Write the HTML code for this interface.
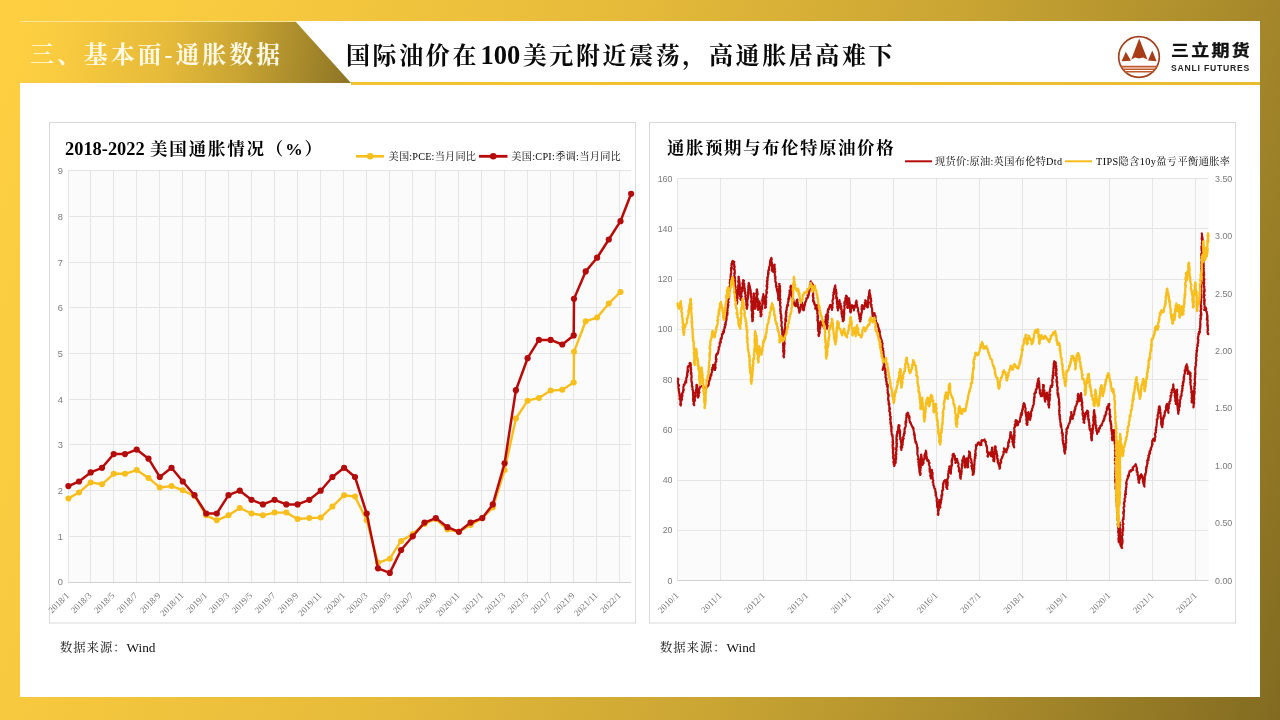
<!DOCTYPE html>
<html lang="zh-CN"><head><meta charset="utf-8"><title>三、基本面-通胀数据</title>
<style>
html,body{margin:0;padding:0}
body{width:1280px;height:720px;overflow:hidden;position:relative;
background:linear-gradient(109.3deg,rgb(253,207,65) 0%,rgb(248,202,63) 15%,rgb(229,186,58) 41.8%,rgb(202,165,51) 62.7%,rgb(173,142,44) 79%,rgb(130,107,33) 100%);
font-family:"Liberation Serif","Noto Serif CJK SC",serif}
.panel{position:absolute;left:20px;top:21px;width:1240px;height:676px;background:#fff}
.tab{position:absolute;left:20px;top:22px;width:331px;height:61px;
background:linear-gradient(97deg,rgb(253,207,65) 0%,rgb(248,202,63) 15%,rgb(229,186,58) 45%,rgb(202,165,51) 66%,rgb(173,142,44) 82%,rgb(140,116,38) 100%);
clip-path:polygon(0 0,276px 0,331px 61px,0 61px)}
.tabt{position:absolute;left:30px;top:25px;height:61px;line-height:61px;font-size:24px;font-weight:700;color:#fffae6;letter-spacing:2.9px;white-space:nowrap}
.title{position:absolute;left:345.5px;top:24.5px;height:61px;line-height:61px;font-size:24px;font-weight:700;color:#0a0a0a;letter-spacing:2.6px;white-space:nowrap}
.uline{position:absolute;left:351px;top:82px;width:909px;height:3px;background:linear-gradient(90deg,#f4c332,#efbf30 60%,#e9bb32)}
.logo{position:absolute;left:1115px;top:32.5px}
.brand{position:absolute;left:1170.5px;top:38.5px;width:80px;font-family:"Liberation Sans","Noto Sans CJK SC",sans-serif;font-weight:700;color:#111;font-size:15.6px;line-height:24px;white-space:nowrap;letter-spacing:2px;transform-origin:0 50%;transform:scaleX(1.15);-webkit-text-stroke:.35px #111}
.brand2{position:absolute;left:1171px;top:63px;font-family:"Liberation Sans",sans-serif;font-weight:700;color:#222;font-size:8.6px;line-height:10px;letter-spacing:.8px;white-space:nowrap}
.ct{position:absolute;font-weight:700;color:#000;font-size:17.5px;line-height:24px;white-space:nowrap;letter-spacing:.6px}
.src{position:absolute;font-size:12.3px;line-height:16px;color:#111;white-space:nowrap;letter-spacing:1px}
.src span{font-size:13.3px;letter-spacing:0}
svg.ch{position:absolute;left:0;top:0;will-change:transform}
.tabt,.title,.brand,.brand2,.ct,.src{will-change:transform}
.ax{font-family:"Liberation Sans",sans-serif;font-size:9.3px;fill:#7a7a7a}
.ax2{font-family:"Liberation Sans",sans-serif;font-size:8.9px;fill:#7a7a7a}
.xl{font-family:"Liberation Serif",serif;font-size:9.0px;fill:#777}
.lg{font-family:"Liberation Serif","Noto Serif CJK SC",serif;font-size:10.2px;fill:#000}
</style></head><body>
<div class="panel"></div>
<div class="tab"></div>
<div style="position:absolute;left:20px;top:21px;width:276px;height:1px;background:rgba(250,205,70,.55)"></div>
<div class="tabt">三、基本面-通胀数据</div>
<div class="title">国际油价在<span style="font-size:26.5px;letter-spacing:0;margin:0 2.6px 0 1.4px">100</span>美元附近震荡，高通胀居高难下</div>
<div class="uline"></div>
<svg class="logo" width="48" height="48" viewBox="0 0 48 48">
<circle cx="24" cy="24" r="20.3" fill="#fff" stroke="#a2431f" stroke-width="1.7"/>
<path d="M24.2 5.5 L32.5 26.5 L28 24.5 L24 25.5 L20 24.5 L16.2 26.8 Z" fill="#a83c17"/>
<path d="M10.8 18.8 L16 27.8 L6.6 28.3 Z" fill="#a83c17"/>
<path d="M37.3 17.6 L41.6 28.3 L33 27.6 Z" fill="#a83c17"/>
<path d="M6 33.6H42M7.5 36.2H40.5M9.5 38.8H38.5" stroke="#c0592c" stroke-width="1.6" fill="none"/>
</svg>
<div class="brand">三立期货</div>
<div class="brand2">SANLI FUTURES</div>
<svg class="ch" width="1280" height="720" viewBox="0 0 1280 720">
<rect x="49.5" y="122.5" width="586" height="500.5" fill="#fff" stroke="#d9d9d9" stroke-width="1"/>
<rect x="649.5" y="122.5" width="586" height="500.5" fill="#fff" stroke="#d9d9d9" stroke-width="1"/>
<rect x="68.0" y="171.0" width="563.0" height="411.0" fill="#fbfbfb"/>
<path d="M68.0 582.5H631.0M68.0 536.5H631.0M68.0 490.5H631.0M68.0 444.5H631.0M68.0 399.5H631.0M68.0 353.5H631.0M68.0 307.5H631.0M68.0 262.5H631.0M68.0 216.5H631.0M68.0 170.5H631.0M68.5 171.0V582.0M90.5 171.0V582.0M113.5 171.0V582.0M136.5 171.0V582.0M159.5 171.0V582.0M182.5 171.0V582.0M205.5 171.0V582.0M228.5 171.0V582.0M251.5 171.0V582.0M274.5 171.0V582.0M297.5 171.0V582.0M320.5 171.0V582.0M343.5 171.0V582.0M366.5 171.0V582.0M389.5 171.0V582.0M412.5 171.0V582.0M435.5 171.0V582.0M458.5 171.0V582.0M481.5 171.0V582.0M504.5 171.0V582.0M527.5 171.0V582.0M550.5 171.0V582.0M573.5 171.0V582.0M596.5 171.0V582.0M619.5 171.0V582.0" stroke="#e5e5e5" stroke-width="1" fill="none"/>
<path d="M68.0 582.5H631.0" stroke="#d2d2d2" stroke-width="1" fill="none"/>
<text x="63" y="585.2" class="ax" text-anchor="end">0</text>
<text x="63" y="539.5" class="ax" text-anchor="end">1</text>
<text x="63" y="493.9" class="ax" text-anchor="end">2</text>
<text x="63" y="448.2" class="ax" text-anchor="end">3</text>
<text x="63" y="402.5" class="ax" text-anchor="end">4</text>
<text x="63" y="356.8" class="ax" text-anchor="end">5</text>
<text x="63" y="311.2" class="ax" text-anchor="end">6</text>
<text x="63" y="265.5" class="ax" text-anchor="end">7</text>
<text x="63" y="219.8" class="ax" text-anchor="end">8</text>
<text x="63" y="174.2" class="ax" text-anchor="end">9</text>
<text transform="translate(69.8,596.0) rotate(-45)" class="xl" text-anchor="end">2018/1</text>
<text transform="translate(92.1,596.0) rotate(-45)" class="xl" text-anchor="end">2018/3</text>
<text transform="translate(115.1,596.0) rotate(-45)" class="xl" text-anchor="end">2018/5</text>
<text transform="translate(138.1,596.0) rotate(-45)" class="xl" text-anchor="end">2018/7</text>
<text transform="translate(161.2,596.0) rotate(-45)" class="xl" text-anchor="end">2018/9</text>
<text transform="translate(184.2,596.0) rotate(-45)" class="xl" text-anchor="end">2018/11</text>
<text transform="translate(207.6,596.0) rotate(-45)" class="xl" text-anchor="end">2019/1</text>
<text transform="translate(229.9,596.0) rotate(-45)" class="xl" text-anchor="end">2019/3</text>
<text transform="translate(252.9,596.0) rotate(-45)" class="xl" text-anchor="end">2019/5</text>
<text transform="translate(276.0,596.0) rotate(-45)" class="xl" text-anchor="end">2019/7</text>
<text transform="translate(299.0,596.0) rotate(-45)" class="xl" text-anchor="end">2019/9</text>
<text transform="translate(322.1,596.0) rotate(-45)" class="xl" text-anchor="end">2019/11</text>
<text transform="translate(345.5,596.0) rotate(-45)" class="xl" text-anchor="end">2020/1</text>
<text transform="translate(368.1,596.0) rotate(-45)" class="xl" text-anchor="end">2020/3</text>
<text transform="translate(391.2,596.0) rotate(-45)" class="xl" text-anchor="end">2020/5</text>
<text transform="translate(414.2,596.0) rotate(-45)" class="xl" text-anchor="end">2020/7</text>
<text transform="translate(437.2,596.0) rotate(-45)" class="xl" text-anchor="end">2020/9</text>
<text transform="translate(460.3,596.0) rotate(-45)" class="xl" text-anchor="end">2020/11</text>
<text transform="translate(483.7,596.0) rotate(-45)" class="xl" text-anchor="end">2021/1</text>
<text transform="translate(506.0,596.0) rotate(-45)" class="xl" text-anchor="end">2021/3</text>
<text transform="translate(529.0,596.0) rotate(-45)" class="xl" text-anchor="end">2021/5</text>
<text transform="translate(552.0,596.0) rotate(-45)" class="xl" text-anchor="end">2021/7</text>
<text transform="translate(575.1,596.0) rotate(-45)" class="xl" text-anchor="end">2021/9</text>
<text transform="translate(598.1,596.0) rotate(-45)" class="xl" text-anchor="end">2021/11</text>
<text transform="translate(621.5,596.0) rotate(-45)" class="xl" text-anchor="end">2022/1</text>
<polyline points="68.4,498.4 79.0,492.5 90.7,482.4 102.0,484.3 113.7,473.8 125.0,473.8 136.7,470.1 148.5,477.9 159.8,487.5 171.5,486.1 182.8,490.2 194.5,496.1 206.2,515.3 216.8,520.3 228.5,515.3 239.8,508.0 251.5,513.5 262.9,515.3 274.6,512.6 286.3,512.6 297.6,519.0 309.3,518.1 320.7,517.6 332.4,506.6 344.1,495.2 355.0,496.6 366.7,520.3 378.0,562.8 389.8,558.7 401.1,540.9 412.8,534.0 424.5,524.0 435.8,519.0 447.5,529.5 458.9,531.8 470.6,524.9 482.3,518.1 492.8,507.6 504.6,470.1 515.9,418.5 527.6,400.7 538.9,397.9 550.6,390.6 562.3,389.7 573.7,382.4 574.0,351.8 585.7,321.2 597.1,317.6 608.8,303.4 620.5,292.0" fill="none" stroke="#f8be1c" stroke-width="2.4" stroke-linejoin="round" stroke-linecap="round"/>
<g fill="#f8be1c"><circle cx="68.4" cy="498.4" r="3.0"/><circle cx="79.0" cy="492.5" r="3.0"/><circle cx="90.7" cy="482.4" r="3.0"/><circle cx="102.0" cy="484.3" r="3.0"/><circle cx="113.7" cy="473.8" r="3.0"/><circle cx="125.0" cy="473.8" r="3.0"/><circle cx="136.7" cy="470.1" r="3.0"/><circle cx="148.5" cy="477.9" r="3.0"/><circle cx="159.8" cy="487.5" r="3.0"/><circle cx="171.5" cy="486.1" r="3.0"/><circle cx="182.8" cy="490.2" r="3.0"/><circle cx="194.5" cy="496.1" r="3.0"/><circle cx="206.2" cy="515.3" r="3.0"/><circle cx="216.8" cy="520.3" r="3.0"/><circle cx="228.5" cy="515.3" r="3.0"/><circle cx="239.8" cy="508.0" r="3.0"/><circle cx="251.5" cy="513.5" r="3.0"/><circle cx="262.9" cy="515.3" r="3.0"/><circle cx="274.6" cy="512.6" r="3.0"/><circle cx="286.3" cy="512.6" r="3.0"/><circle cx="297.6" cy="519.0" r="3.0"/><circle cx="309.3" cy="518.1" r="3.0"/><circle cx="320.7" cy="517.6" r="3.0"/><circle cx="332.4" cy="506.6" r="3.0"/><circle cx="344.1" cy="495.2" r="3.0"/><circle cx="355.0" cy="496.6" r="3.0"/><circle cx="366.7" cy="520.3" r="3.0"/><circle cx="378.0" cy="562.8" r="3.0"/><circle cx="389.8" cy="558.7" r="3.0"/><circle cx="401.1" cy="540.9" r="3.0"/><circle cx="412.8" cy="534.0" r="3.0"/><circle cx="424.5" cy="524.0" r="3.0"/><circle cx="435.8" cy="519.0" r="3.0"/><circle cx="447.5" cy="529.5" r="3.0"/><circle cx="458.9" cy="531.8" r="3.0"/><circle cx="470.6" cy="524.9" r="3.0"/><circle cx="482.3" cy="518.1" r="3.0"/><circle cx="492.8" cy="507.6" r="3.0"/><circle cx="504.6" cy="470.1" r="3.0"/><circle cx="515.9" cy="418.5" r="3.0"/><circle cx="527.6" cy="400.7" r="3.0"/><circle cx="538.9" cy="397.9" r="3.0"/><circle cx="550.6" cy="390.6" r="3.0"/><circle cx="562.3" cy="389.7" r="3.0"/><circle cx="573.7" cy="382.4" r="3.0"/><circle cx="574.0" cy="351.8" r="3.0"/><circle cx="585.7" cy="321.2" r="3.0"/><circle cx="597.1" cy="317.6" r="3.0"/><circle cx="608.8" cy="303.4" r="3.0"/><circle cx="620.5" cy="292.0" r="3.0"/></g>
<polyline points="68.4,486.1 79.0,481.5 90.7,472.4 102.0,467.8 113.7,454.1 125.0,454.1 136.7,449.6 148.5,458.7 159.8,477.0 171.5,467.8 182.8,481.5 194.5,495.2 206.2,513.5 216.8,513.5 228.5,495.2 239.8,490.7 251.5,499.8 262.9,504.4 274.6,499.8 286.3,504.4 297.6,504.4 309.3,499.8 320.7,490.7 332.4,477.0 344.1,467.8 355.0,477.0 366.7,513.5 378.0,568.3 389.8,572.9 401.1,550.0 412.8,536.3 424.5,522.6 435.8,518.1 447.5,527.2 458.9,531.8 470.6,522.6 482.3,518.1 492.8,504.4 504.6,463.3 515.9,390.2 527.6,358.2 538.9,339.9 550.6,339.9 562.3,344.5 573.7,335.4 574.0,298.8 585.7,271.4 597.1,257.7 608.8,239.5 620.5,221.2 631.1,193.8" fill="none" stroke="#b90a0a" stroke-width="2.5" stroke-linejoin="round" stroke-linecap="round"/>
<g fill="#b40b0b"><circle cx="68.4" cy="486.1" r="3.1"/><circle cx="79.0" cy="481.5" r="3.1"/><circle cx="90.7" cy="472.4" r="3.1"/><circle cx="102.0" cy="467.8" r="3.1"/><circle cx="113.7" cy="454.1" r="3.1"/><circle cx="125.0" cy="454.1" r="3.1"/><circle cx="136.7" cy="449.6" r="3.1"/><circle cx="148.5" cy="458.7" r="3.1"/><circle cx="159.8" cy="477.0" r="3.1"/><circle cx="171.5" cy="467.8" r="3.1"/><circle cx="182.8" cy="481.5" r="3.1"/><circle cx="194.5" cy="495.2" r="3.1"/><circle cx="206.2" cy="513.5" r="3.1"/><circle cx="216.8" cy="513.5" r="3.1"/><circle cx="228.5" cy="495.2" r="3.1"/><circle cx="239.8" cy="490.7" r="3.1"/><circle cx="251.5" cy="499.8" r="3.1"/><circle cx="262.9" cy="504.4" r="3.1"/><circle cx="274.6" cy="499.8" r="3.1"/><circle cx="286.3" cy="504.4" r="3.1"/><circle cx="297.6" cy="504.4" r="3.1"/><circle cx="309.3" cy="499.8" r="3.1"/><circle cx="320.7" cy="490.7" r="3.1"/><circle cx="332.4" cy="477.0" r="3.1"/><circle cx="344.1" cy="467.8" r="3.1"/><circle cx="355.0" cy="477.0" r="3.1"/><circle cx="366.7" cy="513.5" r="3.1"/><circle cx="378.0" cy="568.3" r="3.1"/><circle cx="389.8" cy="572.9" r="3.1"/><circle cx="401.1" cy="550.0" r="3.1"/><circle cx="412.8" cy="536.3" r="3.1"/><circle cx="424.5" cy="522.6" r="3.1"/><circle cx="435.8" cy="518.1" r="3.1"/><circle cx="447.5" cy="527.2" r="3.1"/><circle cx="458.9" cy="531.8" r="3.1"/><circle cx="470.6" cy="522.6" r="3.1"/><circle cx="482.3" cy="518.1" r="3.1"/><circle cx="492.8" cy="504.4" r="3.1"/><circle cx="504.6" cy="463.3" r="3.1"/><circle cx="515.9" cy="390.2" r="3.1"/><circle cx="527.6" cy="358.2" r="3.1"/><circle cx="538.9" cy="339.9" r="3.1"/><circle cx="550.6" cy="339.9" r="3.1"/><circle cx="562.3" cy="344.5" r="3.1"/><circle cx="573.7" cy="335.4" r="3.1"/><circle cx="574.0" cy="298.8" r="3.1"/><circle cx="585.7" cy="271.4" r="3.1"/><circle cx="597.1" cy="257.7" r="3.1"/><circle cx="608.8" cy="239.5" r="3.1"/><circle cx="620.5" cy="221.2" r="3.1"/><circle cx="631.1" cy="193.8" r="3.1"/></g>
<path d="M356 156.3H384" stroke="#f8be1c" stroke-width="2.6"/><circle cx="370.2" cy="156.3" r="3.2" fill="#f8be1c"/>
<path d="M479 156.3H507.5" stroke="#b90a0a" stroke-width="2.8"/><circle cx="493.2" cy="156.3" r="3.3" fill="#b40b0b"/>
<text x="388.5" y="160" class="lg" textLength="87.5" lengthAdjust="spacing">美国:PCE:当月同比</text>
<text x="511.3" y="160" class="lg" textLength="109.5" lengthAdjust="spacing">美国:CPI:季调:当月同比</text>
<rect x="677.0" y="178.6" width="531.5" height="402.0" fill="#fbfbfb"/>
<path d="M677.0 580.5H1208.5M677.0 530.5H1208.5M677.0 480.5H1208.5M677.0 429.5H1208.5M677.0 379.5H1208.5M677.0 329.5H1208.5M677.0 279.5H1208.5M677.0 228.5H1208.5M677.0 178.5H1208.5M677.5 178.6V580.6M720.5 178.6V580.6M763.5 178.6V580.6M806.5 178.6V580.6M850.5 178.6V580.6M893.5 178.6V580.6M936.5 178.6V580.6M979.5 178.6V580.6M1022.5 178.6V580.6M1066.5 178.6V580.6M1109.5 178.6V580.6M1152.5 178.6V580.6M1195.5 178.6V580.6" stroke="#e5e5e5" stroke-width="1" fill="none"/>
<path d="M677.0 580.5H1208.5" stroke="#d2d2d2" stroke-width="1" fill="none"/>
<text x="672.5" y="583.6" class="ax2" text-anchor="end">0</text>
<text x="672.5" y="533.4" class="ax2" text-anchor="end">20</text>
<text x="672.5" y="483.1" class="ax2" text-anchor="end">40</text>
<text x="672.5" y="432.9" class="ax2" text-anchor="end">60</text>
<text x="672.5" y="382.6" class="ax2" text-anchor="end">80</text>
<text x="672.5" y="332.4" class="ax2" text-anchor="end">100</text>
<text x="672.5" y="282.1" class="ax2" text-anchor="end">120</text>
<text x="672.5" y="231.9" class="ax2" text-anchor="end">140</text>
<text x="672.5" y="181.6" class="ax2" text-anchor="end">160</text>
<text x="1215" y="583.6" class="ax2">0.00</text>
<text x="1215" y="526.2" class="ax2">0.50</text>
<text x="1215" y="468.7" class="ax2">1.00</text>
<text x="1215" y="411.3" class="ax2">1.50</text>
<text x="1215" y="353.9" class="ax2">2.00</text>
<text x="1215" y="296.5" class="ax2">2.50</text>
<text x="1215" y="239.0" class="ax2">3.00</text>
<text x="1215" y="181.6" class="ax2">3.50</text>
<text transform="translate(679.1,596.0) rotate(-45)" class="xl" text-anchor="end">2010/1</text>
<text transform="translate(722.3,596.0) rotate(-45)" class="xl" text-anchor="end">2011/1</text>
<text transform="translate(765.5,596.0) rotate(-45)" class="xl" text-anchor="end">2012/1</text>
<text transform="translate(808.7,596.0) rotate(-45)" class="xl" text-anchor="end">2013/1</text>
<text transform="translate(851.9,596.0) rotate(-45)" class="xl" text-anchor="end">2014/1</text>
<text transform="translate(895.0,596.0) rotate(-45)" class="xl" text-anchor="end">2015/1</text>
<text transform="translate(938.2,596.0) rotate(-45)" class="xl" text-anchor="end">2016/1</text>
<text transform="translate(981.4,596.0) rotate(-45)" class="xl" text-anchor="end">2017/1</text>
<text transform="translate(1024.6,596.0) rotate(-45)" class="xl" text-anchor="end">2018/1</text>
<text transform="translate(1067.8,596.0) rotate(-45)" class="xl" text-anchor="end">2019/1</text>
<text transform="translate(1111.0,596.0) rotate(-45)" class="xl" text-anchor="end">2020/1</text>
<text transform="translate(1154.2,596.0) rotate(-45)" class="xl" text-anchor="end">2021/1</text>
<text transform="translate(1197.4,596.0) rotate(-45)" class="xl" text-anchor="end">2022/1</text>
<polyline points="678.0,378.8 677.9,378.5 678.3,379.0 678.2,380.4 677.8,381.4 677.8,381.9 677.9,381.7 678.3,384.2 678.0,383.3 678.6,385.9 678.6,385.1 679.0,384.9 679.0,386.1 678.3,386.4 678.5,388.8 678.5,388.9 679.0,389.0 678.9,390.0 679.0,389.5 678.6,390.6 679.3,391.9 679.0,392.9 679.3,392.9 679.7,394.6 679.2,395.0 679.6,396.4 679.9,395.6 680.2,395.8 679.7,398.2 679.5,398.2 679.5,399.3 680.3,399.7 680.5,399.7 680.4,401.2 680.4,401.5 680.7,403.4 680.5,403.4 680.1,404.2 680.8,405.6 680.8,405.0 681.2,403.8 680.8,404.1 680.6,402.9 680.8,401.4 680.8,402.4 681.0,400.4 681.3,401.4 681.1,399.6 681.7,400.1 682.1,399.4 681.6,397.5 681.8,398.1 682.5,395.5 681.8,395.1 682.0,395.1 682.4,393.9 681.9,393.6 682.4,393.3 682.6,392.5 683.2,392.4 683.0,391.6 683.3,389.5 683.6,390.7 683.8,390.1 683.5,388.5 683.3,388.5 683.4,386.4 683.7,386.0 684.0,385.1 683.8,384.7 684.5,385.0 684.3,384.0 684.5,384.7 685.3,382.2 685.2,382.1 685.5,380.9 686.3,382.5 686.1,380.6 686.4,380.0 686.1,378.3 686.4,378.0 687.0,377.1 686.3,378.4 686.9,375.6 687.0,374.6 687.1,376.4 687.5,375.0 687.0,373.5 687.0,373.8 687.4,373.2 687.3,371.0 687.9,372.3 688.0,371.2 688.1,370.3 687.6,369.0 687.8,367.1 687.6,367.1 687.9,367.4 688.2,366.2 689.1,365.6 689.4,366.5 689.8,364.3 689.5,363.5 689.8,362.9 690.5,363.1 690.7,364.9 690.9,364.4 690.8,366.0 690.3,366.3 691.1,367.3 691.0,367.2 690.5,368.7 690.7,369.4 691.3,369.0 690.8,371.1 691.2,369.8 690.6,370.4 691.4,372.8 690.7,373.6 691.6,373.8 691.0,374.2 690.8,373.5 691.7,375.8 691.3,377.3 691.3,377.8 691.4,377.5 691.8,377.4 691.3,378.3 691.3,379.7 691.4,379.9 691.4,381.9 691.7,381.4 692.0,383.2 691.9,383.9 692.0,383.5 692.1,382.9 692.1,384.0 691.8,386.2 692.0,386.0 692.6,386.9 692.3,387.5 692.6,388.8 692.6,388.8 692.3,389.6 692.5,389.5 693.1,390.8 692.9,392.1 693.3,392.0 693.1,392.8 693.0,394.0 693.0,394.3 693.1,396.0 693.3,396.5 693.6,395.6 693.3,398.0 693.6,396.6 693.0,398.1 693.0,398.2 693.0,400.0 693.8,401.3 693.2,401.5 693.8,400.7 694.0,403.5 693.4,404.1 693.7,403.6 694.3,405.2 693.9,405.0 693.6,404.2 694.1,403.3 693.9,402.6 694.5,401.1 694.4,401.6 694.0,400.6 694.7,400.4 694.2,401.0 695.1,400.3 694.5,397.8 694.5,398.5 694.8,396.1 695.1,397.5 695.6,395.2 695.0,396.2 695.5,395.0 695.1,392.7 695.8,393.0 695.8,392.5 695.4,393.0 696.1,391.9 695.7,391.4 695.8,390.7 696.3,388.7 696.5,389.5 696.3,386.8 696.7,386.4 696.4,385.5 696.4,384.9 697.0,385.0 696.9,385.2 697.4,385.8 697.2,386.2 697.1,386.5 697.1,387.2 697.6,389.3 697.2,389.8 698.0,389.5 697.9,391.1 697.7,392.8 697.7,392.7 698.0,394.6 697.7,394.9 698.2,395.1 697.9,395.0 697.7,395.1 697.8,397.4 698.2,397.5 698.1,396.0 698.0,397.0 698.9,395.9 698.4,394.1 698.5,394.0 698.5,393.3 698.7,394.0 699.5,392.2 698.9,392.7 699.0,390.4 698.8,389.8 699.4,389.4 699.5,388.8 699.6,388.3 699.8,387.3 700.3,387.2 700.7,385.8 701.4,386.0 702.0,386.2 702.6,386.7 703.3,387.5 703.8,388.5 704.0,387.5 705.1,387.4 705.1,388.8 705.8,388.6 705.6,388.6 706.9,387.5 707.1,387.4 707.0,386.1 707.8,386.4 708.2,385.0 708.7,385.2 708.6,384.8 708.9,383.6 708.6,381.3 708.7,381.5 708.8,382.1 709.4,381.0 709.5,380.0 709.8,379.8 709.9,377.5 710.4,378.8 710.3,377.6 710.6,375.7 710.9,375.6 710.4,375.0 711.2,374.2 711.4,375.6 711.4,373.8 711.5,372.8 711.6,372.9 712.1,372.0 712.1,370.0 711.7,369.7 712.5,369.2 712.5,367.8 712.1,367.8 712.8,368.2 713.0,366.5 713.0,366.3 713.1,364.7 713.2,365.0 713.9,364.8 714.2,367.4 713.5,366.8 714.5,368.7 714.4,367.5 714.4,369.9 714.6,369.6 715.1,370.0 714.8,369.4 715.7,367.7 715.6,368.0 715.7,367.8 715.1,367.6 715.5,364.7 715.0,365.2 715.5,364.0 715.3,363.5 715.5,364.1 715.3,363.2 716.1,360.8 716.3,361.7 716.3,359.9 715.8,359.5 716.5,359.3 716.0,358.2 715.9,356.6 715.8,357.9 716.0,357.5 716.1,355.1 716.4,355.0 716.7,353.6 716.9,354.9 717.7,353.9 717.8,353.6 718.4,352.0 718.2,351.2 718.6,349.4 718.8,349.8 718.9,349.6 718.6,347.4 719.4,346.9 719.1,346.8 719.1,347.2 719.9,345.2 719.7,344.7 719.7,344.2 719.5,343.0 719.7,344.2 720.1,342.5 720.3,341.1 720.9,342.5 720.6,339.7 720.6,338.9 720.9,338.3 721.0,338.1 721.5,339.1 721.9,337.3 721.7,336.9 722.0,336.2 722.1,335.2 721.9,334.4 723.0,333.4 722.8,334.1 723.3,332.4 722.9,331.8 723.2,331.7 724.0,332.2 724.1,329.4 723.9,330.0 723.6,329.9 724.6,328.6 724.5,326.7 724.4,328.4 725.0,327.6 725.3,325.3 724.7,324.4 725.2,325.1 725.8,324.6 725.7,324.0 725.7,322.8 725.4,322.7 725.8,322.4 726.4,320.2 726.4,320.0 726.1,318.7 726.7,319.2 726.2,316.9 726.7,317.5 726.6,315.9 726.9,314.7 726.7,315.2 727.4,315.0 727.4,313.9 726.8,312.6 727.6,313.1 727.0,310.7 727.3,311.7 727.3,309.9 727.6,311.0 727.3,308.0 727.4,308.4 727.9,307.1 728.0,307.8 727.8,305.8 728.4,305.4 728.3,304.5 727.8,305.2 727.9,305.0 728.2,302.4 728.2,302.5 728.0,301.6 728.6,302.3 728.1,300.2 728.2,301.0 728.2,297.9 728.2,298.1 729.1,298.7 729.0,298.3 729.3,295.9 728.6,296.8 729.2,293.8 729.2,294.0 729.0,293.2 728.9,291.7 729.1,291.9 729.8,290.6 729.9,290.1 729.3,291.1 729.9,289.4 729.2,288.8 729.6,289.3 729.8,287.5 729.5,286.5 730.3,284.9 729.8,286.2 730.2,283.5 729.6,282.9 730.5,282.7 730.4,283.7 730.0,281.4 730.7,281.6 730.1,281.1 730.2,279.3 729.9,279.8 730.9,278.8 731.0,276.5 730.3,277.0 731.1,277.6 730.6,275.0 730.8,275.0 730.7,274.3 731.3,272.8 731.2,273.5 731.3,272.9 731.2,271.1 731.0,270.5 731.5,269.1 731.0,270.1 731.1,267.7 730.9,268.2 731.3,268.6 731.9,268.0 731.4,264.9 731.3,265.3 731.9,264.5 731.5,263.7 732.0,263.7 732.2,263.5 732.0,261.9 732.7,260.9 733.4,261.3 733.7,261.5 734.1,261.9 734.4,261.8 733.9,262.6 733.8,264.9 734.3,264.2 734.1,266.6 734.3,265.3 734.6,267.1 734.8,266.4 734.3,268.9 734.7,269.9 733.9,268.9 734.0,269.4 734.9,271.1 734.8,271.2 734.8,272.1 734.2,273.6 734.9,272.6 734.6,274.6 734.5,275.0 734.3,275.3 734.2,275.6 734.4,277.3 734.9,276.9 734.3,277.9 735.0,278.2 734.7,279.0 735.2,280.5 734.5,280.1 734.9,281.9 735.2,281.4 734.8,283.6 735.1,283.2 735.0,285.7 735.1,285.3 735.2,285.6 735.7,287.8 735.3,286.4 735.7,287.1 735.0,289.6 735.5,290.1 735.6,290.9 735.7,289.7 735.8,291.2 735.3,292.1 736.0,293.7 735.5,293.7 735.9,294.0 735.7,294.2 736.2,296.5 735.8,296.1 736.6,298.0 736.1,296.5 736.9,299.4 736.5,297.7 737.0,299.3 737.1,300.6 737.0,300.1 737.1,300.9 736.8,303.3 737.3,302.2 737.0,303.8 736.8,302.8 737.1,302.1 736.8,301.0 737.4,302.0 736.8,300.5 737.5,298.4 737.7,297.9 737.5,298.4 737.6,297.0 737.4,297.1 737.5,296.6 737.5,295.3 737.1,295.1 737.7,293.4 738.0,294.1 737.7,291.9 737.8,291.0 737.5,291.2 737.5,290.5 738.0,288.8 738.1,288.2 738.3,289.3 738.1,286.7 738.2,286.9 738.7,285.6 738.6,287.1 738.5,286.0 738.0,285.7 738.4,285.0 738.9,282.2 738.8,283.5 738.1,281.3 738.8,280.1 739.0,279.7 739.0,278.7 738.7,280.0 738.5,277.6 738.8,277.1 738.9,276.9 738.5,276.7 738.6,279.4 739.2,280.0 738.7,280.4 738.7,280.4 739.3,280.7 739.6,281.9 739.3,283.4 738.9,284.4 739.5,283.6 739.7,283.9 739.9,285.4 739.4,286.6 739.5,285.8 739.8,286.2 740.0,287.4 739.8,290.0 739.8,289.8 739.6,288.8 739.4,289.9 740.0,291.3 739.9,293.2 739.6,292.2 740.2,292.4 739.6,293.9 740.1,295.0 739.8,295.3 740.1,296.5 740.5,296.1 740.7,297.4 740.3,299.3 740.5,297.8 740.5,299.7 741.0,300.0 741.4,300.0 741.1,298.0 740.7,298.3 741.4,296.9 741.5,296.4 741.9,296.5 741.3,296.2 741.2,294.6 741.6,293.1 741.3,293.8 741.4,292.5 742.4,290.8 741.7,291.3 742.1,290.7 742.5,288.8 742.1,288.4 741.9,289.3 742.7,288.1 742.0,287.8 742.8,286.1 742.9,285.4 742.4,283.8 742.5,282.9 742.7,284.1 743.1,283.7 743.2,281.5 743.1,281.2 743.5,280.8 743.2,280.0 743.1,281.0 743.9,280.6 744.0,280.7 743.5,282.0 744.0,284.5 744.2,283.5 744.4,284.2 743.9,286.4 744.4,286.5 744.5,287.9 744.4,288.2 744.8,288.9 744.6,289.2 744.9,288.8 744.6,290.2 744.6,291.7 745.1,291.2 744.8,290.7 744.9,293.7 745.2,292.3 744.9,292.8 745.7,295.0 745.8,295.9 745.2,296.2 745.6,297.5 746.1,298.3 745.4,298.9 746.3,299.8 745.6,298.6 745.7,298.8 746.5,301.5 746.3,302.2 746.4,301.5 746.0,301.6 746.7,302.6 746.3,303.8 746.1,304.1 746.4,305.9 746.6,305.6 747.2,306.7 747.2,307.7 746.5,307.9 747.0,308.8 747.0,308.8 746.9,307.9 747.2,305.9 747.6,304.9 747.6,304.4 746.8,303.8 747.6,305.1 746.9,303.2 747.4,303.3 747.2,301.8 747.4,302.0 747.4,301.6 747.4,299.0 747.9,299.0 747.4,298.7 747.4,298.4 748.1,297.7 748.0,295.9 747.9,295.3 748.4,293.8 748.5,293.0 747.8,292.9 748.6,292.8 748.1,293.1 748.0,291.3 748.3,291.4 748.6,290.4 748.3,288.9 748.1,289.6 748.7,288.6 748.2,287.1 748.9,286.8 748.3,285.8 749.1,284.5 748.5,284.0 749.0,284.7 748.9,283.1 748.7,282.9 748.9,284.0 749.4,284.3 749.3,285.0 750.1,287.1 749.4,288.4 749.6,287.6 750.6,289.3 750.5,289.0 750.1,290.3 750.2,289.8 750.8,291.2 750.7,290.7 750.7,293.4 751.1,293.3 751.1,293.9 750.6,295.0 750.9,296.1 751.5,296.0 751.2,297.5 751.1,296.8 751.4,299.2 751.5,299.4 751.6,300.1 751.5,300.2 751.2,301.4 751.0,301.5 751.7,303.0 751.6,302.5 751.5,303.7 751.7,304.3 751.8,306.3 751.3,306.3 752.0,306.3 751.7,308.5 751.3,308.1 751.5,309.4 752.3,309.4 751.5,310.3 752.0,311.3 752.0,311.8 752.4,312.2 752.0,314.0 751.9,314.1 752.1,315.0 751.9,316.2 752.1,314.5 752.1,316.1 751.9,316.9 752.3,318.3 752.3,317.8 752.2,319.8 753.0,319.9 752.3,321.3 752.6,321.2 752.5,319.8 752.3,320.6 753.0,319.5 752.7,318.7 752.5,319.0 752.7,317.5 753.2,317.3 752.8,315.2 753.0,314.1 753.3,314.0 753.3,313.1 752.9,312.4 753.0,311.5 752.6,312.2 752.9,310.3 752.9,310.2 753.1,309.9 753.3,308.5 753.6,309.1 752.8,308.4 753.7,307.6 753.0,307.0 753.5,304.2 752.9,305.9 753.6,303.4 753.0,302.4 753.2,303.4 753.3,301.1 753.9,302.1 753.2,301.6 753.7,300.7 753.8,300.3 753.9,299.4 753.4,298.4 753.7,297.8 753.7,297.5 753.8,295.2 753.5,294.2 753.8,293.3 753.9,293.8 753.9,293.5 754.0,295.1 754.1,296.7 753.6,297.4 754.1,297.3 754.4,298.7 754.1,298.3 754.8,298.1 754.5,300.2 754.0,300.9 754.7,302.4 754.4,303.2 754.6,302.6 755.1,302.1 754.9,304.3 754.6,305.6 754.7,305.3 754.9,306.7 754.7,306.5 754.9,307.5 755.4,307.5 755.1,308.8 755.5,307.8 755.3,306.8 755.3,307.9 755.5,306.7 755.3,304.8 755.3,304.8 755.7,304.6 755.2,303.8 756.1,302.6 755.3,301.3 755.4,300.3 756.4,300.7 756.2,300.5 756.5,299.4 756.2,298.7 756.4,297.9 756.4,296.2 756.5,296.2 756.7,294.6 756.1,293.7 756.8,295.3 756.8,293.2 757.0,293.6 756.8,291.5 756.6,291.2 756.7,290.6 757.1,291.2 757.0,289.4 756.6,290.2 756.6,289.8 757.4,291.6 757.6,292.0 756.7,292.5 757.3,294.6 757.8,294.1 757.2,293.8 757.5,294.8 757.1,295.0 757.0,297.4 757.1,298.8 757.1,299.3 757.2,297.7 757.8,299.0 757.9,299.6 757.3,301.8 758.0,302.7 758.0,301.4 758.0,303.7 757.8,304.9 757.7,305.7 758.2,303.9 757.5,306.3 758.4,305.5 757.9,307.8 757.8,308.9 758.2,307.5 758.1,309.5 758.2,310.0 758.3,309.8 758.1,309.4 758.4,308.4 758.8,307.1 758.6,307.4 759.3,306.7 759.0,304.7 758.6,305.8 759.3,304.8 759.0,303.5 759.8,303.5 759.5,301.4 759.5,301.2 759.5,302.9 759.5,303.1 759.8,304.3 760.1,303.4 759.3,304.0 759.8,305.6 760.3,307.0 759.6,307.6 760.4,308.3 760.3,307.5 760.6,309.5 760.5,310.5 760.2,309.0 760.5,311.6 760.2,312.1 761.0,311.5 760.8,313.3 760.7,312.8 760.6,314.9 761.2,314.8 760.5,316.4 761.0,316.2 761.3,314.9 761.2,315.9 761.6,314.3 761.3,313.7 761.0,312.0 761.1,312.7 761.4,311.6 761.5,310.8 761.3,308.9 762.2,309.1 761.4,309.1 762.1,307.2 762.0,307.0 762.0,305.4 761.6,307.3 762.5,305.3 762.3,304.0 762.5,303.8 762.8,304.0 762.7,303.8 762.2,300.7 762.2,300.4 762.2,299.4 762.7,300.8 762.7,300.3 763.2,297.3 763.0,297.5 762.6,298.3 762.8,296.6 763.3,296.9 763.3,294.8 763.2,294.4 763.3,294.1 763.9,297.0 763.3,295.1 763.5,296.6 764.2,298.7 764.3,297.1 764.3,299.5 764.3,300.9 763.8,299.4 764.6,302.1 764.7,301.1 764.7,302.9 764.3,302.4 764.6,302.6 764.9,303.4 764.8,303.9 765.3,304.3 765.5,305.4 764.9,308.0 765.5,307.5 765.3,307.9 766.0,307.1 765.3,305.3 765.3,305.8 766.1,304.4 765.7,302.9 766.2,302.6 766.0,301.0 765.7,300.1 766.2,300.7 765.7,300.8 765.8,298.9 765.8,297.9 766.5,297.3 765.9,297.0 766.1,297.4 765.9,296.9 765.9,296.0 766.6,293.5 766.4,293.0 766.3,292.1 766.4,293.5 767.1,292.6 766.3,290.2 767.1,288.9 767.0,288.9 767.3,287.4 767.2,287.6 766.5,286.0 767.3,286.7 766.7,285.8 767.5,284.5 767.2,283.6 766.8,284.5 767.4,282.4 766.8,281.4 767.4,281.7 767.1,280.3 767.5,280.9 767.7,279.9 767.2,277.8 767.8,278.0 767.8,276.4 767.6,276.9 768.1,275.8 768.2,276.5 768.0,273.6 768.5,274.2 768.6,272.9 768.0,273.8 768.3,271.4 768.4,271.8 768.2,270.9 768.7,270.3 768.5,270.1 769.3,269.9 769.0,268.8 769.1,268.2 768.9,267.9 769.5,266.2 770.1,265.6 769.8,265.0 770.0,263.0 770.6,262.8 770.0,261.8 770.2,263.0 770.1,260.5 770.9,260.0 770.4,260.4 771.1,259.5 771.4,257.8 771.4,258.1 771.8,259.4 771.0,258.5 771.5,260.2 771.4,259.9 771.5,260.6 771.8,263.2 771.4,263.1 772.0,262.8 772.2,265.5 771.8,264.8 772.3,265.8 771.9,267.6 772.3,266.7 771.9,267.4 772.1,269.7 772.5,270.3 772.6,270.8 771.9,270.6 772.4,271.2 773.0,271.8 772.5,269.8 773.1,269.0 773.2,267.6 773.2,268.1 773.0,266.6 774.2,267.6 774.3,266.6 774.4,266.6 774.2,265.0 774.7,264.5 774.5,265.7 774.6,266.4 774.5,268.8 774.7,267.7 774.6,268.9 775.1,269.2 774.5,270.8 774.4,271.3 775.3,271.8 774.7,272.3 775.0,272.2 774.6,272.8 774.9,274.2 774.9,274.4 774.8,275.9 775.6,276.7 775.4,277.5 775.0,278.3 775.4,278.6 775.6,279.1 775.3,279.1 775.3,280.5 775.5,281.4 775.2,281.4 775.8,282.5 776.2,282.5 776.1,283.8 775.9,285.8 776.0,285.9 776.0,284.7 776.9,286.4 776.2,286.9 776.7,288.5 776.5,287.8 777.5,289.9 776.8,289.5 777.1,291.0 777.4,291.2 777.6,292.8 777.8,292.6 777.8,293.9 777.9,293.9 778.0,295.2 778.2,294.3 778.2,294.7 778.2,296.9 778.0,298.5 778.1,297.8 778.4,299.6 778.3,299.0 778.2,300.0 778.3,299.2 778.6,298.1 778.3,298.1 778.3,296.8 778.8,297.5 778.6,295.8 778.3,294.8 778.3,294.8 778.8,292.8 779.2,292.8 779.2,293.4 779.3,291.1 778.9,292.3 778.5,289.3 779.1,289.8 779.5,289.9 779.2,289.8 779.2,287.9 779.4,286.8 779.1,286.7 779.2,286.9 779.6,285.2 779.0,284.1 779.5,283.8 779.4,284.6 779.6,286.1 780.0,285.8 779.6,286.9 780.1,286.8 779.7,288.7 779.4,288.1 780.2,290.2 779.8,289.0 780.2,291.2 780.1,292.7 780.2,291.9 779.5,292.2 779.9,293.5 779.6,293.3 780.1,295.1 779.8,296.8 780.1,295.1 779.9,297.7 779.9,298.1 779.6,297.8 780.5,299.3 780.3,298.9 780.2,300.6 780.0,301.5 780.3,303.1 780.3,302.3 779.9,302.3 780.6,302.9 779.9,303.7 780.4,306.1 780.5,306.8 780.0,305.4 780.7,306.9 780.7,307.7 780.5,308.8 780.2,308.8 780.2,311.2 780.7,310.4 780.7,311.2 780.3,313.2 780.9,314.1 780.8,313.9 780.7,313.1 781.4,315.9 780.8,316.7 781.4,315.8 781.2,318.2 781.2,318.9 781.0,318.1 781.5,318.4 781.1,320.8 781.4,321.2 781.2,320.3 781.3,321.0 782.0,322.0 781.6,322.2 781.7,323.6 781.6,323.5 781.4,326.1 781.6,325.3 781.5,326.1 781.6,326.2 782.1,327.6 782.0,328.8 781.7,330.0 781.7,329.5 782.5,329.8 782.2,332.4 782.6,331.3 782.2,333.5 782.3,334.8 782.2,335.4 782.6,334.2 782.6,334.7 782.9,335.7 783.1,337.2 782.7,337.0 783.0,337.6 783.3,338.1 783.0,339.9 782.8,341.1 783.0,341.5 783.3,341.3 783.2,342.5 783.2,342.1 783.0,344.8 783.2,345.0 783.0,345.4 783.3,345.9 783.2,345.5 783.3,346.6 783.1,348.5 783.3,348.4 783.9,350.0 783.9,350.9 783.2,350.1 783.1,351.8 783.8,351.7 783.6,353.1 783.9,352.8 784.1,353.7 783.9,353.9 783.4,356.5 784.1,356.7 783.4,355.6 783.9,357.5 783.6,356.0 783.7,355.8 783.5,354.9 784.1,353.9 784.3,354.2 784.2,352.7 784.0,353.2 783.9,350.7 784.4,352.0 783.9,349.4 784.5,350.2 783.7,348.6 783.8,349.3 783.9,348.9 784.4,346.1 784.4,346.2 784.5,346.6 784.0,344.0 784.7,344.2 784.7,344.2 784.6,343.9 784.5,342.2 783.9,342.2 784.3,341.0 784.8,339.3 784.7,338.4 784.7,339.7 784.2,338.3 784.5,337.5 785.0,337.2 784.6,335.5 784.2,335.1 784.6,334.0 784.5,333.1 785.0,333.8 784.6,332.0 784.9,331.9 785.4,330.9 784.8,331.6 784.7,330.1 784.9,330.1 785.2,329.2 784.8,328.3 785.3,327.1 785.5,327.4 784.9,325.3 785.2,324.4 785.0,323.9 785.1,324.3 785.4,322.1 785.4,322.3 785.4,320.8 785.2,319.7 786.2,321.0 785.3,320.2 786.2,319.1 785.4,318.2 785.8,316.8 785.9,315.6 786.4,316.6 786.1,316.6 786.2,314.2 785.8,313.2 785.7,314.2 786.5,312.2 785.9,312.4 786.6,312.5 786.0,311.4 786.4,310.0 786.9,310.0 786.5,307.9 787.2,307.7 786.9,307.6 787.0,307.7 787.1,305.1 787.5,306.0 787.9,305.5 788.2,305.5 787.9,303.7 787.8,302.6 788.2,302.5 788.4,300.7 788.6,300.3 788.5,301.7 788.2,298.6 788.7,298.3 789.1,297.2 789.3,298.7 789.3,296.9 788.9,296.8 789.3,295.5 789.2,294.9 789.6,295.2 790.0,292.9 789.4,292.9 789.8,292.0 789.5,290.6 789.8,290.9 790.5,291.4 790.5,290.9 790.7,289.3 790.7,287.2 790.6,287.9 790.3,287.2 791.1,286.2 790.8,285.6 791.0,285.8 790.7,288.0 790.5,286.8 791.2,288.1 790.7,289.4 791.1,289.8 791.2,290.4 791.4,290.7 791.1,290.8 791.9,292.4 791.2,293.9 791.4,292.5 791.8,293.6 791.8,295.1 791.6,295.8 792.0,296.2 791.8,296.9 792.4,296.4 792.4,297.0 792.6,299.7 792.8,299.9 793.2,299.0 793.6,301.2 792.9,302.1 793.3,301.0 794.0,302.7 794.0,302.2 793.9,303.8 794.5,303.1 794.4,304.4 794.5,305.5 795.1,305.2 795.8,306.2 796.1,305.4 796.4,305.3 796.5,304.5 796.7,304.7 796.0,303.8 796.3,303.2 796.8,302.7 796.4,300.9 797.1,301.8 797.0,300.0 797.4,299.5 797.4,300.3 797.4,302.8 797.1,303.7 797.8,302.7 797.5,303.8 798.3,304.8 797.7,304.0 797.8,306.7 798.0,306.7 798.2,307.7 798.5,307.0 799.1,308.7 799.0,310.0 799.4,308.6 798.9,309.6 799.2,312.2 799.7,310.6 799.5,312.5 799.3,312.7 800.0,310.9 800.0,309.6 800.5,309.6 800.7,309.5 800.1,308.1 800.4,308.9 800.9,306.0 800.7,306.1 801.1,306.0 801.2,304.8 801.0,304.7 801.5,302.6 801.8,304.4 802.0,302.5 801.7,302.3 802.4,303.3 802.1,304.5 802.2,305.4 802.6,307.1 803.2,305.4 802.9,308.0 803.3,308.7 803.2,309.0 803.0,308.8 803.2,310.0 803.8,310.3 804.1,309.1 803.7,308.7 804.3,307.4 804.4,306.3 804.6,305.8 804.3,304.9 804.7,305.9 805.1,303.7 805.1,302.6 805.4,301.7 805.3,303.0 805.9,301.2 806.2,300.2 806.4,300.0 806.3,298.2 806.7,298.3 807.4,298.3 807.8,297.1 808.0,297.1 807.5,295.4 808.2,296.9 808.2,295.7 808.6,295.3 808.9,293.8 808.5,293.1 809.5,291.9 808.9,290.5 808.9,290.5 809.6,289.7 809.4,289.0 809.7,290.1 809.8,287.7 810.0,289.0 810.0,286.1 810.3,287.5 809.9,284.9 809.8,285.3 810.6,284.9 810.8,283.1 810.3,283.9 810.7,282.3 810.8,281.5 810.8,281.2 810.5,281.7 810.8,282.8 811.3,283.1 811.8,283.1 811.9,283.1 812.6,285.2 812.9,284.5 812.6,286.2 812.8,287.5 812.5,286.6 812.4,287.4 813.0,287.9 813.1,289.5 812.9,290.6 812.9,291.5 813.0,291.3 813.1,291.8 813.1,293.8 813.2,293.3 813.3,295.7 813.0,294.6 813.1,297.0 812.7,295.3 813.1,297.7 813.4,297.6 813.7,297.9 813.5,298.2 813.2,300.0 813.0,299.7 813.2,301.3 813.8,301.0 814.4,302.2 813.8,302.3 814.6,304.8 814.2,303.2 815.0,304.3 815.3,305.6 815.2,305.8 815.5,306.8 815.2,308.5 815.2,308.7 815.8,308.8 815.5,308.5 816.1,308.4 815.9,307.0 816.5,307.3 817.2,306.0 817.0,305.0 816.8,305.0 816.8,306.2 816.9,306.3 817.4,308.1 817.0,309.8 817.0,309.3 816.9,310.8 817.7,310.0 817.6,312.1 817.2,311.5 817.4,313.7 817.2,313.8 817.6,313.9 817.7,315.7 817.3,316.4 817.5,316.8 818.1,316.0 818.1,318.8 817.6,317.0 817.4,320.1 817.4,320.7 817.6,320.9 817.6,320.1 818.2,320.6 817.9,323.4 818.3,324.0 818.6,322.5 817.9,325.2 818.4,323.9 818.3,325.1 818.2,325.5 817.9,328.5 818.2,328.9 818.0,328.6 818.1,329.1 818.2,330.5 818.2,331.3 818.6,330.4 818.5,332.1 819.1,332.4 818.4,334.7 819.1,334.8 818.6,334.0 818.6,334.4 818.9,336.2 818.5,335.6 819.0,335.0 819.0,332.9 819.4,333.9 819.3,333.0 819.6,333.4 819.8,332.0 819.5,330.3 819.6,331.3 819.6,329.1 819.7,327.8 820.4,326.8 820.1,328.5 819.8,327.0 820.0,325.3 819.9,324.3 820.7,325.4 820.8,322.8 820.7,322.8 820.7,322.7 820.5,323.2 820.8,321.2 820.6,322.5 821.7,322.5 821.8,324.4 821.7,324.1 822.6,324.1 822.8,324.7 823.0,325.9 823.4,325.8 823.7,327.0 823.9,327.5 823.7,327.1 823.9,327.2 824.2,326.1 824.4,324.8 824.3,323.3 825.1,323.6 824.8,323.0 825.2,321.6 824.7,322.4 825.2,321.3 825.6,321.3 825.8,318.4 825.5,319.8 826.0,317.3 825.5,317.0 825.6,316.6 826.4,316.4 826.2,314.6 826.4,315.0 826.3,317.0 826.6,316.2 826.4,317.8 826.8,316.8 826.7,318.1 826.6,318.4 826.5,319.4 826.5,319.2 826.4,321.4 826.2,321.0 826.9,322.0 826.6,322.6 827.1,322.9 826.9,325.6 826.5,325.1 827.2,326.3 826.8,325.5 826.9,327.0 827.2,327.5 827.0,328.8 827.0,328.4 827.4,327.0 827.0,326.9 827.6,325.2 827.7,325.9 827.1,325.0 827.1,322.8 827.6,322.9 827.4,322.5 827.8,322.5 827.0,321.4 827.5,320.4 827.9,319.6 827.6,320.1 827.6,318.4 827.7,318.6 827.9,317.7 827.7,315.1 828.0,315.8 828.1,315.7 827.5,313.5 827.5,314.4 827.6,311.8 828.3,312.4 827.6,312.0 828.3,310.8 827.7,310.6 828.1,309.7 828.2,308.8 829.1,309.0 829.3,306.8 829.2,307.2 829.2,307.9 829.8,305.5 830.2,304.9 830.8,305.0 831.3,305.8 831.1,306.0 830.8,306.4 831.7,308.3 831.9,307.5 831.4,307.6 831.9,309.0 832.0,310.0 832.0,309.3 832.2,308.3 832.5,307.2 832.7,307.4 831.9,306.1 832.4,305.6 832.5,304.7 832.3,305.3 832.4,304.4 832.9,303.4 832.6,303.6 832.7,302.7 832.4,300.9 833.0,299.2 833.3,298.6 833.1,298.2 833.5,298.5 833.4,297.6 833.4,297.4 833.2,296.2 833.2,294.8 833.8,294.0 834.0,293.5 833.3,292.5 834.1,294.1 833.9,292.7 833.8,292.7 834.4,290.0 833.9,290.8 834.0,290.5 834.3,288.3 834.7,287.8 834.8,286.7 835.3,286.5 835.3,285.4 835.1,285.6 835.5,287.5 835.2,285.7 835.2,288.0 835.2,288.4 835.1,288.9 835.8,289.4 835.9,289.3 836.1,290.0 836.3,292.9 836.3,292.3 835.8,292.5 836.3,293.6 836.6,293.2 836.2,295.9 836.4,295.7 836.4,296.2 836.0,296.0 836.3,298.6 837.0,297.6 837.1,297.8 836.9,300.9 836.7,301.5 837.1,299.9 836.9,301.6 836.9,303.1 836.9,303.9 837.1,302.7 837.4,303.4 837.5,305.9 837.6,305.8 837.1,306.6 837.3,307.6 837.4,308.1 837.7,308.3 838.1,308.4 838.0,310.0 837.8,310.5 838.0,309.6 838.7,307.9 838.0,306.3 838.9,305.7 838.6,306.1 838.3,305.2 838.5,304.8 838.9,303.7 838.7,303.1 838.8,301.7 838.9,303.0 839.3,302.3 838.9,301.8 839.5,300.0 839.6,301.4 839.8,301.8 839.6,302.6 839.6,302.0 839.6,303.0 840.2,303.4 840.7,303.6 840.5,304.6 840.6,306.7 840.8,305.5 840.5,307.5 841.3,306.7 841.1,309.1 841.4,308.9 841.5,309.8 841.7,309.3 841.4,311.2 841.9,311.7 841.5,311.5 841.5,313.9 842.1,313.0 841.8,313.6 841.8,314.5 842.1,317.2 842.9,317.3 842.5,317.2 842.9,319.0 843.0,318.9 842.6,319.6 843.3,320.7 842.7,321.1 843.2,321.2 843.2,319.7 843.8,320.3 843.7,318.3 843.8,319.7 843.9,318.5 843.9,318.0 843.7,316.3 844.0,316.6 844.1,314.6 844.2,314.6 844.3,312.8 844.3,313.9 843.7,313.3 843.7,311.0 844.0,310.4 844.1,311.5 844.3,310.3 844.1,309.8 844.5,308.9 844.7,308.6 844.2,306.0 844.5,307.2 844.3,305.9 844.5,305.0 845.0,305.1 844.3,303.6 844.4,302.0 845.3,302.1 845.3,301.5 845.1,300.2 845.3,301.2 845.7,299.1 845.3,298.4 846.0,298.2 846.1,298.4 845.7,297.4 845.8,297.1 846.4,295.6 846.1,295.7 847.0,296.6 846.3,298.6 846.8,299.3 846.6,298.9 847.2,299.6 847.3,299.4 847.3,300.0 847.0,300.3 846.7,303.4 847.1,303.7 847.0,303.2 846.9,304.3 847.7,304.9 847.3,306.6 847.9,306.6 847.1,307.2 847.6,307.5 847.7,308.0 847.7,306.6 848.0,305.2 848.0,305.3 848.5,304.1 848.0,304.7 847.8,303.7 848.5,302.3 848.4,302.1 848.9,301.4 848.9,298.9 848.5,298.5 849.2,299.8 848.9,298.1 848.6,299.0 849.1,298.3 849.0,300.8 849.3,300.3 849.5,301.0 849.4,302.0 849.9,303.3 849.8,304.1 849.5,305.5 849.9,305.5 849.5,304.8 849.9,307.2 850.2,306.6 849.6,307.7 850.4,307.5 850.4,308.2 850.0,308.6 850.1,310.1 850.8,312.3 850.1,311.3 850.5,312.5 851.1,311.0 850.6,311.0 850.5,309.8 850.9,309.5 851.6,308.5 851.0,309.5 851.4,308.6 851.7,307.8 851.5,305.5 852.1,305.6 852.0,305.0 852.3,306.1 852.7,305.7 852.6,308.0 853.0,306.9 853.3,307.5 853.7,307.6 854.0,309.5 853.9,310.0 853.9,310.5 854.0,308.0 854.0,308.1 854.8,307.8 854.7,307.5 854.6,305.5 855.3,306.5 855.4,305.1 855.8,303.7 856.1,303.9 855.7,302.4 856.3,301.6 855.9,302.3 856.4,300.6 856.5,301.3 856.8,303.0 856.4,302.2 856.4,303.1 857.0,304.9 857.2,304.8 857.1,305.5 857.1,306.8 857.7,307.5 857.2,307.7 857.9,307.9 858.2,309.6 858.1,310.1 858.2,310.9 857.8,311.1 858.2,311.2 858.6,312.2 858.3,311.5 858.8,314.1 858.6,313.2 858.7,313.5 859.3,316.5 859.6,315.6 859.6,315.5 859.9,316.8 859.3,318.3 859.5,318.0 859.6,319.1 860.3,320.7 859.9,321.4 860.5,321.2 860.2,319.9 860.8,319.5 860.5,319.4 860.5,319.3 860.5,318.7 861.2,317.3 860.5,317.2 860.5,315.8 861.0,314.0 861.3,315.1 861.3,313.5 861.3,313.4 861.0,313.4 861.9,312.6 861.9,310.7 862.0,309.3 861.5,308.8 861.6,309.5 861.9,308.3 861.6,306.9 861.7,306.5 861.6,307.0 862.0,305.5 862.0,305.0 862.0,306.2 862.3,305.6 863.0,307.4 863.7,308.1 864.0,309.2 863.9,308.8 864.3,308.6 863.8,306.6 863.9,307.7 864.7,306.4 864.4,305.0 864.5,305.0 865.5,303.5 864.7,302.5 865.1,303.7 865.7,301.9 865.2,300.3 865.8,300.6 865.6,302.0 866.1,303.2 866.7,303.3 866.4,304.0 866.2,302.7 866.8,304.4 866.7,304.4 866.6,306.7 867.5,307.4 867.9,306.7 867.6,307.5 867.9,306.5 868.1,307.0 867.5,304.2 867.6,305.0 867.9,302.8 868.4,304.2 868.1,301.6 868.6,302.2 867.9,301.0 868.5,301.8 868.4,300.4 868.2,298.7 869.0,298.4 868.3,298.3 868.4,296.6 868.8,296.9 869.0,296.6 868.9,294.2 869.3,293.5 869.1,293.7 869.4,293.9 869.0,293.0 869.5,291.9 869.1,292.4 869.5,290.6 869.7,290.2 869.4,293.3 869.5,292.4 870.1,294.2 870.1,294.7 869.6,293.7 870.6,296.2 869.8,294.9 870.0,297.9 870.1,297.9 870.9,298.5 871.0,298.2 870.3,298.3 871.0,299.2 871.3,301.4 870.6,302.4 870.7,302.3 870.7,303.7 871.6,304.7 870.8,305.2 871.4,305.0 871.5,306.5 871.5,306.6 871.7,307.8 871.2,306.5 871.8,307.8 871.7,307.7 872.1,308.4 872.3,311.1 872.0,310.0 872.3,310.9 872.1,311.3 872.7,313.1 872.2,312.5 872.6,315.2 872.8,313.9 872.4,315.1 872.6,316.2 873.2,314.8 873.4,316.5 873.8,313.4 873.4,313.2 874.4,313.9 874.5,313.1 874.7,313.7 874.7,314.8 875.1,316.2 875.3,316.6 875.6,317.3 875.5,315.9 875.6,318.7 875.5,319.5 875.4,320.3 875.8,320.4 875.7,320.0 876.0,320.7 875.8,321.7 876.4,322.5 877.2,323.5 877.4,324.4 877.6,325.7 877.9,324.4 877.7,325.4 878.2,326.2 877.9,326.2 878.9,328.7 878.5,329.0 879.1,330.0 879.3,329.7 878.7,331.1 879.1,331.3 879.3,331.7 880.0,331.4 879.7,333.4 879.9,334.8 879.9,335.4 880.1,335.0 880.5,336.8 880.1,335.5 880.5,337.9 880.4,336.9 881.3,339.4 880.9,338.6 881.6,339.9 881.9,340.7 881.6,340.0 882.0,341.2 881.6,342.4 881.8,342.0 882.7,343.7 882.4,344.4 882.4,345.2 882.2,344.3 882.1,344.8 882.4,345.9 882.2,347.5 883.2,348.7 882.5,349.6 882.5,348.5 882.7,350.0 883.2,350.8 883.3,350.6 883.5,352.0 883.5,351.8 883.2,353.8 883.6,353.7 883.7,355.9 883.6,355.3 883.0,355.7 884.0,356.3 883.8,358.1 883.9,357.8 883.4,358.3 884.4,359.7 884.1,360.9 883.7,360.3 883.6,363.0 883.8,364.0 884.1,364.1 883.9,364.9 884.1,364.5 884.5,364.5 884.5,366.2 883.9,367.6 883.7,367.2 883.8,367.4 882.9,368.0 882.8,369.0 882.6,370.0 883.0,369.3 883.5,367.6 883.5,369.0 883.3,366.3 883.7,365.9 884.0,366.8 883.9,364.6 884.5,365.0 884.5,364.8 884.4,366.2 884.3,366.0 884.6,367.7 885.3,368.6 884.5,368.4 885.2,370.0 885.4,371.8 885.5,370.2 885.6,372.0 885.0,371.8 885.7,372.6 885.0,373.4 885.9,374.6 885.8,374.3 885.6,375.6 885.4,377.2 885.8,377.5 885.7,377.2 886.5,378.8 885.8,378.2 886.4,380.2 885.9,380.8 886.7,381.6 886.4,382.2 886.9,383.2 886.5,384.3 887.4,384.8 887.5,384.5 887.7,384.7 887.1,386.4 887.9,385.7 887.6,387.5 887.4,387.0 887.7,387.9 887.5,390.2 887.9,391.4 887.8,391.4 887.5,392.8 887.8,392.2 888.1,394.1 888.1,394.9 888.3,393.6 888.6,394.2 888.8,395.6 888.1,397.6 888.2,396.8 888.3,398.2 888.1,398.1 888.3,399.9 888.1,400.1 888.5,400.3 888.8,401.7 888.5,401.1 888.9,402.5 888.6,404.4 888.7,402.9 889.1,404.8 889.5,404.1 889.0,405.1 889.4,406.5 889.3,408.4 889.6,409.0 890.0,408.1 890.0,409.2 889.2,411.2 889.3,409.6 889.6,411.0 890.3,413.2 889.8,413.0 890.3,414.4 890.2,414.3 890.1,415.0 889.8,415.0 890.4,416.6 890.6,418.1 890.8,416.9 890.0,419.4 890.5,418.3 890.7,419.1 890.3,420.1 890.7,421.6 890.3,422.4 890.9,422.4 891.0,424.0 890.4,423.8 891.1,425.1 891.1,424.4 891.5,426.7 890.8,426.4 891.6,426.5 891.1,429.2 891.7,427.9 891.6,429.0 891.4,430.0 891.7,431.4 891.2,430.6 891.4,431.4 891.4,431.8 891.8,433.2 891.6,434.3 892.6,435.0 892.1,436.0 892.3,435.3 892.5,435.6 892.6,437.5 892.8,437.3 892.6,440.1 893.0,440.4 892.9,440.6 893.0,442.1 892.5,442.3 892.6,441.6 893.2,443.2 893.2,444.6 893.0,443.5 892.5,445.1 893.2,445.1 892.6,445.1 892.7,447.6 892.6,447.0 892.8,449.0 893.6,447.8 892.8,450.9 893.6,449.5 893.0,451.2 893.0,451.6 893.2,452.5 893.2,452.5 892.8,452.7 892.9,453.3 893.4,455.5 893.0,456.4 893.5,455.8 893.2,456.1 893.2,457.5 893.8,458.3 893.0,457.9 893.7,459.2 893.8,459.5 893.9,461.7 893.3,461.8 893.5,462.8 894.2,463.6 893.7,462.5 894.2,464.4 893.7,464.1 894.3,464.6 894.2,466.2 894.6,465.0 894.4,464.8 894.8,465.0 894.5,464.3 894.9,462.6 895.5,463.0 895.7,462.9 895.8,461.2 895.5,460.1 896.0,459.2 895.5,458.5 896.2,459.3 896.1,459.0 896.2,456.6 895.8,457.0 895.6,456.0 895.6,453.9 896.1,453.4 896.5,454.6 896.1,452.2 895.8,452.3 896.2,451.2 896.5,451.0 896.6,449.2 895.9,449.2 896.3,448.2 896.5,447.4 896.2,447.4 896.7,447.4 896.3,445.9 896.9,446.5 896.7,443.6 896.5,444.3 896.4,442.1 897.1,443.7 896.3,441.8 896.8,440.7 896.3,441.2 897.0,439.7 896.4,438.9 896.4,439.7 896.4,437.2 897.2,436.1 896.5,435.3 896.6,435.8 897.0,435.0 897.5,433.5 896.9,434.4 897.3,432.6 897.1,431.7 898.1,430.7 897.5,431.6 898.3,431.4 898.0,430.9 898.2,428.5 898.2,428.9 898.6,426.7 898.2,428.2 898.2,427.1 898.6,425.0 898.9,425.0 898.7,425.6 899.5,425.4 899.5,426.5 898.9,428.3 899.1,427.5 899.3,429.8 899.8,429.9 899.1,431.0 899.7,432.0 900.2,431.2 900.1,433.2 899.6,432.7 899.8,433.3 899.9,433.3 900.1,435.0 899.9,436.7 900.1,436.7 900.7,437.7 900.1,438.8 900.7,439.7 900.7,439.8 900.8,439.1 900.7,440.1 901.0,440.2 900.7,441.4 901.1,442.1 901.2,444.1 901.2,442.9 901.4,445.2 901.2,445.6 900.6,446.9 901.1,446.5 901.0,448.0 901.5,448.9 901.0,448.2 901.1,448.3 901.4,450.0 901.3,448.1 901.9,448.0 901.3,446.9 902.1,446.6 901.9,446.4 902.3,447.2 902.0,445.7 902.7,444.6 902.8,444.7 902.3,444.4 902.7,441.7 902.8,442.9 902.8,441.4 902.8,441.7 903.2,439.3 903.0,439.1 903.2,438.8 903.8,438.6 903.1,438.5 903.1,437.0 903.6,436.7 903.7,434.4 903.9,435.6 904.3,433.7 903.9,434.1 904.5,432.1 904.7,433.4 904.4,431.2 904.8,431.9 904.4,429.6 904.6,430.1 904.6,428.9 905.0,428.6 905.1,427.5 904.9,428.0 905.8,426.3 905.7,424.6 905.9,424.9 905.9,425.0 905.5,424.5 905.5,421.4 905.9,423.0 906.4,422.5 906.1,421.7 906.2,419.0 906.4,420.0 906.3,418.8 906.2,417.3 906.5,417.2 906.6,415.4 906.2,415.4 907.0,415.8 906.6,413.8 907.0,413.8 907.6,412.6 908.2,413.1 908.5,414.9 908.2,414.7 908.8,415.8 909.0,416.4 908.6,417.4 909.4,416.1 909.6,417.8 908.8,417.5 909.7,419.8 909.5,420.0 909.4,420.5 910.1,422.5 910.0,422.6 910.2,421.7 910.3,422.9 911.0,423.2 910.8,423.6 911.4,425.0 911.3,424.7 911.9,426.0 912.2,426.4 912.8,428.2 913.2,427.5 913.3,429.3 913.4,428.0 913.6,428.5 913.3,429.0 913.9,432.0 913.7,431.1 913.9,431.7 914.2,432.5 913.8,434.4 914.3,432.8 914.7,435.3 914.3,435.7 915.0,435.8 914.6,436.2 914.8,437.8 915.1,439.2 914.6,438.3 915.4,440.1 915.1,440.0 915.4,441.1 915.4,442.4 915.9,441.6 915.7,441.5 916.7,443.9 916.1,443.3 916.7,444.4 917.0,445.0 916.9,446.7 917.0,446.5 917.6,447.4 917.2,447.3 917.2,448.7 917.7,448.5 917.3,449.5 917.4,451.6 917.6,450.6 917.5,452.7 917.3,453.1 917.3,452.5 917.4,454.7 917.5,453.9 917.5,454.7 918.2,456.6 918.5,457.8 918.2,458.5 917.8,459.2 918.2,458.8 918.3,458.6 918.7,461.0 918.4,459.7 918.9,462.1 918.7,463.4 918.3,461.7 918.4,462.2 919.1,464.5 918.6,464.0 918.7,465.8 919.3,467.4 919.0,468.1 919.2,467.3 919.1,467.5 919.9,470.2 919.7,468.7 919.3,469.4 919.5,471.6 919.3,471.7 920.0,471.1 919.8,473.7 920.0,473.5 920.4,474.6 920.1,475.0 920.0,474.0 920.6,474.6 920.6,473.1 919.9,471.4 920.2,472.0 919.8,471.6 920.6,470.2 919.9,470.3 920.3,469.2 920.5,468.7 920.4,468.6 920.9,467.8 920.6,465.6 920.4,464.7 921.0,465.4 920.9,464.8 921.1,463.8 920.5,463.3 920.5,462.2 920.4,462.1 920.7,459.9 921.2,458.7 921.2,459.8 920.5,459.1 921.0,458.8 921.0,456.9 921.4,455.3 921.2,454.7 921.0,455.0 920.9,454.7 921.6,456.2 921.6,456.4 921.7,458.1 921.1,458.3 921.9,458.3 921.9,459.1 921.7,461.4 922.4,462.3 922.0,461.9 922.5,463.0 922.3,463.9 922.3,464.8 922.5,463.3 922.6,465.0 923.0,463.5 923.1,462.6 923.6,463.2 923.5,461.5 923.5,461.6 923.3,462.1 923.3,460.6 923.5,460.9 924.4,458.2 924.2,458.7 924.6,458.7 924.5,457.5 924.5,457.9 924.4,455.2 925.2,454.4 924.7,454.8 925.0,453.2 925.7,453.3 925.7,452.0 925.9,451.3 926.0,451.6 925.8,450.6 926.3,452.0 926.1,452.0 926.4,452.5 925.7,454.4 926.5,454.4 926.5,453.9 926.3,456.2 926.9,457.1 926.2,457.1 926.7,457.1 926.4,457.0 926.8,458.6 926.7,459.0 927.0,460.0 927.5,461.0 928.0,459.7 928.8,460.6 928.9,461.2 929.4,463.2 928.7,462.8 929.6,463.0 929.2,463.5 928.8,463.9 928.9,464.7 929.5,466.1 929.9,467.1 929.4,468.5 929.8,468.1 930.1,469.1 929.6,469.6 929.7,471.2 929.7,471.9 929.6,470.1 930.1,471.3 930.2,471.7 930.6,473.8 930.5,475.2 930.9,475.2 930.7,474.1 930.1,475.9 931.1,476.3 930.7,476.2 930.8,478.1 930.8,478.5 931.0,477.6 930.6,475.3 930.8,476.3 930.9,475.9 931.1,475.1 931.5,472.9 932.0,472.5 931.9,470.9 932.1,472.6 931.5,471.3 932.0,470.0 931.8,469.8 932.0,471.8 932.6,473.3 932.7,473.0 932.4,472.5 932.6,474.2 932.3,475.8 932.2,474.5 932.2,475.2 932.7,477.6 932.3,477.5 932.8,478.3 932.7,479.0 932.3,478.4 932.8,479.5 933.2,480.2 933.3,480.9 932.6,482.2 933.0,482.5 933.4,482.9 933.4,485.2 933.2,485.0 933.5,485.6 934.3,486.5 933.9,485.8 934.1,487.1 934.4,488.5 935.1,488.8 935.1,488.9 935.3,491.2 935.2,489.9 935.3,491.0 936.0,492.7 935.6,491.9 935.3,492.5 936.2,494.5 935.6,495.1 935.6,495.5 936.0,495.1 936.5,497.4 936.4,497.5 936.5,497.3 936.7,498.7 936.8,498.4 937.1,498.9 936.5,500.6 936.6,500.4 937.1,503.5 936.9,502.2 937.3,502.8 937.1,504.7 937.2,503.9 936.9,505.6 937.9,507.3 937.1,506.8 937.6,507.5 937.7,507.4 937.9,508.9 938.1,509.0 938.3,511.0 937.9,510.0 937.9,510.6 938.2,512.8 938.2,514.2 937.7,514.2 938.5,513.3 938.2,515.0 938.1,513.2 938.4,514.2 938.2,513.5 938.3,512.8 938.3,512.8 938.5,509.6 938.2,510.8 939.0,509.9 938.3,509.8 938.9,507.2 938.6,507.9 938.3,505.6 938.7,507.1 939.4,505.0 939.3,505.5 939.3,504.3 939.5,503.8 939.5,502.9 938.8,502.1 939.1,500.9 939.1,500.7 939.2,500.0 939.4,500.0 939.2,501.4 939.5,501.8 939.7,501.9 939.7,502.8 940.0,504.6 940.1,504.8 939.6,506.6 940.0,505.8 939.8,506.6 940.1,507.5 940.4,507.7 940.3,506.8 940.1,505.4 940.3,504.3 940.4,504.8 940.9,502.7 940.4,503.6 940.9,502.6 941.0,502.0 940.7,499.7 940.9,499.0 941.6,499.6 941.4,500.0 941.6,497.5 941.4,497.5 941.3,495.8 941.9,496.8 941.7,495.1 941.6,494.7 942.2,495.1 942.4,494.4 942.1,492.5 942.1,493.3 942.1,490.5 942.3,491.8 942.6,490.0 943.1,488.9 943.2,489.7 942.8,487.2 943.3,487.0 942.7,487.7 943.1,485.7 943.4,484.7 942.9,484.3 943.4,482.7 943.5,483.9 943.5,483.1 943.9,481.1 943.9,481.2 943.9,481.4 944.9,480.1 945.0,481.2 945.8,480.0 946.3,480.0 946.0,481.5 945.9,480.8 946.0,483.1 946.3,483.4 945.9,483.3 946.2,484.5 946.4,486.4 946.2,487.3 946.5,487.7 946.6,487.6 946.8,486.9 947.0,488.8 947.4,488.9 946.9,488.1 947.2,488.0 946.8,485.7 947.0,485.6 947.7,485.5 947.5,483.6 947.8,482.2 947.3,483.2 947.6,483.2 947.3,481.1 947.5,479.2 947.4,478.7 947.7,478.9 947.9,477.9 948.2,477.8 948.5,476.2 948.1,476.4 948.1,476.6 948.2,475.0 948.1,475.3 948.3,473.2 948.7,473.1 948.4,471.2 949.2,471.3 948.4,471.4 949.0,469.8 948.8,470.5 949.0,468.7 949.7,467.9 949.2,466.7 949.6,467.4 949.5,466.2 949.6,466.7 949.5,468.4 949.8,469.2 949.8,469.6 949.6,468.9 950.6,470.8 950.5,471.0 950.4,470.9 950.2,472.8 950.8,472.4 950.8,473.8 951.0,472.1 951.0,471.5 950.9,471.2 951.0,470.1 951.0,470.6 950.7,469.2 951.3,469.1 951.3,469.0 951.3,466.9 951.3,467.8 951.4,466.9 951.3,465.4 952.0,465.7 951.7,463.2 951.7,462.3 952.1,464.1 951.9,461.6 952.1,460.6 952.2,460.8 951.4,461.1 951.9,460.3 952.0,458.8 952.4,458.2 952.8,456.7 953.1,456.5 952.5,455.8 952.7,454.5 953.5,454.0 953.3,453.8 953.9,453.8 953.8,455.5 954.6,456.1 954.8,455.6 954.7,455.9 955.0,457.9 955.0,457.1 954.5,459.6 955.1,459.4 955.5,458.9 955.5,460.4 955.7,461.0 955.3,463.0 955.8,462.5 955.7,462.5 956.5,460.6 956.6,460.4 956.3,459.3 957.2,459.0 957.0,458.8 957.2,459.4 956.8,460.8 957.7,461.7 957.4,460.7 957.6,462.7 958.0,462.5 958.0,462.6 958.6,464.1 958.3,465.6 958.1,466.1 958.4,467.0 958.3,466.2 958.9,467.5 959.1,468.1 959.0,469.0 958.9,469.3 958.8,470.9 959.2,471.7 959.6,471.7 959.8,471.2 960.0,472.3 960.2,474.2 960.2,474.9 960.0,475.2 960.7,474.6 959.9,475.9 960.4,475.9 960.3,478.4 960.5,477.2 960.8,478.8 960.5,478.3 960.6,477.3 961.0,476.5 961.0,476.8 960.6,476.4 960.9,473.4 961.5,474.1 961.3,472.5 961.7,472.0 961.7,471.1 961.6,471.5 961.5,470.4 961.2,470.1 961.9,468.1 961.8,468.9 961.5,468.5 962.3,465.8 961.7,465.2 961.8,464.5 962.1,464.2 962.0,464.1 962.1,464.2 962.6,461.8 962.1,460.8 962.3,460.4 962.8,461.4 962.6,460.0 963.3,458.6 962.6,459.4 963.2,459.2 963.4,457.0 963.2,458.0 963.9,456.2 964.0,456.8 964.0,458.3 964.4,458.2 963.8,458.7 964.6,459.3 964.5,460.4 964.4,461.1 964.2,461.7 964.9,461.1 964.5,463.9 965.2,462.3 964.9,464.5 965.2,464.8 964.5,465.0 965.2,466.8 964.8,467.2 965.1,467.5 965.4,467.2 964.8,466.0 965.2,465.7 965.3,463.8 965.8,463.6 966.0,463.0 965.8,463.6 965.5,462.7 965.6,462.6 965.6,461.4 966.1,459.3 966.2,459.4 966.4,458.8 966.4,458.4 966.6,459.6 967.1,460.5 966.7,460.7 967.3,461.7 967.1,463.7 966.9,464.1 966.9,463.1 966.8,464.7 967.7,464.7 967.4,466.8 967.3,465.9 967.6,467.5 967.7,466.6 968.2,467.2 967.6,465.6 967.9,463.6 968.0,465.2 967.9,463.6 968.4,461.6 968.7,461.0 968.2,461.9 968.0,460.4 968.1,460.0 968.1,458.4 968.4,457.6 968.4,457.2 968.9,456.4 969.3,456.4 968.8,455.3 969.4,454.1 969.4,453.5 969.7,453.7 969.4,454.2 969.0,451.4 969.5,451.9 969.8,452.8 970.0,452.6 969.8,453.1 969.9,454.0 970.2,454.7 970.0,456.2 969.9,457.3 970.4,456.5 970.2,457.9 970.7,459.1 970.7,459.0 971.3,459.3 971.5,461.5 971.6,462.3 971.0,462.7 971.4,462.5 971.6,462.4 972.1,464.2 972.0,464.6 971.3,466.1 971.5,465.2 972.0,465.7 972.0,467.7 971.7,468.2 971.8,468.4 972.4,469.6 971.9,469.0 972.9,470.1 972.5,470.8 972.8,472.4 972.9,472.1 972.9,473.1 972.6,474.9 973.0,474.4 973.6,474.4 973.7,472.9 973.7,471.7 973.7,472.3 974.0,471.9 974.0,469.8 974.0,469.6 973.7,468.7 974.3,469.2 974.4,468.1 973.8,466.1 974.4,465.6 974.2,464.6 974.5,465.0 974.2,464.9 974.3,464.5 974.5,463.9 974.5,461.7 974.7,460.3 974.8,460.6 974.4,461.2 974.8,458.2 975.5,458.2 974.8,456.9 974.7,458.0 975.3,456.8 975.0,455.6 975.8,455.1 975.8,455.8 975.0,455.0 975.0,454.0 975.8,453.2 975.6,452.9 975.3,451.5 975.5,450.4 975.8,450.0 975.4,449.9 975.8,449.5 975.9,448.4 976.2,448.3 975.8,446.4 975.8,446.2 976.5,445.4 976.1,444.7 977.0,445.8 977.3,444.5 978.0,444.3 977.8,442.9 978.2,442.5 978.9,442.4 978.7,443.6 979.8,443.1 980.1,445.2 980.0,443.6 980.8,445.0 980.9,443.9 981.5,445.0 981.2,443.9 981.5,441.7 982.0,441.0 981.3,441.1 981.4,440.6 982.0,440.0 982.5,441.0 983.2,440.6 984.2,439.8 984.5,439.4 984.4,439.5 984.9,440.4 985.3,441.3 985.2,442.2 986.0,441.7 985.6,441.9 985.6,442.6 986.1,445.2 986.4,445.0 986.7,446.9 986.9,446.6 986.8,445.8 986.7,447.1 987.1,447.3 987.1,448.8 987.2,449.5 986.9,451.1 987.7,451.4 987.1,452.1 987.6,452.5 988.0,454.4 987.9,452.6 988.0,454.8 987.4,456.1 988.0,456.7 987.6,456.2 987.7,455.8 988.1,454.5 988.8,454.7 988.7,453.9 989.6,453.3 989.5,452.5 990.2,453.3 990.6,452.5 990.4,454.5 991.0,456.2 991.2,455.6 991.4,456.2 991.6,455.7 991.7,456.1 991.0,453.8 991.9,452.4 991.9,451.7 991.8,453.0 991.4,451.2 991.5,451.4 991.8,450.5 991.7,449.7 992.4,449.6 992.4,447.5 992.0,447.5 992.1,447.9 992.0,449.7 992.0,449.7 992.6,451.4 992.0,450.3 992.6,452.8 992.3,453.2 992.6,453.1 993.3,452.6 992.8,453.5 992.7,454.6 993.3,456.0 992.8,457.2 993.3,456.2 993.7,458.6 993.2,459.6 993.9,458.5 993.2,460.8 994.1,459.5 993.9,461.2 994.2,461.3 994.2,460.8 994.6,458.8 994.5,459.6 994.1,458.3 994.5,458.1 994.5,455.9 994.2,455.9 994.2,456.0 995.0,453.8 994.9,454.2 994.4,453.8 995.1,451.9 994.5,451.1 995.3,450.9 995.4,449.5 994.7,449.3 995.6,448.1 994.9,449.0 994.9,448.0 995.0,446.3 995.5,446.2 995.8,447.9 995.6,447.5 995.3,447.9 995.7,449.8 996.2,450.4 996.2,450.9 995.9,450.8 996.1,451.2 996.7,451.7 996.4,452.6 997.0,454.2 996.8,454.2 997.3,456.3 996.9,456.0 997.5,455.9 997.0,456.2 997.3,458.6 997.1,458.4 998.0,459.3 997.6,460.0 997.7,461.6 998.3,461.0 997.7,462.4 998.4,463.8 998.5,462.9 998.5,463.5 998.6,464.6 999.2,466.4 999.3,466.0 999.5,465.8 999.6,467.8 999.7,467.9 999.5,468.8 1000.1,466.8 1000.1,468.2 999.7,467.6 999.7,466.7 1000.1,465.2 999.9,465.5 1000.6,463.0 1001.0,462.7 1000.5,462.5 1000.8,463.1 1001.3,461.8 1000.9,459.7 1000.7,460.1 1001.3,459.3 1001.4,458.8 1002.2,457.9 1001.9,457.3 1002.0,458.0 1002.7,456.4 1002.9,455.0 1003.2,455.0 1003.2,454.4 1003.4,455.0 1003.7,452.4 1003.3,451.6 1003.7,452.6 1004.4,450.6 1004.4,450.5 1004.3,450.1 1003.9,448.2 1004.5,448.8 1005.0,449.9 1005.0,451.1 1005.8,450.1 1005.3,451.4 1006.2,451.2 1006.4,452.5 1006.1,451.8 1006.2,451.9 1007.0,450.1 1006.9,449.3 1006.8,448.5 1007.6,448.6 1007.7,447.7 1007.9,447.7 1007.9,446.6 1008.0,445.4 1008.6,446.1 1008.2,445.0 1008.4,444.7 1008.1,443.3 1008.3,443.9 1008.2,442.2 1009.2,442.4 1009.2,440.5 1008.8,440.9 1009.0,440.3 1009.2,439.8 1009.5,439.2 1010.0,437.4 1010.2,435.8 1010.2,435.2 1010.0,435.5 1010.3,434.7 1009.9,435.2 1010.3,434.5 1010.4,432.0 1010.5,432.5 1011.0,432.4 1010.8,432.5 1010.8,434.8 1011.5,435.4 1011.4,436.2 1011.8,435.5 1011.8,437.1 1012.0,437.5 1012.4,437.4 1012.1,438.4 1012.0,439.1 1012.8,440.4 1012.3,441.5 1012.4,442.2 1012.6,441.1 1012.8,442.9 1013.0,444.5 1013.8,443.6 1013.7,445.4 1013.7,444.9 1014.2,447.4 1013.9,446.9 1013.4,445.8 1013.7,444.7 1013.9,445.9 1013.5,445.0 1013.8,442.2 1014.4,442.2 1013.8,441.2 1013.9,440.5 1013.8,440.2 1014.2,440.0 1014.0,439.5 1014.4,439.4 1014.0,439.2 1014.5,437.6 1014.2,436.3 1013.9,437.1 1014.4,434.4 1014.8,435.7 1013.9,434.6 1014.1,433.5 1014.7,432.3 1014.4,432.5 1014.1,431.7 1014.4,431.9 1014.5,430.0 1014.3,429.9 1014.2,428.1 1014.4,427.1 1014.9,426.5 1015.2,425.6 1015.1,426.9 1014.7,424.6 1015.4,424.6 1015.7,423.6 1015.2,424.5 1015.3,423.9 1015.9,421.2 1015.6,422.5 1015.3,421.6 1015.8,420.0 1016.3,421.3 1016.3,420.2 1016.9,420.8 1017.0,423.1 1016.7,423.6 1017.1,424.4 1016.9,425.5 1017.6,425.0 1017.8,425.2 1018.1,424.6 1018.2,423.2 1018.2,422.5 1018.5,422.8 1019.3,421.1 1019.8,421.8 1020.1,418.9 1020.1,420.0 1020.1,418.8 1020.4,416.9 1020.9,417.3 1020.8,417.7 1020.7,415.0 1021.5,415.0 1020.8,414.1 1021.9,415.0 1021.3,412.8 1022.2,413.6 1022.0,412.5 1022.2,410.9 1022.2,412.3 1021.9,410.3 1022.1,411.1 1022.3,410.3 1023.1,409.1 1022.5,408.3 1023.1,407.1 1022.9,406.5 1023.6,404.8 1023.8,404.9 1023.4,403.8 1023.7,404.2 1023.9,403.1 1024.1,404.8 1024.2,404.4 1024.9,404.3 1024.1,405.2 1024.6,405.3 1024.9,405.7 1025.1,407.5 1025.6,408.1 1025.6,409.4 1025.6,410.2 1025.2,410.8 1025.2,411.0 1025.7,412.3 1025.3,411.8 1026.0,413.7 1026.3,412.6 1025.6,413.2 1026.1,415.5 1026.1,416.3 1026.1,416.4 1026.6,417.3 1026.4,417.8 1026.3,418.9 1026.4,418.0 1026.3,419.4 1026.4,420.4 1026.4,420.7 1026.6,421.3 1027.2,421.2 1026.3,423.6 1026.8,423.5 1027.0,424.0 1027.0,425.0 1026.8,423.0 1027.5,424.8 1027.0,422.8 1027.1,421.1 1027.7,422.4 1027.2,420.2 1027.7,420.9 1027.5,419.2 1027.4,419.5 1028.1,419.0 1027.4,417.6 1028.3,417.2 1027.9,415.0 1027.5,415.9 1027.6,415.4 1028.3,413.8 1028.6,414.3 1028.2,412.5 1028.5,412.1 1028.7,413.5 1028.5,415.5 1029.1,414.0 1028.8,415.2 1029.3,415.8 1029.3,417.7 1029.2,418.1 1029.5,419.3 1030.3,418.3 1030.1,418.4 1030.1,420.0 1030.1,419.7 1030.5,418.3 1030.0,417.0 1030.6,416.5 1030.5,417.0 1031.2,416.1 1030.7,415.6 1030.8,415.4 1030.8,413.4 1031.2,414.4 1031.0,411.9 1031.1,411.3 1031.4,411.1 1031.9,410.5 1031.8,409.8 1032.2,410.5 1032.0,408.8 1032.2,409.2 1032.2,408.7 1032.7,407.3 1032.8,405.7 1032.8,406.6 1033.3,405.5 1033.6,404.4 1033.9,403.8 1033.6,402.2 1033.8,402.9 1034.1,400.4 1034.3,400.9 1033.7,399.8 1033.9,400.6 1034.3,398.6 1034.0,397.8 1034.1,397.3 1034.6,397.8 1034.6,397.3 1034.6,394.7 1034.5,395.0 1034.3,393.5 1034.7,393.8 1035.4,393.3 1035.3,391.8 1036.0,392.5 1035.8,391.2 1035.8,389.4 1036.6,389.4 1036.7,388.4 1036.7,388.4 1037.2,387.6 1037.0,387.5 1036.7,386.0 1037.5,387.4 1037.5,386.0 1037.2,384.2 1037.2,385.4 1037.2,383.8 1037.7,382.0 1037.9,383.2 1037.8,380.6 1038.3,381.2 1038.3,379.3 1038.8,378.4 1038.5,378.8 1038.2,378.8 1038.7,380.1 1038.8,381.4 1039.2,381.4 1038.4,383.0 1038.5,382.4 1038.7,383.8 1039.4,383.2 1039.0,385.8 1039.4,384.6 1039.5,387.0 1039.3,386.0 1039.6,387.1 1039.2,387.4 1039.5,388.0 1039.6,389.8 1039.8,390.1 1040.1,390.0 1039.7,392.8 1040.3,393.5 1040.3,393.2 1040.1,393.8 1040.8,394.4 1040.5,394.1 1040.8,396.2 1041.4,395.5 1042.0,396.2 1042.1,394.6 1042.4,395.7 1042.5,395.3 1042.1,392.7 1042.6,393.4 1042.3,391.9 1042.2,392.5 1042.5,391.8 1042.5,389.8 1042.7,390.3 1043.2,388.6 1043.1,388.1 1043.3,388.3 1043.1,386.6 1042.9,387.3 1043.5,385.2 1043.2,385.0 1042.9,384.9 1043.9,385.2 1043.8,387.1 1043.6,387.8 1043.6,388.5 1043.3,390.2 1043.4,388.8 1044.0,390.8 1044.3,391.6 1044.5,390.6 1043.6,391.8 1044.5,392.2 1044.3,394.5 1044.0,394.6 1044.8,395.8 1044.4,395.8 1044.4,397.7 1044.9,397.7 1044.5,398.5 1044.8,399.3 1044.8,400.2 1045.2,399.8 1045.1,401.4 1045.1,401.2 1045.3,401.8 1044.9,400.9 1045.8,399.2 1046.1,397.6 1045.7,398.4 1046.3,396.9 1046.6,396.9 1045.8,394.9 1046.0,395.4 1046.4,393.9 1046.7,392.7 1047.3,394.1 1047.0,392.5 1047.1,393.0 1047.0,394.1 1047.1,395.8 1047.8,395.8 1047.8,394.8 1047.1,396.2 1047.2,397.1 1048.2,398.8 1048.2,397.9 1047.6,398.1 1047.7,398.8 1048.1,400.2 1048.3,401.5 1048.3,401.5 1048.5,403.2 1048.6,403.3 1048.4,403.5 1048.1,404.7 1048.7,404.6 1049.1,407.1 1049.1,407.6 1048.9,407.5 1048.9,406.0 1048.7,406.7 1049.5,404.4 1048.6,404.3 1049.0,404.3 1048.8,404.2 1049.0,403.7 1049.1,401.4 1049.0,402.5 1049.4,401.4 1048.9,400.0 1049.7,400.4 1049.9,397.4 1049.4,399.1 1049.6,398.3 1049.4,395.2 1050.1,395.1 1049.8,394.6 1049.8,395.4 1050.2,394.6 1049.6,393.8 1049.4,392.0 1050.4,390.9 1049.9,391.0 1049.8,390.7 1050.2,388.4 1050.1,388.8 1050.9,387.0 1050.9,387.1 1050.7,385.8 1051.9,387.0 1051.6,386.4 1052.0,385.0 1052.5,385.4 1052.2,383.1 1052.2,384.3 1052.5,382.8 1052.7,381.5 1052.5,381.9 1052.2,381.3 1052.1,379.8 1052.7,378.1 1053.2,378.2 1052.5,377.5 1053.0,376.9 1052.5,375.3 1053.2,374.8 1052.9,375.9 1053.5,375.4 1053.2,373.8 1053.0,371.8 1053.6,372.6 1053.3,370.4 1053.4,370.3 1053.6,371.5 1053.3,368.5 1053.8,367.9 1053.4,368.0 1054.2,367.0 1053.6,366.7 1053.5,365.9 1054.1,365.0 1054.3,363.9 1053.6,364.4 1054.0,364.4 1053.7,363.3 1054.4,361.6 1054.2,361.2 1054.4,362.0 1055.5,362.0 1055.8,362.5 1055.8,363.7 1055.9,363.7 1055.5,364.5 1055.9,366.3 1056.4,366.1 1055.8,365.9 1056.1,367.9 1055.7,368.5 1056.5,368.4 1056.5,369.2 1056.2,371.0 1055.8,370.3 1056.6,370.3 1056.0,372.1 1056.5,373.2 1056.7,373.9 1055.8,373.1 1055.8,374.7 1055.9,375.6 1056.4,376.2 1056.6,376.2 1056.9,377.4 1057.0,377.9 1056.7,379.1 1056.5,380.4 1056.3,379.7 1056.6,382.1 1056.9,380.5 1056.7,382.7 1057.3,382.1 1057.3,383.5 1057.1,384.3 1057.1,386.5 1057.7,387.0 1057.5,387.1 1057.0,386.0 1057.8,388.4 1057.6,388.1 1057.3,390.4 1057.6,390.0 1057.7,389.4 1057.6,391.0 1057.4,393.3 1058.3,393.6 1057.5,393.3 1057.7,394.8 1058.4,395.6 1058.5,394.6 1057.8,395.2 1058.7,397.8 1058.4,396.9 1058.8,397.3 1058.4,397.7 1059.1,399.5 1058.9,401.2 1058.8,402.4 1059.1,402.9 1058.9,402.5 1059.4,402.1 1059.2,403.1 1058.8,404.1 1059.5,404.0 1059.0,404.9 1059.6,406.5 1059.4,407.2 1059.5,407.4 1059.2,409.1 1059.5,410.2 1059.1,410.7 1059.6,410.7 1059.3,411.3 1059.0,410.8 1059.5,412.5 1059.4,412.2 1059.2,414.5 1059.9,414.9 1059.5,415.9 1060.2,416.3 1059.6,416.8 1059.9,416.8 1059.7,419.0 1060.3,419.9 1059.9,418.8 1060.3,419.0 1060.1,420.9 1060.4,422.6 1060.5,422.6 1060.6,423.7 1060.5,422.3 1061.2,425.1 1060.8,425.0 1060.5,424.6 1060.8,426.7 1060.8,425.6 1061.4,426.2 1061.3,427.8 1061.4,427.5 1061.6,428.7 1062.0,430.0 1061.9,430.4 1062.0,430.9 1061.7,432.9 1062.5,432.6 1061.9,432.6 1062.8,433.9 1062.2,435.5 1063.0,434.3 1062.7,436.1 1062.4,436.1 1062.9,437.7 1063.0,438.3 1062.8,437.5 1062.5,440.1 1063.5,441.0 1062.8,441.3 1063.2,441.2 1063.0,441.5 1063.1,443.5 1063.8,444.1 1063.5,445.0 1063.4,444.7 1063.9,444.5 1063.7,444.8 1064.2,445.7 1063.7,446.6 1064.2,448.2 1064.2,449.4 1064.5,448.4 1064.4,448.9 1064.2,449.5 1064.1,450.7 1065.0,452.2 1064.3,451.7 1064.9,453.2 1064.9,453.8 1064.5,452.0 1065.0,452.6 1064.6,452.4 1064.8,451.3 1065.2,449.9 1065.6,449.4 1065.2,449.1 1065.6,449.6 1065.6,447.7 1065.6,447.3 1065.9,447.5 1065.7,444.8 1065.6,444.7 1065.3,444.9 1065.4,444.1 1065.7,442.7 1066.0,442.7 1066.3,442.8 1066.1,440.2 1066.1,440.1 1066.4,439.3 1066.0,438.8 1065.9,436.9 1066.1,437.5 1066.0,435.7 1066.3,435.0 1066.0,435.3 1066.2,434.8 1066.5,433.8 1066.2,432.2 1066.7,434.0 1066.4,431.7 1066.6,432.0 1066.8,431.5 1066.4,429.1 1066.6,429.1 1067.0,428.8 1067.1,427.8 1067.9,427.3 1067.8,428.1 1068.1,426.5 1068.5,425.2 1067.9,426.2 1068.7,424.6 1068.9,423.8 1068.8,423.8 1069.4,422.9 1069.6,423.0 1070.1,421.2 1070.1,420.0 1070.7,419.2 1070.2,419.2 1071.0,417.6 1070.3,418.7 1070.3,417.0 1071.1,417.1 1071.2,414.9 1071.4,414.8 1071.4,414.4 1071.6,413.8 1071.0,412.3 1071.4,412.5 1071.5,412.0 1071.3,414.7 1071.8,415.3 1071.5,414.9 1072.0,414.6 1071.9,417.3 1072.5,416.9 1072.5,418.4 1073.0,418.4 1072.6,418.8 1072.3,419.0 1072.6,416.7 1072.7,416.8 1073.3,416.0 1073.3,414.5 1073.7,414.8 1073.4,414.9 1074.2,414.5 1074.4,411.6 1074.0,411.9 1074.0,412.0 1074.8,409.7 1074.5,410.0 1074.8,410.6 1075.4,408.6 1074.9,408.0 1075.5,408.2 1075.4,406.3 1076.0,406.2 1076.7,404.4 1076.5,403.9 1076.9,404.2 1077.2,403.0 1077.4,402.4 1076.8,401.4 1077.0,401.6 1077.6,401.2 1078.2,400.2 1078.0,398.7 1077.8,399.3 1077.5,398.7 1077.9,397.4 1078.3,397.7 1077.6,395.5 1077.6,395.2 1078.3,396.3 1078.7,395.4 1078.2,393.8 1078.0,395.2 1078.7,395.0 1079.1,396.1 1078.3,395.7 1078.4,397.4 1079.1,398.8 1078.6,397.2 1079.6,398.6 1079.0,400.8 1079.0,401.3 1079.5,401.2 1080.0,400.7 1079.9,398.6 1080.0,399.5 1080.3,398.6 1079.7,397.1 1080.4,396.1 1080.0,395.9 1080.8,396.0 1080.5,396.4 1080.8,393.8 1080.9,394.7 1081.0,393.1 1080.9,393.6 1081.2,395.7 1081.3,394.3 1081.3,395.4 1081.3,397.1 1080.9,397.2 1081.3,398.1 1081.8,398.4 1081.7,398.7 1081.4,399.9 1081.7,399.8 1082.0,401.2 1081.7,401.3 1082.2,403.6 1082.4,402.6 1081.6,404.3 1081.6,405.5 1082.3,404.9 1082.2,406.4 1082.0,406.3 1082.7,407.8 1082.5,406.9 1082.2,408.0 1082.1,409.7 1082.6,410.0 1082.8,411.8 1082.8,412.5 1082.8,412.1 1082.7,412.7 1083.4,413.4 1082.5,413.8 1082.8,415.2 1083.2,415.5 1083.7,416.9 1082.9,415.7 1083.6,417.9 1083.6,418.3 1083.1,418.9 1083.9,420.0 1083.2,419.4 1084.1,421.2 1083.5,422.3 1083.9,422.5 1084.4,422.8 1084.3,422.0 1083.8,420.4 1084.7,419.4 1084.1,420.1 1084.8,417.2 1084.3,418.0 1085.3,417.5 1085.4,415.5 1085.2,415.0 1085.1,414.3 1085.3,413.3 1085.7,414.2 1086.0,413.9 1085.8,412.5 1085.8,413.1 1086.7,413.0 1087.1,410.5 1087.6,411.2 1087.9,411.1 1088.3,412.7 1088.2,413.2 1087.7,414.3 1088.2,414.5 1087.8,415.0 1088.4,415.2 1087.9,416.5 1088.4,416.1 1088.1,419.1 1088.2,419.2 1088.3,418.1 1088.6,420.8 1088.9,419.3 1088.9,421.5 1088.8,422.3 1088.9,422.5 1089.0,422.3 1089.4,422.9 1089.1,425.4 1089.5,425.2 1089.8,425.8 1089.6,426.7 1089.4,426.8 1089.6,429.2 1090.6,429.0 1090.0,430.2 1090.2,430.7 1090.8,430.8 1090.8,431.2 1091.0,431.3 1091.2,432.7 1091.2,434.2 1090.7,433.7 1090.9,433.5 1091.4,435.8 1091.1,436.1 1091.5,435.5 1091.0,437.8 1091.3,438.0 1091.0,437.9 1091.5,438.9 1091.4,440.0 1091.9,440.4 1092.0,438.1 1091.6,437.0 1091.6,436.2 1091.8,437.9 1092.1,435.6 1091.7,436.5 1091.6,435.6 1092.5,432.9 1092.7,433.7 1092.2,432.5 1092.5,432.1 1092.8,432.4 1092.4,429.4 1092.6,430.0 1093.0,429.7 1092.9,427.5 1092.4,429.0 1092.7,427.2 1093.4,425.8 1093.1,424.7 1093.1,425.8 1092.7,425.2 1093.6,424.6 1093.5,424.3 1093.5,422.5 1093.6,422.5 1093.5,421.5 1093.1,419.9 1093.3,420.6 1093.8,418.4 1094.1,417.1 1093.2,417.1 1093.3,418.1 1093.6,415.9 1094.2,415.6 1094.0,414.7 1093.9,415.3 1093.7,413.5 1094.0,411.8 1093.7,412.1 1094.4,411.2 1093.8,411.8 1094.2,410.0 1094.0,411.7 1093.9,411.8 1094.1,411.4 1094.4,413.4 1094.5,413.2 1094.6,414.1 1094.5,416.0 1094.5,414.5 1094.9,415.7 1095.2,415.6 1095.2,417.1 1095.5,417.7 1095.1,418.4 1095.2,419.0 1095.4,420.0 1095.5,420.4 1095.4,421.7 1095.7,422.7 1095.5,421.9 1095.2,422.7 1095.4,423.5 1095.8,425.0 1096.0,425.3 1096.4,425.7 1095.8,426.2 1095.8,428.2 1096.3,427.7 1096.6,429.5 1096.4,430.0 1096.7,430.2 1096.2,430.7 1097.2,431.4 1096.9,431.3 1097.2,434.0 1097.0,433.8 1097.1,432.8 1097.5,431.9 1097.4,430.9 1098.1,431.3 1098.6,431.8 1098.8,431.2 1099.0,428.1 1098.9,428.8 1098.9,429.5 1100.0,428.1 1100.1,427.1 1100.3,425.8 1100.8,426.2 1101.1,425.0 1101.0,426.0 1101.8,425.4 1101.8,423.9 1102.1,424.0 1102.6,422.5 1102.6,422.3 1103.3,420.8 1103.1,420.6 1103.9,420.8 1103.9,418.6 1104.5,418.8 1104.5,418.9 1104.5,417.8 1104.5,415.8 1105.3,416.2 1104.9,415.6 1105.9,414.7 1105.7,414.2 1105.8,412.6 1106.3,413.3 1105.9,411.9 1105.9,413.0 1106.4,411.2 1106.9,410.3 1106.9,410.1 1106.8,408.2 1107.5,407.9 1107.6,406.9 1107.3,406.6 1108.1,407.2 1108.7,406.7 1108.4,404.4 1109.1,405.0 1108.9,404.4 1109.3,403.9 1109.3,405.7 1108.8,406.2 1108.7,407.3 1108.9,408.4 1108.9,409.0 1109.5,409.8 1109.9,409.4 1109.7,410.3 1109.9,412.1 1109.9,412.2 1109.4,413.7 1110.2,414.5 1109.6,414.9 1110.0,415.6 1110.2,415.3 1109.9,416.9 1110.2,416.9 1110.1,417.5 1110.6,416.9 1109.8,418.7 1110.0,420.4 1110.0,421.2 1110.3,419.9 1110.9,422.0 1110.6,422.4 1110.8,424.0 1110.9,423.6 1110.9,423.9 1111.2,423.8 1111.3,426.6 1111.5,426.3 1111.1,425.8 1111.4,427.5 1111.0,428.3 1111.9,429.8 1111.3,430.2 1112.0,430.2 1112.1,430.2 1111.6,431.7 1112.1,432.2 1111.7,434.0 1111.9,433.5 1111.8,434.4 1112.3,434.8 1112.4,435.8 1111.8,437.7 1112.1,437.3 1112.9,437.2 1112.1,437.8 1112.2,440.2 1112.6,440.0 1112.7,438.1 1112.6,438.7 1112.5,437.5 1113.4,437.2 1112.8,436.9 1112.7,436.1 1113.4,434.3 1113.3,434.2 1113.6,434.3 1113.9,433.6 1113.2,431.8 1113.8,432.8 1113.3,431.1 1113.6,430.6 1113.9,430.0 1114.3,430.8 1114.2,432.0 1113.8,432.3 1113.9,432.6 1114.1,433.8 1113.8,434.9 1113.9,434.2 1114.6,436.6 1114.2,437.2 1113.9,437.9 1114.1,436.2 1114.7,437.2 1114.8,437.5 1114.2,439.1 1114.2,440.0 1114.5,441.4 1114.7,442.7 1115.1,441.3 1115.2,443.8 1114.9,443.5 1114.6,443.7 1114.7,444.0 1115.1,445.0 1115.3,446.3 1115.4,445.8 1115.1,447.5 1115.5,448.2 1115.3,448.2 1115.4,449.3 1115.4,450.5 1114.8,450.4 1115.4,450.4 1115.3,452.4 1115.4,452.6 1115.2,453.6 1115.5,453.3 1115.3,454.5 1115.3,455.2 1115.0,455.8 1115.7,456.8 1115.7,458.5 1115.1,458.7 1114.8,460.3 1115.4,458.9 1115.3,460.6 1115.5,460.7 1115.8,462.3 1114.9,463.5 1115.8,462.9 1115.6,465.0 1115.8,463.6 1115.7,464.8 1115.7,466.6 1115.4,467.9 1115.7,468.8 1115.9,468.4 1115.7,469.3 1115.4,469.6 1115.5,469.5 1115.3,471.8 1115.8,472.2 1115.7,472.4 1115.6,473.4 1115.0,473.6 1116.0,473.6 1115.5,474.0 1115.3,476.6 1115.1,477.2 1115.9,478.1 1115.4,479.0 1115.5,478.4 1116.1,479.3 1115.8,478.9 1115.1,480.0 1115.3,482.1 1115.4,483.2 1115.9,481.9 1115.9,482.9 1115.7,482.9 1116.0,485.5 1115.8,485.9 1115.6,485.2 1115.6,487.4 1115.8,487.5 1115.9,487.2 1115.6,488.8 1115.4,488.4 1115.9,489.3 1116.4,489.9 1116.3,492.4 1116.0,492.4 1116.7,493.3 1116.1,494.9 1116.1,495.5 1116.4,495.0 1116.2,495.5 1116.3,496.8 1116.9,497.6 1116.2,499.1 1116.8,498.5 1117.0,498.1 1116.8,500.6 1117.0,501.0 1116.4,501.2 1116.6,502.2 1116.8,502.5 1117.0,503.6 1117.4,503.5 1116.8,503.9 1116.7,506.3 1117.5,505.1 1117.0,507.9 1117.6,508.7 1117.7,507.7 1116.9,508.2 1117.3,508.3 1117.1,510.2 1117.6,510.1 1117.1,511.2 1117.1,511.4 1117.2,513.8 1117.6,513.8 1118.0,513.2 1118.0,516.0 1117.9,515.3 1118.1,515.4 1117.3,518.4 1117.5,518.9 1118.1,517.4 1117.5,519.6 1117.5,520.3 1118.1,519.9 1117.9,520.5 1118.4,522.3 1118.2,523.0 1117.6,524.3 1118.4,524.1 1118.2,524.7 1118.4,525.5 1117.9,526.1 1117.9,525.5 1118.2,528.4 1118.5,527.4 1118.3,529.0 1118.4,529.4 1118.3,530.7 1118.8,530.9 1118.7,532.0 1118.0,531.6 1118.3,532.5 1118.5,533.1 1119.0,534.9 1118.4,535.5 1119.0,534.8 1118.7,537.5 1118.5,538.0 1119.0,537.2 1118.3,539.2 1118.6,538.7 1118.7,540.4 1119.2,541.5 1119.1,540.3 1118.7,540.5 1118.9,542.5 1118.6,541.4 1118.6,541.1 1118.6,540.8 1118.9,539.1 1119.2,538.6 1118.5,539.2 1119.3,538.7 1118.8,536.4 1119.3,535.4 1119.6,536.0 1119.2,533.7 1118.9,534.0 1119.6,532.6 1119.3,531.7 1119.7,532.8 1119.5,532.1 1118.9,530.1 1118.8,530.2 1118.9,528.6 1119.0,529.8 1119.6,527.5 1119.8,526.4 1119.0,526.3 1119.7,524.9 1119.7,525.4 1119.7,524.1 1119.0,522.8 1119.7,523.2 1119.5,522.5 1119.8,522.4 1119.4,523.1 1120.0,525.1 1119.3,525.9 1119.2,525.9 1119.5,527.4 1120.0,527.9 1119.5,526.9 1120.0,529.3 1119.4,530.4 1120.3,529.8 1120.0,531.3 1120.4,532.0 1120.0,533.0 1120.0,531.8 1120.1,533.5 1120.0,534.1 1119.9,534.6 1120.4,536.8 1120.2,537.4 1119.9,537.2 1120.6,538.6 1120.2,537.7 1120.8,539.5 1120.6,539.6 1120.1,540.8 1120.4,542.4 1120.7,542.7 1120.6,543.4 1120.2,544.7 1120.7,544.4 1120.4,543.8 1120.9,546.1 1120.8,546.2 1121.3,546.0 1121.6,547.8 1122.0,547.5 1122.2,547.9 1121.6,546.9 1121.6,545.8 1122.1,543.7 1122.1,544.5 1122.5,542.3 1122.2,543.5 1121.8,543.1 1122.7,541.0 1122.0,539.8 1122.0,539.8 1122.5,540.5 1122.4,539.8 1122.3,538.4 1121.9,537.1 1122.0,535.6 1122.8,534.9 1122.3,535.3 1122.6,533.3 1122.2,534.3 1122.5,532.1 1122.6,532.5 1122.6,531.5 1123.2,530.0 1122.4,529.3 1122.8,531.0 1123.0,528.1 1122.8,528.0 1123.3,528.3 1123.0,526.4 1122.8,526.4 1122.8,525.8 1122.5,524.8 1123.5,524.1 1123.0,524.3 1123.3,523.6 1122.9,522.8 1122.8,521.9 1122.6,520.1 1122.8,519.8 1123.4,518.3 1123.6,517.8 1123.7,519.3 1123.2,517.5 1123.4,517.7 1123.8,516.0 1123.7,514.2 1123.7,515.1 1123.8,513.1 1123.1,513.4 1123.7,513.1 1123.3,512.1 1124.1,510.6 1124.0,511.8 1123.9,509.7 1123.7,509.1 1123.5,507.4 1123.7,506.9 1124.3,506.7 1124.4,506.6 1124.4,506.7 1124.3,504.9 1123.9,504.5 1124.0,504.5 1123.8,503.3 1124.1,502.0 1124.4,502.8 1124.9,500.5 1124.9,501.3 1124.5,499.6 1124.5,498.8 1124.4,498.9 1124.8,498.2 1125.4,497.2 1125.3,496.4 1124.9,495.5 1125.0,494.2 1126.1,494.1 1125.8,493.8 1125.4,492.9 1125.4,492.7 1125.6,491.0 1126.0,492.2 1125.4,491.0 1126.1,489.7 1125.9,487.8 1125.9,488.5 1125.9,489.1 1126.0,488.0 1126.5,487.2 1126.2,485.8 1126.6,484.2 1126.0,483.2 1126.3,483.7 1126.8,484.3 1126.4,482.5 1126.5,481.9 1126.4,481.9 1127.0,479.8 1127.6,478.8 1127.1,479.3 1127.6,478.8 1128.3,477.2 1127.7,478.3 1127.9,478.0 1127.8,475.6 1128.2,476.5 1128.2,475.5 1129.1,475.6 1128.9,473.8 1129.5,472.0 1129.5,471.8 1129.4,471.2 1130.1,471.2 1130.8,471.1 1130.7,470.1 1131.1,471.4 1132.0,470.0 1132.6,469.3 1133.1,470.0 1132.6,467.5 1132.9,467.8 1133.7,466.9 1133.9,466.2 1134.6,466.0 1134.6,466.1 1135.7,464.1 1135.8,465.0 1135.9,464.7 1136.3,466.1 1136.6,467.3 1136.8,467.7 1136.6,469.4 1137.0,468.3 1136.4,470.5 1137.0,470.0 1136.7,471.8 1137.6,471.7 1137.7,472.3 1137.6,472.9 1137.2,472.2 1137.8,473.8 1137.3,474.8 1137.6,474.6 1138.3,476.2 1138.2,477.4 1138.0,477.1 1138.1,477.5 1138.6,479.6 1138.2,479.8 1138.2,478.6 1138.8,481.2 1138.5,482.5 1139.0,481.4 1138.9,482.5 1139.3,482.8 1138.8,482.3 1139.3,480.0 1139.4,480.1 1139.7,478.8 1139.4,479.1 1140.2,478.6 1140.0,478.4 1139.8,475.9 1140.0,476.4 1140.6,474.9 1140.8,475.0 1141.2,474.2 1141.0,477.2 1142.3,475.4 1142.4,477.0 1142.6,477.5 1142.8,479.1 1143.0,480.0 1143.2,480.6 1142.7,481.0 1143.1,482.0 1143.7,482.8 1143.8,481.9 1143.6,483.6 1143.3,483.7 1143.9,484.8 1143.8,485.2 1144.4,485.3 1144.2,486.2 1144.5,486.6 1144.2,485.0 1144.4,485.1 1144.2,483.0 1144.4,483.3 1144.2,483.5 1144.6,482.2 1144.6,479.7 1144.6,480.5 1144.4,480.9 1144.9,478.9 1144.4,477.6 1144.8,478.0 1144.6,476.9 1144.8,476.5 1145.3,475.7 1145.1,475.0 1145.5,474.7 1145.0,474.1 1145.5,473.7 1146.1,471.9 1146.1,471.0 1146.0,469.7 1146.3,470.2 1146.1,469.7 1146.1,468.3 1146.6,468.7 1146.1,467.1 1147.1,466.4 1146.5,466.5 1146.7,466.8 1147.0,465.0 1147.6,463.4 1147.0,462.8 1147.3,462.4 1147.7,463.3 1147.2,460.4 1147.4,460.5 1147.5,460.2 1147.9,460.3 1148.6,460.2 1148.2,458.7 1148.0,458.0 1148.9,458.0 1148.3,455.5 1149.2,456.2 1148.9,455.0 1149.3,453.3 1149.4,452.5 1149.7,453.9 1149.5,451.2 1150.1,453.2 1150.1,451.2 1150.4,450.3 1150.3,450.8 1151.1,449.0 1150.5,450.0 1150.8,448.0 1150.9,448.1 1151.7,446.8 1151.7,446.0 1151.5,446.4 1152.2,445.7 1152.0,445.2 1152.0,443.8 1152.6,444.3 1152.3,442.2 1152.0,441.9 1152.5,440.0 1153.3,440.1 1153.4,438.7 1153.0,440.1 1153.2,438.8 1153.7,439.8 1153.9,438.9 1154.5,441.3 1154.5,441.2 1154.6,440.7 1155.0,439.9 1154.7,439.2 1155.0,439.2 1154.7,438.7 1154.8,437.7 1154.9,437.7 1155.5,436.7 1155.0,434.9 1155.2,434.9 1154.8,434.1 1155.8,432.2 1155.8,432.8 1156.0,432.6 1155.8,432.0 1155.6,429.7 1155.8,430.0 1156.2,430.3 1156.1,427.9 1156.0,428.0 1155.9,427.3 1156.1,427.9 1156.4,427.2 1156.7,424.5 1156.7,424.4 1156.6,424.2 1156.8,422.8 1156.8,422.3 1157.0,422.0 1157.0,422.6 1156.7,419.4 1157.0,420.0 1157.5,419.4 1157.4,419.5 1157.7,417.7 1157.9,417.0 1157.8,417.5 1157.5,415.7 1157.7,414.8 1157.8,415.4 1157.6,415.1 1158.4,413.3 1158.2,412.5 1158.5,411.4 1158.8,412.2 1158.5,410.6 1158.5,409.4 1159.2,409.7 1158.9,409.1 1158.8,406.8 1159.1,407.7 1159.1,407.0 1159.5,406.2 1159.4,406.3 1159.9,407.2 1160.0,408.9 1159.7,407.7 1160.3,409.7 1160.1,410.7 1160.1,412.0 1159.7,412.8 1160.4,412.0 1160.7,413.9 1160.5,412.3 1160.6,414.0 1160.7,415.8 1160.3,416.5 1160.8,416.2 1160.6,416.3 1160.4,416.6 1160.8,418.3 1161.5,418.1 1160.9,419.2 1161.4,419.9 1161.5,420.0 1160.9,421.8 1161.7,421.3 1161.1,423.3 1161.2,424.7 1161.9,423.3 1161.7,423.7 1161.4,425.2 1162.3,427.3 1162.0,426.9 1162.4,426.6 1162.3,425.6 1162.5,424.9 1162.4,425.1 1162.4,423.3 1162.9,424.1 1162.7,422.1 1162.8,420.8 1162.9,421.7 1162.9,420.2 1163.1,419.8 1163.7,417.9 1163.5,417.4 1163.8,418.0 1163.5,416.2 1163.9,416.2 1163.9,415.2 1164.6,416.0 1164.7,414.1 1164.6,413.0 1164.8,414.3 1164.6,412.2 1164.9,412.8 1165.2,411.2 1165.1,411.1 1165.8,410.0 1165.9,410.2 1166.2,409.4 1165.9,407.5 1166.3,406.3 1166.8,407.4 1166.5,405.9 1166.2,405.8 1167.0,404.0 1166.5,404.9 1167.0,403.8 1167.1,405.2 1167.1,406.4 1167.7,405.3 1167.4,406.7 1167.4,407.9 1167.8,408.6 1167.4,408.5 1167.8,409.4 1167.4,410.6 1167.9,409.6 1168.4,411.3 1168.4,412.5 1168.2,412.5 1168.5,412.9 1168.0,410.7 1168.2,410.9 1168.3,408.6 1168.3,408.3 1168.8,408.4 1168.8,406.6 1168.9,406.5 1168.6,405.3 1168.7,405.6 1168.8,405.1 1168.9,405.1 1169.7,403.4 1169.0,404.4 1169.5,402.5 1169.2,402.2 1170.0,401.1 1170.3,399.6 1170.3,400.9 1170.6,400.0 1170.3,398.5 1170.9,397.5 1170.4,395.9 1170.5,395.5 1171.4,395.3 1170.9,396.3 1171.4,394.3 1171.4,393.8 1171.1,392.7 1171.5,393.6 1171.7,393.0 1171.7,389.9 1172.5,389.3 1172.5,390.0 1172.2,389.9 1172.5,389.6 1172.7,388.8 1173.2,386.7 1173.2,386.9 1173.3,384.4 1173.2,385.0 1173.6,386.3 1173.2,385.3 1173.2,387.1 1173.4,388.6 1173.8,389.6 1174.2,388.8 1173.8,389.5 1174.4,391.3 1174.8,390.5 1174.0,392.1 1174.8,392.7 1175.1,393.8 1175.0,394.5 1174.6,395.5 1175.1,395.0 1175.3,394.6 1174.9,396.7 1175.1,398.2 1175.1,397.7 1175.4,399.5 1175.2,400.1 1175.7,399.9 1176.0,401.4 1175.8,401.2 1175.1,401.0 1175.8,401.4 1175.8,402.7 1175.8,403.8 1175.7,403.9 1176.2,403.0 1175.8,401.8 1176.4,402.1 1176.1,399.2 1176.5,398.4 1175.7,399.4 1175.8,398.9 1176.4,396.7 1176.7,398.2 1176.5,397.4 1176.7,395.4 1176.7,396.0 1176.6,393.0 1176.4,394.0 1176.4,391.9 1176.6,391.1 1176.6,390.3 1176.9,389.9 1176.8,390.0 1177.2,389.7 1177.0,391.8 1176.6,392.4 1177.0,393.1 1176.7,393.4 1177.4,394.5 1176.8,394.5 1177.5,394.4 1177.1,396.3 1177.1,395.7 1176.8,398.6 1177.2,397.8 1177.3,397.9 1176.9,400.6 1177.7,399.7 1177.3,400.1 1177.3,401.9 1177.8,402.6 1177.9,404.6 1177.7,402.8 1177.3,405.1 1177.4,406.4 1177.3,404.9 1178.3,406.5 1177.9,407.7 1177.5,407.7 1177.8,409.5 1178.3,410.1 1177.7,410.2 1178.5,410.1 1178.0,412.0 1178.7,411.1 1178.4,413.0 1178.2,413.8 1178.4,413.9 1178.0,412.6 1178.3,412.4 1178.8,410.8 1178.4,411.0 1179.0,409.8 1179.2,410.1 1178.7,408.7 1179.4,407.0 1179.6,406.4 1179.7,406.4 1179.8,406.5 1179.8,404.5 1179.5,404.4 1180.0,403.2 1180.1,402.0 1179.9,401.1 1179.6,400.8 1179.6,400.9 1180.1,400.0 1180.4,399.1 1180.7,398.9 1180.7,397.0 1180.5,396.3 1180.4,397.8 1180.5,396.5 1180.9,396.1 1181.5,395.9 1181.7,395.6 1181.4,393.8 1181.4,394.4 1181.9,391.8 1181.6,391.8 1182.2,390.0 1182.4,390.9 1182.2,389.5 1182.1,388.8 1182.6,388.3 1182.7,388.7 1182.2,385.8 1183.2,385.6 1183.2,385.5 1182.7,383.8 1183.1,384.7 1183.2,383.8 1182.9,381.8 1183.2,383.4 1183.8,381.1 1183.5,380.8 1183.9,379.8 1183.7,379.6 1183.6,378.8 1184.2,378.3 1183.6,377.2 1184.3,376.2 1184.2,376.3 1184.2,374.7 1184.8,373.7 1185.0,373.1 1184.7,373.6 1184.7,373.1 1185.2,371.6 1184.5,370.6 1185.4,370.9 1185.1,370.0 1185.6,369.1 1185.3,369.2 1185.7,369.2 1185.5,367.1 1186.2,367.9 1186.2,367.0 1186.0,366.0 1186.4,365.5 1186.8,364.4 1186.7,364.2 1186.7,366.3 1187.3,367.5 1187.1,365.9 1187.6,367.1 1187.6,368.4 1187.4,367.8 1187.3,370.4 1187.7,371.4 1188.1,371.2 1188.4,370.4 1187.9,372.5 1187.7,374.0 1188.2,373.8 1188.4,373.6 1189.0,372.8 1189.6,372.3 1190.1,372.5 1189.8,373.6 1190.3,372.8 1190.7,373.5 1190.0,374.7 1190.1,375.9 1190.7,375.6 1190.4,377.6 1190.1,377.6 1190.3,379.6 1190.7,379.3 1190.0,379.6 1190.8,380.5 1190.4,381.7 1190.1,382.4 1190.7,381.7 1190.5,384.3 1190.4,384.2 1190.5,384.9 1190.6,385.0 1191.1,386.6 1191.2,386.4 1190.8,387.5 1190.8,387.8 1191.3,388.4 1191.2,388.5 1191.1,389.4 1191.6,390.3 1191.7,391.4 1191.1,392.0 1191.4,392.5 1191.8,393.7 1191.8,394.0 1191.6,393.6 1191.9,395.5 1191.7,395.3 1191.9,396.6 1191.5,398.4 1192.0,398.3 1192.1,399.0 1191.7,400.4 1192.2,400.3 1191.8,400.5 1191.5,402.2 1192.3,402.1 1192.0,402.5 1192.0,402.6 1191.6,400.9 1191.9,400.8 1192.0,400.1 1192.6,399.0 1191.8,397.3 1192.6,397.8 1192.2,396.0 1191.9,395.2 1192.8,394.7 1192.2,395.2 1192.5,393.8 1192.6,394.3 1193.0,392.2 1192.3,391.5 1192.4,391.2 1192.6,391.2 1192.2,392.7 1192.5,393.2 1193.1,394.1 1192.3,394.2 1193.2,395.0 1193.0,395.1 1193.2,396.1 1192.8,396.7 1192.9,396.6 1193.2,398.9 1193.2,397.4 1193.0,400.1 1192.8,400.1 1193.3,400.8 1193.0,400.2 1193.4,401.3 1193.4,402.9 1193.5,402.5 1193.8,404.8 1193.8,404.0 1193.6,405.2 1193.7,406.7 1193.5,406.9 1193.4,407.4 1193.5,405.4 1193.8,403.9 1194.0,403.7 1194.1,402.5 1193.3,403.0 1193.5,401.9 1193.5,402.0 1194.0,401.2 1193.5,398.8 1193.9,398.2 1194.1,398.7 1194.4,398.8 1194.1,398.1 1194.0,396.0 1193.6,396.4 1194.2,395.5 1194.1,394.4 1194.6,393.5 1193.8,394.3 1194.5,393.5 1194.7,391.6 1193.9,391.0 1194.3,390.1 1194.6,389.0 1194.8,388.3 1194.2,389.2 1194.2,388.2 1194.2,386.7 1194.5,386.2 1194.5,384.9 1194.9,386.0 1195.0,383.3 1194.2,383.3 1194.9,382.9 1195.2,383.3 1194.9,380.7 1194.7,379.5 1194.7,380.6 1194.7,378.4 1194.9,379.6 1195.1,376.9 1194.9,376.5 1195.3,376.3 1195.0,376.8 1194.9,374.9 1195.6,373.9 1195.2,374.1 1195.0,373.3 1195.2,373.1 1195.3,372.2 1195.4,371.4 1195.2,369.3 1195.2,369.0 1194.9,369.5 1195.5,368.0 1195.7,366.3 1195.2,367.3 1195.1,367.0 1195.6,366.5 1196.0,364.4 1195.5,363.7 1196.0,363.1 1195.8,362.5 1196.0,363.1 1196.1,361.1 1196.2,360.4 1196.1,359.5 1196.5,360.3 1196.2,358.5 1195.8,357.8 1196.7,356.3 1196.6,355.6 1196.7,355.0 1196.6,355.6 1196.1,355.1 1196.7,352.8 1196.5,352.9 1197.0,351.2 1196.4,350.7 1197.1,350.4 1197.0,350.0 1197.3,349.9 1197.0,348.8 1196.9,348.2 1197.4,346.5 1197.5,345.6 1197.9,346.0 1197.9,345.6 1197.3,345.0 1197.7,343.4 1197.9,343.7 1197.9,341.6 1198.3,342.7 1197.8,342.1 1198.5,339.9 1197.7,338.9 1198.1,338.0 1197.9,338.8 1198.2,337.5 1197.9,337.1 1198.4,336.7 1198.4,335.4 1198.5,333.5 1199.3,333.8 1198.9,334.6 1199.1,332.9 1199.0,331.9 1199.9,332.3 1200.0,331.8 1199.6,328.9 1199.6,329.8 1200.1,328.8 1200.2,327.7 1200.4,326.7 1200.3,326.5 1199.9,326.8 1200.0,326.1 1200.6,324.5 1200.3,323.2 1200.1,323.8 1200.3,322.8 1200.4,321.4 1200.2,322.0 1200.5,319.7 1201.0,319.0 1200.4,318.4 1200.7,319.3 1200.2,319.0 1200.9,318.1 1200.7,316.4 1200.4,315.3 1201.2,314.6 1201.3,315.4 1201.3,312.9 1200.9,314.0 1201.0,312.5 1200.8,311.1 1200.5,311.2 1201.1,309.7 1200.8,310.1 1200.7,309.8 1201.4,308.1 1200.7,307.8 1200.9,305.9 1201.3,306.4 1200.8,304.9 1201.3,305.9 1200.9,304.4 1200.8,303.4 1201.2,302.3 1201.2,302.2 1200.7,300.4 1201.0,299.8 1201.2,300.2 1201.3,300.3 1201.2,299.3 1200.8,298.9 1201.6,297.5 1201.5,296.7 1201.1,295.0 1201.2,295.7 1201.5,295.5 1201.2,294.9 1201.1,291.8 1201.1,292.5 1201.5,291.0 1200.7,291.6 1200.9,291.2 1201.3,288.6 1201.3,289.6 1201.0,289.4 1200.8,286.6 1201.4,287.3 1201.4,287.2 1201.0,284.2 1201.3,284.3 1201.2,283.8 1201.7,282.8 1201.5,282.8 1201.1,283.0 1201.1,280.7 1201.0,281.1 1201.5,279.5 1201.0,279.4 1201.2,278.6 1201.5,276.5 1200.9,277.9 1201.7,275.3 1201.1,275.5 1201.4,275.0 1201.7,273.8 1201.9,272.5 1201.8,271.8 1201.5,273.4 1201.6,272.6 1201.3,272.0 1201.9,269.5 1201.7,270.5 1201.2,268.4 1201.8,268.2 1201.9,267.1 1201.5,265.7 1201.3,266.9 1201.3,266.2 1201.8,264.7 1201.3,262.5 1201.2,264.0 1202.0,263.6 1201.4,262.9 1201.5,260.7 1202.0,261.1 1201.8,259.1 1201.2,258.1 1201.4,257.4 1201.7,257.0 1201.4,257.8 1201.5,254.8 1201.2,255.6 1201.2,254.9 1201.2,253.9 1201.8,253.4 1201.4,253.5 1202.2,252.7 1202.2,252.5 1201.6,250.6 1201.7,250.6 1201.4,248.4 1201.7,248.5 1202.3,247.3 1201.3,246.7 1202.2,245.3 1201.8,245.9 1202.2,244.5 1201.9,245.4 1202.3,243.7 1201.7,243.2 1202.1,242.6 1202.1,241.1 1202.1,240.4 1201.6,239.0 1202.0,238.5 1201.7,238.1 1201.8,237.7 1202.4,237.3 1202.0,236.3 1202.0,236.7 1202.0,235.2 1201.8,233.6 1202.0,233.8 1201.8,233.4 1201.9,233.9 1202.1,236.0 1201.8,237.1 1202.2,237.5 1202.3,238.6 1202.6,237.5 1202.5,238.6 1202.8,239.5 1202.3,239.4 1202.6,241.2 1203.1,240.9 1202.4,243.7 1202.3,243.1 1202.7,244.5 1203.0,245.9 1202.6,244.3 1202.5,244.8 1202.6,247.0 1203.3,246.4 1202.7,249.1 1203.0,248.5 1202.5,248.3 1202.7,250.5 1202.6,250.9 1203.4,250.2 1202.9,252.0 1203.2,253.5 1203.3,253.4 1203.0,254.6 1203.1,256.1 1203.2,255.9 1203.4,256.3 1203.3,257.4 1203.4,259.0 1203.1,258.4 1203.8,259.9 1203.4,259.2 1203.1,260.2 1203.4,261.0 1203.2,261.8 1203.5,262.5 1203.6,262.2 1203.7,264.4 1203.2,263.9 1203.1,265.2 1203.8,265.7 1203.7,266.9 1203.2,266.2 1203.6,269.2 1203.9,268.6 1203.4,268.5 1203.8,270.8 1203.6,269.8 1203.5,272.1 1204.0,272.0 1204.1,272.6 1203.3,272.8 1204.2,274.8 1203.4,274.4 1203.7,275.6 1203.4,277.5 1203.9,276.5 1203.4,278.0 1204.3,279.0 1204.3,280.1 1204.1,278.7 1203.8,280.8 1203.9,280.5 1203.6,282.9 1204.2,282.1 1204.0,284.3 1203.7,284.4 1203.8,285.8 1204.4,286.6 1204.0,286.1 1203.9,286.4 1204.1,287.5 1204.6,289.4 1204.6,289.9 1204.1,290.0 1204.6,290.0 1204.6,291.7 1204.0,291.2 1204.4,291.4 1204.0,292.2 1203.8,294.7 1204.7,295.2 1204.3,295.6 1204.4,295.5 1204.3,295.4 1204.0,296.6 1204.2,298.1 1204.0,297.7 1204.7,299.8 1204.8,300.5 1204.0,300.4 1204.7,301.9 1204.1,301.8 1204.5,301.2 1204.1,303.8 1204.6,303.7 1204.5,304.6 1204.3,304.1 1204.7,306.6 1204.4,307.3 1204.8,307.8 1204.8,309.2 1204.0,309.8 1204.4,310.0 1204.5,310.0 1205.0,308.3 1205.2,307.7 1205.7,307.7 1205.8,307.5 1205.8,307.5 1206.3,309.1 1205.9,310.0 1205.9,310.8 1206.5,311.3 1206.6,312.5 1206.8,311.8 1206.8,312.7 1206.7,312.6 1207.0,313.8 1207.3,315.3 1207.5,315.6 1207.1,315.5 1207.3,316.9 1207.6,317.8 1207.1,317.3 1206.8,319.3 1207.2,319.0 1206.8,319.9 1207.7,320.0 1207.6,322.0 1207.5,322.2 1207.2,323.1 1207.5,324.6 1207.5,323.7 1207.9,325.0 1207.4,325.8 1207.2,325.3 1208.0,326.7 1207.9,326.7 1207.6,327.5 1208.0,329.1 1207.6,329.2 1207.5,329.4 1208.0,330.4 1207.4,331.3 1207.8,333.5 1207.8,332.7 1208.4,334.2 1207.9,334.0 1208.0,335.0" fill="none" stroke="#b40b0b" stroke-width="2.1" stroke-linejoin="round"/>
<polyline points="677.6,303.8 677.5,303.5 677.9,305.4 677.7,305.6 677.9,306.5 678.3,307.3 678.8,307.3 678.6,307.0 678.9,308.8 678.7,308.4 679.5,306.6 679.8,308.0 679.4,306.4 679.8,305.2 679.7,305.6 680.0,304.2 680.2,302.8 680.3,302.6 680.1,302.6 680.8,301.9 680.8,301.2 680.8,302.4 680.8,303.9 680.7,302.0 681.1,304.5 680.9,304.4 681.0,304.7 681.5,307.0 681.0,306.9 681.3,306.5 681.6,308.2 681.9,309.9 681.9,308.9 681.2,311.0 681.2,311.4 681.4,312.1 681.3,311.2 682.2,313.0 681.8,314.9 682.2,313.6 682.0,315.0 682.3,315.4 682.1,315.9 681.9,316.6 682.0,316.9 682.7,318.1 682.4,319.9 682.6,318.9 683.0,321.6 682.9,320.8 683.0,322.3 682.2,322.3 683.0,323.4 683.3,324.7 683.2,325.9 682.8,326.4 682.5,326.8 682.7,326.7 683.1,326.3 683.4,328.9 683.0,328.1 683.6,329.6 682.9,329.7 683.9,330.3 683.3,331.4 684.0,333.0 683.6,333.4 683.3,332.5 683.7,334.7 683.9,335.0 683.6,333.1 684.4,332.9 683.7,331.9 683.8,331.8 684.4,332.1 684.2,331.0 684.3,330.5 684.2,330.0 684.1,330.1 684.4,328.5 684.5,327.5 684.6,327.4 685.2,327.2 685.5,325.6 685.1,325.0 685.6,324.2 685.7,324.2 686.4,323.8 687.0,321.9 686.9,321.9 686.9,321.1 687.2,321.0 686.9,320.2 686.7,318.7 687.8,318.0 687.4,318.8 687.2,318.8 687.5,318.2 687.9,316.6 688.2,314.6 688.2,315.0 688.4,315.0 688.7,314.3 688.7,312.0 688.6,312.3 688.3,312.3 688.5,311.1 688.7,309.4 689.5,309.9 689.4,309.2 689.4,309.2 689.0,307.2 689.2,307.1 689.5,307.3 689.4,304.9 690.2,305.4 689.8,303.8 690.3,302.6 690.3,302.1 690.5,301.0 690.7,302.4 690.0,299.9 691.0,300.9 690.4,300.2 690.8,298.8 690.9,298.8 691.0,299.9 690.5,301.7 691.1,300.8 690.8,302.6 690.8,302.2 691.0,304.7 690.6,303.5 691.0,306.1 691.5,304.2 691.2,305.3 690.8,305.9 691.1,308.8 691.6,307.9 691.5,309.4 690.7,310.6 691.0,311.5 690.9,312.0 691.3,311.7 691.0,312.3 691.6,313.1 691.8,313.7 691.8,313.4 691.4,315.0 691.7,315.9 691.9,315.9 691.5,317.9 691.4,317.4 692.0,318.8 691.7,317.8 692.0,319.6 691.6,320.2 691.5,322.0 692.2,323.0 692.2,321.6 692.0,324.5 691.6,323.5 691.8,323.7 692.0,325.5 691.9,326.9 692.3,325.7 692.0,327.3 692.3,328.0 692.1,328.3 692.6,328.2 692.6,330.0 692.6,331.5 692.7,330.3 692.8,330.8 692.3,331.2 692.7,332.3 692.4,332.8 693.0,333.5 692.6,335.0 692.9,336.5 692.7,336.5 692.7,337.8 693.1,336.5 693.2,337.4 693.0,338.1 693.1,340.0 693.4,339.8 692.8,340.8 693.8,341.8 693.6,343.0 693.6,344.1 694.0,344.2 694.0,343.3 693.5,345.5 693.9,346.5 693.9,346.2 694.2,346.5 693.6,348.0 693.6,348.3 693.7,348.8 694.1,350.1 694.1,349.3 694.4,351.6 694.5,352.1 694.2,353.5 694.4,353.5 693.7,352.7 694.4,355.5 694.1,354.5 694.1,356.9 694.5,355.7 693.9,356.6 694.5,357.4 694.7,358.5 694.0,359.2 694.0,361.1 693.9,360.6 694.3,360.3 694.1,363.5 694.8,362.7 694.8,364.7 694.8,364.9 694.5,365.0 694.6,364.4 694.8,363.9 695.1,362.1 695.1,363.0 694.7,362.5 694.6,360.7 694.9,361.5 694.7,360.5 695.1,360.0 694.8,358.7 695.5,358.6 695.3,357.8 695.3,356.3 694.9,355.6 695.8,356.0 694.9,353.7 695.1,354.4 695.1,353.5 695.2,351.7 696.0,350.5 695.7,350.2 695.9,349.0 695.9,348.8 695.8,348.8 696.3,348.9 696.2,348.8 696.6,351.0 696.7,351.9 695.9,352.5 696.4,351.7 697.0,353.6 696.6,352.6 697.0,353.2 697.0,355.0 696.8,354.5 696.8,357.0 697.0,358.3 697.1,358.5 697.6,358.8 697.6,358.1 697.9,360.8 697.7,359.6 697.3,360.5 698.3,361.3 697.6,362.5 697.5,363.9 698.3,363.3 697.6,365.5 698.5,365.8 698.0,367.0 698.5,365.3 698.9,367.7 698.2,368.9 698.7,368.9 698.2,368.5 699.0,368.6 698.5,369.5 698.9,371.2 699.0,371.0 699.3,372.5 699.3,374.4 699.6,373.2 699.1,375.5 699.1,376.5 699.1,376.4 699.1,377.3 699.2,377.2 699.7,379.0 699.2,378.0 699.3,380.2 699.9,380.8 700.1,380.2 699.8,380.3 699.7,382.5 699.7,383.7 699.7,383.5 700.2,383.6 700.1,385.0 700.3,384.1 699.8,382.6 700.4,383.8 700.5,383.3 700.5,382.4 700.8,381.2 700.5,379.4 700.2,378.5 700.2,378.7 700.4,378.4 701.0,377.0 701.1,377.8 700.4,376.5 700.5,374.4 700.6,374.1 700.4,373.0 701.2,374.5 701.4,371.8 700.6,373.1 701.0,371.1 701.3,370.9 701.0,369.3 700.8,370.1 701.7,367.6 701.1,368.2 701.4,367.5 701.2,368.1 701.5,368.2 701.2,369.3 702.0,369.2 701.8,371.6 701.9,371.1 702.4,372.9 702.5,372.3 702.1,373.4 702.5,374.5 702.3,374.9 702.8,375.1 702.1,375.3 702.3,375.8 702.6,377.5 703.2,378.3 703.0,378.7 702.8,378.8 703.2,380.0 702.8,381.5 703.3,382.9 703.0,382.1 703.4,382.8 702.8,383.6 703.0,383.7 703.5,384.6 703.4,385.2 703.0,387.1 703.7,387.6 703.6,386.9 703.5,389.3 703.9,389.3 703.8,388.9 703.3,391.4 703.3,390.5 703.7,392.3 703.9,392.5 704.1,394.1 704.4,393.3 703.7,393.6 703.9,394.2 704.5,396.1 704.1,395.4 704.6,396.6 704.4,397.2 704.0,397.7 704.3,398.7 704.4,400.5 704.1,399.7 704.4,401.1 704.4,401.7 704.1,401.7 704.7,403.7 704.7,404.4 704.6,403.9 705.0,405.5 704.6,405.5 704.6,408.0 704.6,408.2 704.8,408.1 704.4,407.7 704.6,406.1 704.7,405.8 705.1,405.2 705.3,403.8 705.4,403.9 705.3,403.1 704.9,403.7 705.3,402.6 705.2,401.9 705.7,401.3 705.7,399.6 705.1,400.3 705.7,399.6 705.3,397.7 705.9,396.5 705.2,395.7 705.3,395.7 705.5,395.1 705.2,394.1 705.7,392.7 705.7,394.2 705.8,392.5 706.0,393.0 706.2,391.1 705.5,389.3 706.1,390.6 705.9,388.1 706.4,388.4 706.2,386.7 706.4,387.1 706.6,387.3 706.0,386.4 706.3,384.6 706.4,385.0 706.6,382.4 706.7,381.9 706.3,380.9 706.7,381.3 706.4,379.8 707.0,380.0 707.5,379.4 707.8,378.8 707.9,378.5 707.5,376.1 707.4,377.4 708.0,375.4 707.7,375.7 708.6,374.0 708.8,374.0 708.2,372.4 708.8,373.7 708.4,371.2 708.9,371.2 708.6,369.8 708.7,369.7 708.7,369.7 708.8,368.0 709.0,367.1 708.7,366.2 708.7,367.0 708.8,365.9 709.6,365.5 709.1,364.3 709.3,363.5 708.9,362.4 709.1,361.8 709.3,360.9 709.5,361.2 709.6,359.8 709.6,360.4 709.6,359.8 709.9,358.3 709.3,356.6 709.8,356.7 709.5,355.3 709.4,356.7 709.7,355.9 710.1,353.7 709.5,354.6 709.5,353.2 710.2,352.1 709.7,352.7 710.2,351.9 710.1,349.4 709.4,348.2 710.3,348.9 710.3,349.2 709.7,348.6 709.8,345.8 709.8,347.3 710.5,344.9 710.0,345.4 710.4,344.9 710.0,342.5 710.1,342.5 710.3,343.0 710.6,342.2 710.3,340.6 711.2,340.2 711.2,340.2 711.0,339.2 711.4,338.0 711.4,337.5 711.5,337.7 712.0,337.5 711.6,336.1 711.9,335.9 711.7,334.3 711.9,334.5 712.5,331.8 712.0,331.6 712.6,332.6 712.6,331.2 712.7,330.8 713.1,332.8 713.1,332.5 713.2,333.1 713.9,334.1 714.0,335.1 713.7,335.1 714.3,337.2 714.7,336.0 714.5,337.5 714.4,335.8 714.5,335.9 715.1,336.6 715.1,333.9 715.0,333.3 715.1,333.7 715.4,332.0 715.3,333.3 715.8,331.8 715.6,330.4 716.2,329.0 716.2,330.8 716.3,327.8 715.9,329.0 716.2,327.4 716.8,327.4 716.5,326.8 717.3,325.6 717.0,325.0 717.0,324.8 717.6,324.2 717.7,323.8 717.9,321.7 717.7,321.0 717.2,320.6 718.1,319.9 717.6,320.8 718.4,319.7 717.8,319.3 717.7,316.5 717.7,316.7 718.0,317.4 718.3,316.7 718.5,314.8 718.4,313.3 718.6,315.0 719.2,314.3 718.9,312.5 718.6,311.7 719.5,310.3 718.8,309.7 719.0,310.5 719.7,310.4 719.2,309.0 720.0,307.0 719.5,308.4 720.3,305.4 719.8,306.2 719.9,305.0 720.0,303.4 720.5,303.9 721.0,301.9 720.8,302.5 720.8,302.0 721.1,302.9 721.0,305.6 721.5,305.4 721.6,304.8 721.9,307.5 721.4,307.8 721.8,306.7 722.3,309.0 722.0,308.0 722.5,308.6 722.6,310.0 722.7,311.9 722.3,311.1 722.6,311.1 723.0,313.8 723.0,313.5 723.3,314.9 723.7,314.2 723.0,316.4 723.5,317.0 723.1,317.4 723.2,316.4 723.2,317.6 723.6,319.1 724.2,319.2 723.9,320.0 724.0,319.1 723.9,318.0 723.6,317.3 724.4,318.0 724.5,316.4 724.3,315.1 724.2,316.5 724.6,314.3 724.7,313.8 724.5,313.0 724.7,313.5 725.3,311.3 724.9,310.4 725.5,309.5 725.1,308.5 725.2,309.0 724.8,307.5 725.4,307.7 725.3,305.9 725.4,306.0 725.3,305.9 725.8,305.0 725.5,304.4 726.1,302.4 726.0,303.3 726.4,302.8 726.4,302.1 725.9,301.8 726.5,300.3 726.8,298.4 726.8,298.6 726.5,299.0 726.2,297.6 726.1,295.7 727.1,295.5 726.7,294.6 727.3,294.9 727.3,293.6 726.9,292.9 727.1,293.4 727.2,292.4 727.0,292.7 726.8,290.0 727.5,291.4 727.8,288.9 727.9,288.7 727.6,288.6 727.6,287.5 727.8,289.2 728.2,288.4 728.3,289.0 728.1,289.3 728.2,290.3 728.6,291.9 728.1,293.4 727.9,293.5 728.5,292.2 728.4,293.2 729.0,293.8 728.8,295.6 728.3,297.3 728.9,297.1 728.9,297.5 728.7,295.9 728.9,295.0 728.9,295.5 729.2,295.5 729.0,293.4 729.5,294.0 729.4,292.1 729.3,291.9 729.6,292.4 729.6,290.5 730.2,289.5 729.6,290.8 730.6,288.5 730.0,288.2 730.1,288.4 730.8,287.5 730.5,287.2 731.1,284.8 730.8,285.0 731.1,283.5 731.5,284.4 731.1,283.6 731.2,281.2 731.5,280.5 731.6,281.9 731.9,279.7 731.7,279.7 732.2,280.0 732.0,278.1 732.4,277.2 732.6,276.9 732.4,277.2 732.8,277.4 732.7,278.9 733.4,279.5 732.9,279.0 733.1,280.5 732.8,281.5 733.4,281.8 733.6,283.2 733.0,282.3 733.5,284.5 733.6,284.1 733.5,286.1 733.6,286.2 733.5,287.2 733.9,287.5 733.9,286.9 734.3,289.7 734.6,290.7 734.4,290.2 734.0,291.5 734.2,291.2 734.0,292.6 734.6,293.8 734.2,293.0 734.7,293.5 735.0,296.3 734.8,295.2 734.8,297.2 734.7,297.6 735.0,299.0 735.3,299.1 735.1,300.3 735.1,300.0 735.3,301.1 735.1,300.3 735.5,301.3 736.0,301.9 736.0,302.9 735.4,304.1 735.6,305.9 736.0,304.2 735.8,304.9 736.1,306.7 736.0,307.7 736.3,308.7 736.6,307.9 736.8,308.0 736.3,308.6 737.2,310.6 737.1,312.5 736.5,312.9 737.0,312.5 736.6,313.7 737.5,313.5 737.6,315.2 737.3,314.6 737.1,314.7 737.5,316.6 737.3,317.2 737.2,317.3 737.9,317.6 737.9,318.2 738.3,319.1 738.4,321.6 738.5,320.6 738.3,320.7 738.2,322.5 738.9,323.6 738.2,322.8 738.4,324.0 739.4,325.8 739.0,326.4 738.9,326.4 739.5,325.8 740.2,327.9 740.4,328.5 740.1,328.8 740.3,327.1 740.2,328.4 740.3,327.0 740.3,325.6 739.9,324.5 740.1,323.5 740.0,324.6 741.0,323.7 740.9,321.7 740.9,321.5 741.0,320.4 740.5,320.5 740.5,319.1 741.0,319.8 741.3,318.7 740.7,317.6 741.0,317.2 741.4,316.4 741.5,315.5 741.0,313.6 740.9,314.1 740.7,313.3 740.8,312.2 741.6,313.2 740.9,311.6 741.3,309.5 741.4,310.0 741.2,309.4 741.4,308.9 741.2,308.3 741.8,306.5 741.8,307.8 742.2,306.3 741.9,306.0 741.9,305.2 741.9,304.2 742.3,303.6 742.3,302.4 742.1,302.5 742.3,301.2 742.3,300.2 742.6,301.1 742.2,299.8 742.6,298.8 742.7,299.8 743.0,299.8 742.4,300.4 743.0,301.8 743.5,302.5 743.3,302.4 743.5,302.5 743.7,304.1 743.3,305.2 743.5,306.7 743.2,304.9 743.7,306.0 743.4,308.7 743.8,307.5 743.9,308.8 743.8,308.7 743.8,309.1 744.7,311.3 744.2,310.4 744.9,313.1 744.1,313.7 744.7,314.6 744.7,313.9 744.4,314.9 744.7,316.4 744.8,317.0 745.0,317.5 745.5,318.5 745.5,317.7 745.3,318.0 745.2,318.8 745.8,320.0 745.7,321.5 745.4,321.3 746.0,321.1 746.3,321.9 746.4,322.5 746.6,323.5 745.9,323.8 746.1,324.4 746.3,327.2 746.5,326.4 746.9,326.2 746.3,329.0 746.7,327.8 746.6,330.0 747.0,330.0 747.5,330.4 747.3,331.3 746.8,331.5 746.9,332.1 747.4,332.3 747.0,334.7 746.7,335.9 747.3,335.8 746.9,335.3 747.6,338.0 746.8,338.3 747.0,337.0 747.4,337.7 747.7,340.4 747.2,339.2 747.4,341.5 747.0,342.0 747.1,341.9 747.2,341.8 747.6,343.0 748.0,345.3 747.8,344.9 747.7,345.1 747.6,346.2 747.7,347.0 747.7,347.4 748.3,349.5 748.3,349.8 747.9,348.4 747.9,350.2 748.6,351.5 748.8,352.2 748.3,351.0 748.6,352.4 749.1,354.5 748.8,354.9 749.1,354.9 748.9,356.6 749.4,356.3 749.7,355.9 749.6,357.6 749.2,357.1 749.5,358.8 749.6,360.4 749.3,361.2 750.1,360.0 749.8,361.5 749.6,361.2 749.6,364.1 750.2,364.8 749.9,364.3 749.5,364.8 750.1,367.0 749.6,366.8 749.7,368.3 749.9,368.3 750.4,367.7 750.2,369.0 750.0,369.6 749.9,371.1 750.9,371.4 750.4,372.0 750.2,373.3 750.8,372.3 750.5,373.0 750.9,373.5 751.1,374.3 751.1,375.3 750.9,377.4 751.3,378.5 750.6,378.8 750.9,378.0 751.0,380.7 750.6,380.8 751.2,382.0 751.2,381.0 751.6,381.3 751.5,382.5 751.4,383.8 751.0,382.2 751.8,381.5 752.0,380.8 752.0,379.9 751.8,380.4 751.8,380.8 751.5,380.3 751.9,379.1 751.6,378.9 752.2,376.9 751.7,377.2 752.1,376.8 752.5,375.5 752.4,373.3 752.6,374.1 751.9,371.7 751.9,371.4 752.7,372.2 752.6,370.5 752.9,369.2 752.3,369.3 752.4,369.4 753.0,368.7 752.6,367.6 752.6,366.8 752.9,365.1 753.3,366.2 753.2,363.6 752.8,364.6 753.4,363.6 753.6,362.4 752.9,361.9 753.2,361.2 753.1,360.3 753.7,359.4 753.8,359.5 753.2,358.6 754.1,358.3 754.2,357.6 754.4,355.3 753.9,355.1 754.4,354.7 754.4,354.9 753.8,354.1 754.2,352.5 754.5,352.5 754.7,352.2 754.3,351.7 754.1,349.3 755.0,350.9 755.0,350.4 754.9,348.6 754.7,347.8 755.1,348.2 754.6,345.6 754.7,345.4 755.0,346.1 754.9,343.2 754.8,342.6 754.8,343.7 755.0,342.1 754.5,342.7 755.2,340.8 754.4,340.6 754.8,339.2 754.8,338.2 754.6,338.5 755.0,337.2 755.2,336.7 754.6,335.4 755.1,335.8 755.2,335.3 754.9,334.7 755.1,332.7 754.7,332.9 755.5,333.1 755.1,331.2 755.6,332.7 755.5,331.8 755.3,334.1 755.4,333.7 755.8,333.1 755.5,334.2 756.3,336.4 755.7,335.4 756.7,336.0 756.4,337.5 756.7,338.4 756.9,339.5 756.1,340.3 756.8,339.1 757.1,340.4 756.7,341.7 756.8,342.5 756.4,344.0 756.9,342.7 756.9,343.6 756.9,345.7 757.3,345.0 756.8,347.7 757.2,346.4 757.3,347.3 756.8,349.0 756.9,348.4 757.5,351.2 756.9,351.3 757.1,350.2 757.0,350.8 757.8,353.8 757.1,352.6 757.2,353.9 757.5,354.1 758.0,354.5 757.9,355.3 758.0,356.0 757.6,358.9 757.7,358.2 758.2,360.3 758.1,358.7 758.3,360.9 758.2,360.8 758.5,360.7 758.2,362.5 758.3,361.9 758.8,361.9 758.1,360.2 758.6,359.5 758.1,360.4 758.5,357.5 758.3,356.5 759.1,356.1 758.8,357.6 759.0,356.0 758.6,355.5 759.2,353.6 758.7,353.5 759.1,354.0 759.1,351.7 759.3,350.8 758.7,349.7 759.3,350.5 759.2,349.8 759.0,348.2 759.4,348.0 759.4,348.7 759.4,347.6 759.5,346.2 759.2,346.9 759.3,346.8 759.6,348.0 759.7,350.1 760.0,349.1 759.9,349.9 760.8,351.1 761.0,351.9 760.9,352.1 761.3,352.9 760.7,352.9 761.5,353.2 761.4,355.0 761.2,354.7 761.8,353.6 761.8,352.8 761.9,351.2 761.8,352.9 762.0,350.6 762.2,351.6 762.1,349.5 762.6,350.0 762.1,348.9 762.3,347.4 762.9,346.7 763.1,346.4 763.1,344.8 762.8,343.9 763.3,345.5 763.0,343.7 763.6,342.9 763.2,342.5 763.3,340.9 764.2,342.0 764.0,341.2 764.6,340.4 764.1,339.8 765.1,338.7 764.9,338.5 764.9,336.8 765.7,338.2 765.8,336.2 765.4,336.0 765.9,333.7 765.7,333.7 766.3,332.6 766.0,333.2 766.5,333.5 766.7,330.8 766.5,331.2 766.6,330.5 766.5,328.9 766.8,329.9 766.9,328.7 767.3,326.9 767.0,327.8 767.0,326.2 767.3,324.3 767.4,325.8 767.3,324.1 768.2,323.6 768.0,323.4 768.5,322.4 768.7,322.4 768.4,321.5 768.5,319.5 768.9,320.0 769.0,318.2 768.9,319.6 769.7,317.2 769.0,317.0 769.5,315.7 769.9,315.1 769.8,314.7 770.0,313.7 770.0,314.9 769.6,312.5 769.8,313.5 770.5,311.3 770.9,310.5 770.6,311.3 770.8,310.0 771.0,308.2 770.5,307.8 771.6,309.0 771.1,306.1 771.5,305.8 771.9,307.0 771.9,305.9 772.0,305.4 771.8,304.4 772.0,303.1 771.7,304.3 772.3,305.6 772.8,304.9 772.9,305.8 773.0,305.0 772.7,306.2 773.4,308.6 773.5,308.8 773.7,307.8 773.5,309.6 773.9,310.0 774.2,310.5 774.3,310.9 774.0,311.1 774.2,312.9 774.0,314.4 774.0,314.6 774.5,315.8 774.5,314.1 775.1,315.6 775.3,317.1 775.0,317.7 775.4,317.5 775.0,319.0 775.5,318.1 775.2,319.7 775.2,320.7 775.8,321.2 775.8,321.3 776.4,323.1 775.9,323.4 777.0,324.0 777.2,323.7 776.6,324.6 776.8,324.7 777.0,326.3 777.7,327.6 777.6,327.5 777.3,328.9 778.1,328.2 777.6,330.5 777.8,329.6 778.2,331.6 778.9,332.6 779.0,333.1 778.8,331.7 778.7,332.6 778.7,333.3 779.0,333.7 779.2,336.5 779.5,336.2 779.3,337.0 779.9,336.4 779.8,338.4 779.1,340.0 779.9,338.7 780.1,340.6 779.8,340.4 779.3,342.3 779.8,342.5 780.1,341.0 779.6,341.4 780.0,340.2 780.8,340.2 780.2,339.9 780.9,338.9 781.3,338.1 781.2,336.3 781.0,336.4 781.4,336.2 781.5,336.9 781.5,338.0 781.6,337.5 782.4,337.5 782.4,340.2 783.0,339.7 782.7,341.3 783.2,341.2 783.9,339.5 783.6,340.1 784.1,338.6 784.5,339.0 784.7,339.3 784.8,337.9 784.7,336.3 785.1,336.2 785.2,336.4 785.6,334.4 786.1,334.4 786.4,334.1 786.3,332.7 786.7,332.4 786.6,331.6 786.6,330.4 786.7,330.4 787.0,330.0 787.4,328.4 787.0,329.0 787.5,329.0 787.2,327.2 788.2,327.3 787.9,326.0 788.1,324.0 787.9,324.0 788.9,323.2 788.5,323.5 789.0,323.1 788.8,321.6 788.7,322.1 789.2,320.1 789.5,320.0 789.3,319.3 789.4,318.2 789.5,317.2 790.0,316.9 789.7,317.6 789.8,315.8 790.2,314.2 790.3,314.5 790.8,313.4 790.6,314.4 791.0,312.5 790.7,312.7 791.6,310.7 791.6,310.3 791.4,310.0 791.4,308.1 791.3,307.9 791.3,308.8 792.1,306.8 792.0,306.0 791.9,305.0 792.3,305.2 792.0,305.2 792.0,303.7 792.3,303.0 792.2,301.8 791.9,300.9 792.7,301.2 791.9,299.5 792.5,299.6 793.0,299.9 792.1,299.0 792.6,297.5 793.1,297.5 793.2,295.8 792.9,295.9 793.1,295.3 793.2,293.6 793.2,293.6 793.4,292.2 793.1,292.9 793.3,291.8 792.7,289.7 792.9,290.3 792.7,289.7 792.8,287.8 793.0,288.0 793.5,288.3 793.0,285.4 793.7,286.0 793.8,285.7 793.0,284.1 793.2,283.6 793.3,284.0 793.9,281.6 794.1,282.9 793.5,282.0 794.1,280.9 793.6,280.0 794.0,278.5 793.8,277.2 793.5,278.3 793.9,276.9 793.8,278.1 794.0,278.8 793.9,277.8 794.4,278.9 794.0,280.1 794.3,281.9 794.6,281.4 794.4,282.4 794.2,282.3 794.8,284.7 794.8,283.4 795.3,285.6 794.6,285.2 794.5,286.9 794.8,287.7 795.1,287.5 795.7,288.8 795.8,288.1 795.6,289.6 795.9,290.0 797.0,289.7 797.0,291.2 797.2,290.7 797.3,289.2 798.0,288.5 798.2,288.8 798.0,288.7 798.9,291.2 798.2,291.0 798.7,290.3 798.6,292.6 798.5,294.1 798.9,293.2 799.7,293.3 799.0,294.9 799.3,295.2 799.7,297.5 799.7,295.8 799.7,298.6 799.9,297.2 799.9,298.4 800.1,299.3 800.5,301.0 800.0,300.2 800.9,302.8 800.8,302.5 801.3,301.0 801.4,300.1 801.6,299.9 802.0,300.9 801.9,300.0 802.6,299.8 802.5,298.4 802.6,297.5 802.7,297.4 802.7,296.1 802.9,294.6 803.7,294.8 803.5,295.5 803.8,293.9 804.3,292.3 804.5,292.5 805.6,292.9 806.1,291.4 806.8,292.6 807.0,291.2 807.8,289.9 807.4,289.2 807.7,290.3 808.1,289.2 808.9,288.8 808.9,288.7 808.8,288.1 810.0,286.3 809.6,286.9 809.7,286.5 810.6,284.3 810.3,283.5 810.6,283.5 810.8,283.1 811.4,284.4 811.6,285.3 811.5,284.9 811.5,284.8 811.4,287.6 812.2,286.3 811.8,287.6 812.1,288.8 811.9,290.2 812.3,290.6 812.7,291.8 812.6,291.2 812.9,290.9 813.4,289.3 812.9,290.2 813.8,289.4 814.1,287.3 814.4,287.9 814.7,287.0 814.5,286.2 815.1,285.7 814.6,287.6 815.3,287.8 814.9,289.8 815.1,290.4 815.5,290.5 816.1,289.9 816.0,290.6 816.4,291.3 816.6,291.9 816.4,293.6 817.0,293.8 816.9,295.6 817.1,294.5 817.5,296.8 817.3,297.0 817.4,298.3 817.5,296.5 817.3,298.5 818.0,298.5 817.9,299.5 818.0,299.6 818.3,301.5 817.9,302.7 818.2,302.3 818.3,303.5 818.6,303.9 818.7,304.4 818.9,305.0 818.6,306.9 819.1,305.9 819.6,306.5 819.7,307.5 819.1,308.5 819.4,308.2 820.2,310.8 819.8,311.1 820.2,310.5 819.8,311.9 819.9,313.0 820.5,312.3 820.8,314.9 820.6,315.6 820.8,315.0 820.9,314.4 821.2,315.9 821.9,316.9 822.1,316.6 821.8,316.9 821.7,319.3 821.9,318.7 822.6,320.0 822.7,321.7 822.7,320.0 823.3,322.4 822.9,323.6 823.8,324.3 823.9,323.9 823.9,323.4 824.0,324.6 823.9,325.1 823.8,327.1 824.6,325.6 824.5,327.5 824.6,327.0 824.7,328.0 825.2,329.1 824.8,329.7 825.3,329.7 824.7,331.0 825.2,332.0 825.4,332.6 825.1,333.8 824.8,334.3 824.8,334.2 825.3,336.0 825.0,335.7 825.3,337.1 825.3,338.4 825.0,337.3 825.0,340.1 825.6,339.1 825.3,340.2 825.9,341.2 825.8,341.0 825.1,342.1 825.8,343.3 826.0,345.0 825.8,346.2 826.2,346.6 825.3,346.0 825.4,347.2 825.8,346.6 825.4,348.2 826.0,348.8 825.9,350.1 826.2,351.0 825.9,350.3 826.4,350.6 825.8,351.7 826.2,353.5 825.7,353.9 826.2,355.1 825.8,355.9 826.0,355.7 825.9,357.6 826.4,358.2 826.4,357.0 826.4,358.8 826.4,357.0 826.1,358.2 826.1,356.4 826.2,356.7 827.3,354.1 826.7,355.9 826.7,353.5 827.5,354.4 827.0,353.1 827.5,351.6 826.7,351.0 827.5,351.8 827.3,349.7 827.3,349.5 827.1,349.7 828.1,346.7 827.2,346.8 827.4,347.3 828.2,346.0 828.4,344.5 827.7,344.2 828.0,343.1 828.6,343.8 828.2,342.5 828.1,341.1 828.2,340.8 828.6,341.1 829.0,338.6 828.3,338.7 829.1,338.2 829.0,338.5 828.8,336.6 829.2,336.6 829.4,335.0 829.5,334.8 829.5,334.5 829.2,334.4 828.8,332.2 829.3,332.9 829.0,332.1 829.0,330.3 829.5,330.0 829.6,329.9 829.8,329.7 830.2,327.8 830.1,327.2 830.7,326.4 830.1,325.6 830.3,326.4 830.9,324.3 830.8,325.4 831.5,323.0 831.7,322.0 831.4,322.5 832.0,321.4 832.0,320.0 831.9,321.7 832.1,320.2 831.6,318.7 832.0,318.8 832.5,320.4 831.9,319.7 832.3,320.2 832.0,322.4 832.0,322.4 832.3,322.6 832.9,324.0 832.9,322.8 833.0,325.5 832.2,324.7 833.0,327.0 832.9,327.7 832.5,326.7 833.3,328.8 832.8,328.9 833.1,330.0 833.2,330.0 833.3,330.2 833.7,331.9 833.4,332.6 833.4,332.7 833.5,333.0 833.8,333.0 833.8,334.4 833.9,335.5 834.6,337.1 834.1,335.9 834.0,338.5 834.8,338.8 835.1,338.6 834.4,338.5 834.8,341.0 834.5,340.8 834.7,340.9 835.2,342.7 835.7,342.5 835.1,342.6 835.5,344.4 835.3,342.5 835.1,342.0 835.7,342.2 836.2,341.6 835.4,340.1 836.1,341.5 836.2,338.9 835.8,338.8 836.0,337.7 835.8,336.3 836.6,338.1 836.7,335.9 836.5,334.8 836.0,333.6 836.3,334.9 836.5,332.8 836.5,332.9 836.3,332.0 837.1,331.3 837.2,331.4 836.4,331.2 837.1,329.3 836.6,329.1 836.7,328.0 836.7,327.1 837.6,326.9 837.2,326.3 837.4,325.6 837.1,323.9 837.5,325.1 837.8,323.3 837.3,322.8 837.1,321.9 837.6,321.2 838.1,323.1 837.5,321.7 838.1,323.4 838.7,322.7 838.0,324.3 838.9,323.8 838.6,326.2 838.8,325.4 838.6,327.6 839.2,327.6 839.5,328.8 839.5,328.8 839.7,329.0 840.4,328.9 840.5,330.5 840.5,330.6 841.2,331.4 840.8,331.4 841.6,334.0 841.1,332.8 841.5,333.1 842.0,335.0 842.2,335.3 842.6,333.8 843.0,332.6 842.6,331.9 843.0,331.8 842.7,331.2 843.8,331.6 843.6,330.9 843.7,329.4 843.9,328.8 844.3,328.6 844.4,330.0 844.3,330.6 844.4,331.6 844.5,331.7 845.1,332.5 844.9,333.2 845.2,334.6 845.3,335.2 845.9,336.2 846.1,334.7 846.7,335.6 847.1,336.8 847.0,337.5 846.9,337.1 847.0,335.6 847.0,334.8 847.2,333.9 847.5,334.0 847.8,333.6 848.1,333.1 848.0,333.1 847.8,330.9 847.8,331.9 848.8,329.9 848.8,329.7 849.1,329.9 848.6,327.6 848.9,327.5 848.9,328.0 849.1,325.8 848.8,325.2 849.8,324.6 849.8,325.2 850.1,324.1 849.7,322.3 850.3,323.0 850.2,320.3 850.3,321.3 849.9,319.7 850.3,318.9 850.1,317.9 850.6,316.9 850.8,317.5 851.1,318.0 850.7,318.2 850.8,319.8 851.3,320.0 851.3,321.1 851.5,322.1 851.5,321.0 851.2,321.9 851.7,322.7 851.9,323.8 851.2,325.4 851.3,325.2 851.6,326.6 851.8,327.3 852.1,328.8 852.0,328.1 852.0,328.5 852.4,329.7 852.3,331.1 852.4,332.0 852.2,332.1 852.7,332.3 852.7,332.4 852.1,334.6 852.6,335.5 852.6,335.0 852.9,333.7 852.6,334.8 852.8,332.3 853.3,333.1 853.5,330.7 853.8,331.7 853.5,331.7 853.9,330.7 853.6,328.9 854.4,329.2 854.5,328.6 854.5,327.5 854.1,329.1 854.2,328.2 854.6,329.5 854.5,330.0 854.6,330.4 854.9,330.5 855.5,331.0 855.0,333.9 855.3,334.7 855.3,334.3 855.6,334.7 856.1,335.3 855.8,336.2 856.1,335.6 855.7,335.8 856.4,333.0 856.1,334.3 856.1,332.7 856.4,331.4 856.2,330.8 856.7,331.7 856.3,331.0 856.5,330.0 856.3,329.7 856.8,329.6 856.5,327.4 857.1,326.4 857.1,327.2 856.6,326.3 857.0,325.0 856.9,325.1 857.1,327.1 857.5,326.7 857.7,328.5 857.3,329.3 857.8,329.4 858.2,328.9 858.0,330.9 857.6,330.7 858.3,331.5 858.4,333.2 858.1,333.6 858.4,332.6 858.7,333.4 858.9,335.0 859.3,334.6 859.7,334.9 860.6,335.5 860.5,336.9 861.1,336.1 861.4,337.5 861.8,336.5 861.2,336.0 861.9,335.1 862.1,334.3 862.3,335.3 862.4,332.4 862.2,332.9 862.3,331.3 862.6,330.5 862.3,330.6 863.2,329.9 863.3,329.9 863.1,329.9 863.2,328.8 863.2,327.5 863.5,328.9 864.3,327.5 864.6,328.2 864.6,328.9 865.1,330.5 865.1,331.2 865.1,331.5 865.5,331.0 865.9,329.5 866.3,329.4 866.5,328.2 867.0,327.5 867.1,326.6 867.4,325.9 867.9,326.5 868.1,324.6 868.9,325.0 869.5,324.7 868.8,324.7 869.6,323.4 870.0,322.6 869.3,320.6 869.4,321.2 870.0,321.5 869.7,318.9 869.9,319.0 870.9,319.5 870.1,318.4 870.8,317.5 870.7,317.4 871.0,318.1 871.2,318.7 871.5,320.2 872.0,321.2 871.9,320.0 872.5,321.4 872.6,322.5 872.6,321.6 873.5,321.5 873.5,319.4 873.6,320.5 874.2,320.1 873.6,320.0 873.8,318.8 874.5,317.5 874.5,319.3 875.1,319.5 874.3,319.9 874.4,320.1 874.5,320.4 874.5,321.7 874.6,321.6 875.4,322.5 875.3,324.6 875.4,325.2 875.8,324.4 875.1,327.0 875.9,326.0 876.0,326.0 875.4,328.8 875.3,329.4 875.5,329.9 875.5,329.9 876.0,330.7 876.0,331.2 876.7,330.5 876.9,333.2 877.0,332.1 877.6,333.1 877.6,333.8 877.6,335.1 878.3,335.8 878.2,334.4 877.9,336.4 878.1,337.2 878.4,338.2 878.5,338.6 878.8,340.0 879.3,339.4 879.5,340.0 879.9,340.1 880.2,340.8 879.3,341.5 879.7,343.0 879.5,344.5 880.3,344.8 880.6,343.6 880.4,346.4 880.0,346.0 880.1,348.0 880.5,348.4 880.4,348.5 881.0,348.5 880.6,348.5 881.0,350.1 880.7,350.5 880.9,350.7 881.3,351.5 881.0,352.7 881.4,353.8 882.0,355.0 881.4,356.0 882.2,355.3 882.2,356.8 882.2,358.2 882.4,358.2 882.8,358.3 882.1,357.9 882.9,359.7 883.2,361.7 882.7,360.4 883.2,360.6 883.2,362.5 883.2,360.8 883.7,361.3 883.9,361.3 884.8,361.2 884.9,360.4 885.4,359.8 885.3,358.9 885.8,358.1 886.2,358.1 885.9,358.2 886.3,359.2 886.3,360.0 886.1,362.5 886.5,363.4 887.1,363.1 887.0,363.9 887.5,363.4 887.4,364.3 887.2,364.8 887.6,366.2 888.0,368.0 887.7,366.8 887.6,367.8 887.9,369.9 888.1,369.6 888.3,369.4 888.2,370.8 888.0,371.1 888.6,372.6 888.4,371.9 888.8,372.8 888.3,375.5 888.9,375.0 889.2,376.8 888.9,377.0 889.6,377.3 888.8,377.1 889.3,378.1 889.6,378.2 889.4,378.4 889.7,379.3 889.6,379.7 890.3,380.9 890.1,382.5 889.7,383.1 890.6,382.9 890.6,384.8 890.6,384.6 890.7,386.0 890.8,386.2 890.8,387.5 891.2,388.2 891.1,387.2 890.9,388.2 891.4,388.2 891.3,389.1 891.7,389.8 892.1,390.1 891.7,392.5 892.0,392.5 892.5,392.9 892.7,394.8 892.4,394.1 892.2,395.7 892.2,396.2 892.5,395.7 893.0,396.9 892.6,396.9 893.4,398.2 893.5,399.5 892.9,399.4 893.6,399.8 893.3,402.5 893.6,402.2 893.9,402.5 893.9,403.1 893.8,399.9 894.3,401.0 894.6,398.8 894.0,399.1 894.2,397.5 894.2,396.6 894.6,396.2 894.3,395.4 895.0,396.1 894.8,395.9 894.6,394.2 895.1,393.8 895.7,392.0 895.1,392.4 895.4,390.8 896.1,392.0 896.0,390.4 896.1,390.0 896.3,388.9 896.7,388.8 896.3,388.3 897.0,387.5 896.7,387.0 897.0,386.2 897.3,384.8 897.7,384.7 897.4,384.3 897.8,382.7 897.4,382.9 897.4,382.0 897.6,380.8 898.0,381.9 898.4,379.6 898.6,379.5 898.1,378.7 898.9,379.0 898.9,377.5 899.4,375.6 899.1,375.8 899.1,376.3 899.2,374.9 899.6,375.1 899.5,373.5 899.1,372.5 899.3,372.8 899.9,370.5 899.9,371.7 900.3,369.8 899.9,369.5 900.1,368.8 900.1,370.7 900.6,371.2 900.8,369.8 900.8,371.2 900.1,372.5 900.3,372.2 900.9,372.8 900.1,374.0 900.9,375.8 900.5,375.4 900.3,377.2 900.9,376.3 900.9,378.8 900.6,377.8 901.1,379.5 900.8,378.6 900.7,381.1 900.6,381.2 901.3,381.5 900.7,383.1 901.3,383.6 901.6,383.7 901.2,384.6 901.6,385.0 901.0,385.8 901.7,387.4 901.4,387.5 901.1,387.7 902.0,385.7 901.9,386.0 901.8,384.1 901.3,385.1 901.7,384.3 902.3,383.8 902.3,382.8 902.4,382.6 902.6,381.8 902.1,381.3 902.0,378.7 902.8,379.0 903.0,377.7 902.6,377.5 902.4,376.0 903.4,377.1 903.1,376.0 902.9,376.1 903.3,373.6 903.7,373.7 903.9,373.7 903.8,373.3 904.1,371.6 904.5,371.2 905.0,371.2 904.9,370.6 904.7,368.8 904.9,369.4 904.6,368.3 905.0,368.3 905.4,367.5 905.2,365.6 905.1,364.3 905.3,363.6 905.7,363.9 905.9,363.7 906.2,362.4 905.9,361.7 905.9,360.5 905.8,359.8 906.1,359.4 906.2,359.3 906.8,358.4 906.4,357.5 907.0,357.7 906.8,359.1 906.8,359.4 906.7,361.4 906.7,361.7 907.2,361.1 907.2,363.4 907.4,363.1 907.6,364.0 907.9,364.3 907.6,363.7 908.3,364.3 908.2,366.2 908.4,366.3 908.8,367.0 908.3,367.2 908.8,369.1 909.3,370.2 909.7,370.1 909.0,371.1 909.5,371.5 909.5,371.6 909.7,373.0 910.1,373.1 910.8,372.2 910.5,372.2 911.0,370.9 910.7,371.0 911.0,370.0 911.5,369.5 912.1,368.4 911.5,367.9 912.0,367.5 912.5,367.7 911.8,365.3 912.1,366.2 912.6,363.9 912.9,365.0 913.0,363.0 913.1,362.1 913.3,361.1 912.9,360.9 913.5,361.4 913.2,360.0 913.5,360.7 913.5,361.5 913.4,362.5 914.5,362.4 914.3,363.3 914.4,364.9 914.4,364.3 915.1,365.6 914.9,364.6 915.5,365.3 915.9,365.6 915.8,367.5 916.2,369.0 915.9,369.9 916.3,370.0 915.9,369.2 915.8,369.9 916.5,372.1 916.9,372.0 916.4,373.9 916.9,374.9 916.2,375.6 916.7,375.8 916.6,375.9 917.2,377.0 917.3,376.1 917.6,376.7 917.6,378.7 917.5,378.5 917.7,380.6 917.3,381.7 917.6,381.2 917.6,382.9 917.5,382.3 917.6,382.1 917.6,383.1 918.1,384.6 917.8,386.5 918.4,386.1 918.1,386.5 918.9,387.2 918.6,389.2 918.6,389.7 918.3,390.0 918.5,389.6 918.5,391.9 919.4,392.3 919.1,391.2 919.2,394.0 919.5,392.3 919.9,395.5 919.5,395.0 919.7,394.4 919.8,396.7 919.2,396.9 919.3,396.6 920.0,399.1 919.7,398.2 919.7,399.1 920.1,399.9 920.5,399.9 919.9,402.2 920.1,401.5 920.1,402.7 920.6,403.3 920.5,405.1 920.4,404.1 920.5,405.0 920.3,407.8 920.3,408.6 920.3,406.8 920.8,408.8 920.4,409.0 921.3,406.8 920.8,406.4 921.2,405.6 921.1,405.8 921.0,403.8 921.4,404.5 920.8,403.3 921.8,403.0 921.7,403.4 921.3,401.2 921.3,401.8 921.8,401.1 921.9,399.1 922.1,398.2 921.9,398.5 922.0,397.5 922.3,397.5 922.4,399.0 922.3,398.5 922.3,399.2 922.5,401.7 922.3,401.4 922.6,402.4 923.1,403.8 922.8,403.2 922.3,404.7 922.5,405.5 923.0,406.6 922.5,406.3 922.8,406.6 922.8,408.5 923.1,408.5 922.8,409.2 923.4,408.7 923.2,409.8 923.5,410.0 924.0,411.5 924.0,411.2 923.9,414.1 923.7,413.5 923.9,414.0 923.6,416.2 924.1,415.8 924.0,417.3 924.3,416.6 924.0,417.6 923.8,418.3 923.9,419.6 924.2,419.4 924.1,419.9 924.5,421.2 924.3,421.6 924.6,420.0 924.5,420.4 924.8,417.7 924.9,416.6 925.3,417.8 924.6,416.3 925.3,416.5 925.3,415.4 924.7,414.9 925.2,412.9 924.7,413.2 925.6,412.0 925.4,410.7 925.7,412.1 925.1,411.0 925.6,409.6 925.8,407.9 925.3,407.4 925.9,408.3 925.3,407.4 925.7,406.5 925.6,405.8 925.8,405.0 926.0,403.9 925.9,402.9 926.3,404.0 926.1,402.7 926.4,401.0 926.3,400.0 927.1,399.7 926.8,400.0 926.9,399.6 927.3,398.0 927.6,398.5 927.6,397.5 928.2,397.7 928.1,399.2 928.0,398.3 927.8,400.0 927.7,399.8 928.5,400.5 928.4,401.5 928.4,402.6 928.3,403.4 928.4,405.4 928.6,403.9 929.0,404.7 928.9,406.2 929.3,406.3 929.6,405.0 929.6,405.0 929.8,403.9 930.0,403.6 929.6,401.9 930.2,402.7 929.9,402.1 930.5,400.8 930.2,399.0 930.3,399.5 930.6,397.6 930.4,398.5 930.6,396.1 931.1,395.2 931.1,394.9 931.4,395.0 931.9,395.8 931.7,396.2 931.4,397.8 932.4,396.2 932.2,398.9 932.7,399.9 932.9,400.4 932.3,401.3 933.3,401.0 933.3,400.6 933.0,400.9 933.2,402.5 933.3,404.4 933.5,403.7 933.2,403.8 933.3,404.6 933.4,406.0 933.4,406.7 933.5,407.2 933.6,408.7 934.0,408.7 933.9,408.7 933.4,409.4 933.4,411.2 934.2,411.5 933.6,410.9 933.9,412.5 934.3,412.0 933.8,412.4 934.6,411.7 934.9,410.5 935.0,410.3 934.4,408.1 934.9,408.1 934.7,406.5 935.4,407.7 935.3,406.9 935.8,406.1 935.3,404.1 935.8,403.8 936.0,405.2 936.2,404.1 936.1,404.6 935.8,405.3 936.1,406.2 936.3,407.6 936.5,408.1 936.7,408.3 935.9,409.9 936.4,411.5 936.0,410.5 936.2,411.8 936.9,413.1 936.4,413.1 937.0,414.2 936.4,414.4 936.3,415.3 936.6,415.6 936.8,417.8 937.0,417.5 936.6,417.1 936.7,418.7 937.1,420.7 937.5,419.6 936.9,421.0 937.7,420.9 937.7,421.9 937.9,424.1 937.2,424.4 937.7,424.0 937.6,426.1 937.7,425.8 937.7,425.1 938.1,426.0 938.3,426.4 938.0,427.8 938.2,429.4 938.3,430.6 938.6,429.5 937.9,431.1 938.6,431.5 938.2,432.5 938.1,433.2 938.3,432.7 938.9,434.4 939.0,434.1 938.6,434.8 939.2,436.3 939.1,436.0 939.0,437.5 939.4,437.8 939.8,438.7 939.4,439.7 939.3,439.3 939.1,442.2 940.2,442.0 939.4,441.6 939.7,441.8 939.9,443.1 940.1,444.4 940.0,444.6 940.3,444.3 940.1,441.2 940.7,442.2 940.8,440.6 940.8,439.2 940.8,440.0 940.7,439.1 940.7,438.0 940.8,437.7 941.2,436.3 941.0,435.8 940.7,435.9 940.6,435.7 940.7,433.1 941.4,433.1 941.1,432.6 941.8,432.3 941.3,432.4 941.2,429.5 941.8,430.6 941.9,428.9 941.8,427.7 941.5,428.9 942.2,428.2 941.9,426.9 941.8,425.4 942.0,425.0 942.5,424.9 942.6,422.7 942.1,424.0 942.7,423.1 942.7,420.9 942.6,419.8 942.4,418.9 942.5,418.7 942.5,419.2 942.8,419.1 943.1,416.9 942.6,416.5 942.6,416.9 943.2,415.8 943.1,414.1 942.8,414.6 942.7,414.6 942.8,411.8 943.5,413.0 942.9,412.3 943.4,409.5 943.5,409.1 943.6,409.5 943.9,409.5 944.0,408.2 943.9,408.0 944.1,406.4 944.3,406.9 943.9,405.0 943.7,403.6 944.2,403.8 944.1,403.0 944.0,402.2 944.5,402.4 944.7,400.0 944.3,400.4 944.9,399.2 945.0,398.4 944.7,399.3 944.7,398.6 945.1,395.9 945.1,396.6 944.9,395.5 945.3,395.1 945.9,394.2 945.9,393.3 945.9,392.3 945.8,392.5 946.0,393.8 946.5,392.6 946.6,393.5 947.0,394.5 947.0,394.8 947.4,396.3 946.8,398.0 947.5,398.1 947.4,397.4 947.6,398.8 947.8,399.0 948.0,397.9 947.4,396.6 947.8,396.1 948.2,395.6 947.6,394.2 948.0,393.8 948.1,392.5 948.1,392.6 948.9,391.2 949.0,391.7 949.0,391.6 949.0,391.0 948.5,389.5 948.8,387.7 948.8,388.2 948.7,386.1 949.5,387.3 948.8,385.0 948.8,385.2 949.9,383.5 949.5,383.8 949.7,384.3 949.9,385.3 950.0,384.7 950.3,387.1 949.5,385.8 950.3,388.4 949.9,389.5 950.2,389.1 949.7,389.7 950.1,390.2 950.2,391.9 950.3,390.6 950.2,393.2 950.5,392.6 951.0,394.9 950.6,393.4 950.8,395.0 950.9,394.5 951.9,396.5 951.7,396.9 952.6,398.3 952.6,397.5 952.4,398.1 953.1,398.7 953.1,399.4 953.1,400.3 953.3,400.3 953.4,402.2 953.3,402.1 953.5,403.9 953.5,403.1 954.6,404.7 954.0,405.4 954.4,404.4 954.1,404.9 954.5,406.5 955.3,408.4 955.0,408.5 955.1,408.8 955.3,410.2 955.1,410.5 955.0,410.1 955.1,411.2 955.2,412.4 955.0,412.3 955.6,414.2 955.8,414.0 955.7,413.6 956.0,415.9 955.9,415.1 955.6,416.3 956.1,418.2 955.5,419.4 955.6,417.9 956.0,419.4 956.4,419.0 956.4,421.4 955.9,420.6 956.3,421.0 955.9,421.8 956.0,424.8 956.6,424.4 956.4,425.2 956.6,426.4 956.4,426.2 956.9,426.7 956.4,426.1 956.5,423.3 957.0,422.4 957.3,424.2 957.3,421.6 957.2,420.5 957.2,421.8 957.1,419.4 957.3,419.2 957.4,418.5 957.3,418.7 957.8,417.9 957.7,418.0 958.3,416.5 958.0,416.6 958.2,415.0 958.3,414.1 958.5,412.5 958.5,411.9 959.1,413.1 958.4,410.9 959.0,411.1 958.8,410.0 958.7,409.4 958.7,407.8 958.9,407.0 959.0,406.8 959.3,407.2 959.5,406.2 960.1,407.4 960.1,407.7 960.2,408.5 959.6,408.4 959.9,409.9 960.3,409.8 960.2,411.8 960.5,410.3 960.8,411.4 960.8,413.0 961.1,411.9 961.4,413.8 962.1,412.1 962.2,413.8 962.1,412.6 961.8,410.5 962.8,411.1 962.4,409.4 962.6,410.1 963.2,408.8 963.8,408.9 964.1,409.8 964.1,410.3 964.3,411.3 965.1,411.2 965.7,409.8 965.4,410.2 965.8,410.1 965.6,409.4 965.8,408.8 966.1,407.7 966.6,406.0 966.4,406.2 966.5,405.2 966.2,405.6 966.4,403.4 966.5,404.3 967.2,402.5 967.1,401.9 967.2,400.4 967.2,402.1 967.3,400.8 967.7,399.5 967.9,399.4 968.0,399.0 967.8,396.9 968.1,397.7 968.2,396.2 968.4,394.3 968.5,396.0 968.4,394.6 968.7,393.9 969.3,392.7 968.9,392.4 969.8,390.6 969.3,390.5 969.6,391.4 969.9,390.2 969.7,389.5 970.1,388.8 970.5,387.7 970.0,388.7 970.6,388.1 970.9,385.8 970.6,386.8 971.3,385.2 970.7,383.9 971.3,382.7 971.5,383.0 971.4,382.6 972.3,382.8 972.0,381.2 972.4,380.1 971.9,379.9 972.7,378.5 971.9,379.5 971.9,377.9 973.0,377.4 972.1,376.1 972.9,376.4 972.3,375.2 972.8,373.7 972.5,373.4 972.9,374.4 972.9,373.6 972.7,371.8 973.2,371.2 972.9,369.4 973.1,370.4 973.5,368.7 973.6,369.1 973.8,368.4 973.1,368.0 974.0,367.6 973.7,365.0 973.9,365.3 973.8,365.7 973.4,362.7 974.1,364.3 973.3,362.5 974.1,362.3 973.8,362.6 973.4,360.3 973.9,360.0 973.7,360.6 974.3,358.1 974.7,359.2 974.5,358.7 974.4,357.4 975.3,355.5 975.2,356.5 975.5,354.4 975.2,353.4 975.4,354.7 975.4,354.1 975.8,352.5 975.9,352.9 976.7,354.3 977.3,353.6 977.1,355.2 977.6,355.0 978.2,355.1 978.0,354.7 978.8,353.4 978.7,353.1 978.8,352.5 979.5,351.2 979.6,351.3 979.9,349.5 979.9,349.2 979.8,347.9 980.5,347.1 981.0,347.3 980.6,345.7 980.7,345.6 980.7,344.7 981.7,345.7 981.9,345.1 981.8,344.4 982.0,342.3 982.0,341.9 981.8,342.9 982.8,344.3 983.0,343.6 982.9,345.7 983.1,345.9 983.4,345.8 983.6,345.9 983.7,346.7 983.2,348.4 984.0,348.5 983.9,348.8 984.2,347.6 985.0,348.2 985.2,348.1 984.9,347.5 985.8,346.2 986.4,345.9 985.9,348.4 986.4,348.2 987.4,348.0 987.3,348.2 988.0,350.9 987.9,351.4 988.2,351.2 988.1,352.7 988.9,353.1 988.3,352.6 989.2,354.6 989.2,354.9 989.3,355.2 989.3,354.8 990.1,356.4 989.8,356.3 990.1,357.5 990.3,358.2 990.4,358.6 990.9,359.1 991.2,358.8 992.1,360.1 992.0,361.2 992.4,363.0 992.3,362.1 992.7,364.3 992.8,364.1 992.5,363.9 993.1,365.4 993.2,366.2 993.8,365.6 993.7,365.8 993.9,367.5 993.9,368.3 994.5,368.0 994.6,369.8 994.8,368.9 994.7,369.7 995.1,371.7 994.7,373.1 995.5,372.2 995.0,373.8 995.3,374.7 995.4,375.3 995.8,375.0 995.8,375.9 996.0,376.6 996.0,376.5 996.5,377.7 997.2,378.1 997.6,377.9 997.6,379.1 997.6,380.0 997.4,380.2 997.7,381.3 997.9,382.8 998.3,382.4 998.4,383.6 997.7,384.9 998.7,385.1 998.4,386.4 999.0,386.3 998.1,386.8 998.4,387.3 998.9,387.4 998.9,388.8 998.6,388.1 999.3,387.5 999.5,388.0 999.8,385.6 999.4,385.5 999.3,385.8 999.9,385.2 999.7,383.3 999.9,381.6 999.8,382.3 1000.1,381.2 1000.8,379.5 1000.4,380.0 1000.7,378.8 1000.7,378.3 1000.9,377.6 1001.1,378.5 1001.9,376.9 1002.0,376.2 1002.0,376.1 1002.2,375.9 1002.9,373.7 1002.8,373.4 1003.4,372.4 1002.7,371.8 1003.8,372.2 1003.7,371.2 1003.9,370.4 1003.9,370.0 1004.1,371.0 1004.6,372.4 1004.7,372.7 1004.5,371.7 1005.5,372.0 1005.2,373.1 1005.6,373.9 1005.8,375.0 1006.3,374.6 1006.4,377.4 1006.1,377.7 1006.5,376.8 1006.6,377.2 1006.5,377.6 1006.5,380.4 1007.0,380.0 1007.2,380.3 1007.3,378.3 1007.5,377.8 1008.1,376.3 1007.5,376.1 1007.9,376.0 1007.7,375.9 1008.6,375.1 1008.2,374.4 1008.3,372.6 1008.5,372.8 1008.9,372.5 1009.3,371.6 1009.6,370.3 1009.3,369.8 1009.9,369.1 1009.9,369.4 1010.2,368.8 1010.0,369.3 1010.4,366.6 1010.6,366.9 1010.8,366.2 1010.7,365.7 1011.4,368.1 1011.5,368.5 1011.8,369.3 1012.6,369.5 1012.6,370.0 1013.2,369.1 1012.9,367.5 1013.1,368.8 1013.6,367.3 1013.5,367.2 1013.3,366.3 1014.3,364.7 1013.7,365.0 1014.4,364.1 1014.5,363.8 1014.8,365.4 1015.7,366.0 1015.3,364.8 1015.8,366.8 1016.4,366.2 1016.9,366.9 1016.7,368.0 1018.0,367.0 1017.7,367.0 1018.2,368.8 1018.7,367.4 1018.2,368.5 1018.9,366.7 1018.6,367.4 1018.9,366.2 1019.3,364.7 1019.8,364.2 1019.3,363.0 1019.2,363.0 1020.2,363.1 1019.8,361.4 1020.1,361.2 1020.6,361.4 1020.2,359.3 1020.3,360.1 1020.6,359.0 1020.9,358.7 1020.9,356.0 1021.2,355.9 1021.5,356.1 1021.4,355.7 1021.7,355.4 1021.9,354.8 1021.4,353.9 1021.6,353.2 1021.9,352.1 1022.0,351.2 1021.7,349.8 1021.9,348.9 1022.8,350.3 1022.4,348.4 1022.8,348.4 1022.5,348.4 1022.5,345.5 1023.4,345.4 1023.4,345.3 1023.4,344.6 1023.9,343.6 1024.0,343.4 1023.9,342.5 1024.4,340.9 1024.0,340.0 1023.9,340.7 1024.5,339.2 1024.3,338.6 1025.2,338.9 1024.9,338.3 1025.1,337.5 1024.9,338.1 1025.5,336.8 1026.0,334.6 1025.8,335.0 1025.4,335.0 1025.6,335.5 1026.0,337.9 1026.3,338.3 1026.3,339.5 1026.8,338.1 1026.7,340.9 1026.9,340.5 1026.6,340.0 1026.6,340.6 1026.5,343.1 1027.0,342.7 1027.4,343.2 1027.2,344.4 1027.8,343.0 1027.2,342.3 1028.1,343.3 1027.5,342.8 1027.5,341.5 1028.0,339.6 1028.3,338.9 1028.4,339.6 1028.4,339.3 1029.0,336.8 1028.4,335.7 1028.9,336.2 1029.0,335.8 1029.3,336.5 1029.8,337.5 1030.1,338.8 1030.8,340.1 1030.5,340.1 1030.5,339.5 1031.5,340.2 1031.3,341.2 1031.4,341.8 1031.7,344.3 1032.2,343.8 1032.1,343.5 1032.3,343.5 1033.1,341.7 1033.3,341.6 1033.4,340.4 1032.7,338.6 1033.6,340.2 1033.4,339.3 1034.0,337.1 1034.0,337.7 1033.9,336.2 1034.2,334.9 1033.8,334.6 1034.1,334.4 1034.4,333.5 1034.5,332.2 1034.6,332.9 1034.8,332.9 1035.5,331.1 1035.1,331.0 1035.5,330.0 1036.2,331.3 1035.8,330.3 1035.9,332.7 1036.5,331.7 1037.0,332.5 1037.5,331.3 1037.6,330.0 1037.5,329.4 1038.1,329.4 1038.0,329.4 1038.4,330.7 1037.8,330.2 1038.5,331.9 1038.2,331.2 1038.0,332.4 1038.4,333.9 1038.9,334.7 1038.6,334.9 1038.8,334.4 1038.3,336.3 1038.7,337.9 1038.6,337.2 1038.7,338.7 1039.3,337.9 1039.0,340.1 1039.4,341.0 1038.9,341.6 1039.2,342.7 1039.1,343.3 1039.8,343.3 1039.5,343.8 1039.3,342.7 1039.7,343.4 1039.6,341.5 1039.9,341.1 1040.4,339.2 1040.1,338.6 1040.5,339.4 1040.9,339.0 1040.5,339.0 1040.5,336.2 1041.2,336.7 1041.1,336.1 1041.4,335.0 1041.6,335.1 1041.8,336.1 1041.9,337.4 1042.3,337.7 1043.4,338.9 1043.2,338.8 1043.9,337.4 1044.2,336.4 1043.9,336.6 1044.7,337.9 1044.5,336.1 1045.1,335.6 1045.2,336.7 1045.3,337.7 1045.9,336.4 1046.7,338.3 1047.0,339.2 1047.0,338.8 1047.4,339.1 1048.1,339.8 1048.0,340.6 1048.6,341.5 1049.5,342.1 1049.5,341.9 1049.3,341.4 1049.9,339.4 1049.9,338.7 1050.5,338.6 1050.2,339.7 1050.5,338.6 1051.1,337.8 1050.7,336.1 1051.4,336.2 1052.0,335.3 1051.8,335.0 1051.8,334.9 1052.9,335.0 1052.8,333.6 1053.2,332.5 1054.2,333.1 1054.1,333.1 1054.7,331.7 1055.1,331.2 1055.3,331.1 1055.3,332.5 1055.8,333.3 1055.5,335.0 1055.3,333.5 1055.7,336.2 1056.0,335.4 1056.4,335.6 1056.6,335.8 1056.4,337.5 1056.6,339.3 1056.7,338.2 1056.4,340.3 1056.6,341.3 1056.9,339.9 1057.3,342.2 1057.3,341.0 1057.2,342.9 1057.8,342.6 1057.4,343.9 1057.6,345.0 1058.2,344.6 1058.4,344.3 1059.1,342.9 1059.5,343.8 1059.4,343.8 1059.4,344.7 1059.4,345.4 1059.9,345.8 1060.2,346.1 1059.6,348.4 1060.1,348.0 1059.7,349.8 1059.9,350.7 1060.5,349.7 1060.1,351.2 1060.4,351.2 1060.4,353.5 1060.6,354.1 1060.5,353.2 1060.8,354.0 1060.9,354.4 1060.7,355.9 1060.7,355.5 1060.8,357.4 1061.4,357.5 1061.1,357.6 1061.9,358.9 1061.6,359.1 1061.7,360.9 1061.7,359.9 1061.6,362.0 1061.9,363.3 1061.8,363.4 1062.0,362.9 1062.4,363.7 1062.0,364.7 1062.3,364.4 1062.9,365.9 1062.4,365.9 1062.6,367.5 1062.4,367.3 1062.4,369.0 1063.0,370.4 1062.7,371.0 1063.3,369.7 1062.8,370.7 1063.6,372.8 1062.9,372.2 1063.0,373.8 1063.4,375.3 1063.9,374.3 1063.4,375.5 1063.6,376.9 1063.5,377.8 1063.9,377.5 1064.1,377.9 1064.6,378.5 1064.5,380.7 1064.7,381.4 1064.4,381.6 1064.9,381.0 1064.6,383.3 1065.1,382.4 1065.2,382.6 1064.9,384.4 1065.0,383.6 1065.3,385.9 1065.4,386.2 1065.6,384.7 1065.0,383.7 1065.6,383.0 1065.3,383.5 1065.5,383.3 1065.3,382.2 1065.6,380.6 1066.2,381.9 1066.3,379.4 1065.4,379.9 1066.3,378.3 1065.8,378.8 1066.1,377.6 1066.3,376.7 1066.4,376.1 1066.4,374.0 1066.2,375.6 1066.3,374.4 1066.4,374.3 1066.4,372.5 1066.3,371.4 1066.8,372.5 1068.0,370.2 1067.7,369.8 1068.2,370.0 1068.6,369.9 1068.5,369.6 1068.9,368.1 1069.1,367.4 1069.0,365.7 1070.1,365.7 1069.7,366.9 1070.1,365.0 1070.1,363.3 1070.8,363.4 1070.7,362.5 1070.3,361.6 1071.1,361.7 1071.2,361.6 1071.2,360.8 1071.0,358.8 1071.4,359.8 1071.3,359.0 1072.0,358.2 1071.5,356.0 1072.0,356.2 1072.8,355.8 1072.5,357.1 1073.6,358.0 1073.9,357.5 1074.2,358.4 1073.9,359.9 1073.9,359.4 1073.9,360.3 1074.5,360.9 1074.3,360.3 1074.7,360.9 1074.9,363.1 1075.1,363.9 1075.1,363.5 1075.4,365.0 1075.1,365.1 1075.5,366.4 1075.3,367.1 1075.6,368.7 1075.1,369.3 1075.5,368.8 1075.4,367.9 1075.9,368.2 1075.6,366.2 1075.8,365.9 1075.8,364.8 1075.5,365.7 1075.9,365.0 1076.2,362.2 1075.9,362.2 1075.9,360.8 1076.6,361.2 1076.1,360.5 1076.7,360.7 1076.5,358.4 1076.2,358.7 1076.7,359.0 1076.5,355.9 1076.9,356.9 1076.7,355.1 1077.0,355.0 1077.0,355.4 1077.7,353.5 1077.8,353.0 1078.2,353.1 1077.9,354.7 1078.8,354.0 1078.5,356.3 1078.5,356.3 1079.3,356.0 1079.3,356.7 1079.7,356.9 1079.0,359.0 1079.3,359.0 1079.9,358.9 1079.4,360.8 1079.6,361.0 1079.7,362.2 1080.1,362.5 1080.4,362.0 1080.6,365.0 1080.3,365.3 1080.4,366.3 1081.1,366.4 1080.7,366.2 1080.6,368.3 1081.5,368.5 1081.6,368.2 1080.8,369.3 1081.4,370.0 1082.0,370.9 1081.9,371.7 1081.6,372.0 1081.5,372.4 1082.3,374.5 1082.1,374.6 1081.9,375.1 1082.5,374.3 1082.7,375.2 1081.9,375.5 1082.3,378.0 1082.3,379.2 1082.6,378.8 1083.2,378.4 1083.5,379.3 1083.8,379.5 1084.2,380.9 1084.4,380.8 1084.5,382.5 1084.5,382.9 1084.2,383.7 1085.1,383.4 1085.1,384.9 1085.0,386.8 1084.8,387.0 1085.2,387.2 1085.1,388.0 1084.6,390.0 1084.5,390.6 1085.1,389.3 1085.3,389.6 1085.2,392.7 1085.2,393.3 1085.2,393.5 1085.5,394.7 1085.0,393.5 1085.1,395.0 1085.1,393.3 1085.7,393.5 1085.8,392.0 1085.4,392.6 1085.4,392.2 1085.4,389.7 1086.1,390.4 1085.6,390.3 1085.4,388.4 1085.9,389.2 1086.1,387.5 1086.2,388.0 1086.0,385.4 1086.3,384.6 1086.0,385.3 1086.3,383.3 1086.0,384.7 1086.9,383.2 1086.7,382.1 1087.2,382.7 1087.2,381.2 1087.0,381.2 1086.7,379.4 1087.0,378.8 1087.3,377.7 1087.6,377.7 1088.1,376.8 1087.8,376.4 1087.7,374.4 1087.9,376.0 1089.0,375.0 1088.9,373.8 1088.7,374.7 1088.7,375.2 1089.1,376.3 1088.8,377.6 1089.3,378.5 1088.9,378.5 1089.7,379.9 1089.2,378.9 1089.9,380.5 1089.2,381.0 1089.4,382.2 1089.3,382.7 1089.7,381.9 1089.6,384.3 1090.4,385.4 1089.5,385.9 1090.2,385.3 1090.1,386.2 1089.8,387.5 1090.4,386.9 1090.5,387.2 1091.0,389.9 1090.9,390.9 1090.5,390.3 1091.4,392.1 1091.2,390.7 1091.1,392.5 1091.3,392.5 1091.4,393.8 1091.3,393.9 1091.5,396.2 1091.6,394.9 1092.6,395.3 1091.8,396.6 1092.6,397.9 1093.1,399.2 1092.4,399.5 1092.8,399.7 1093.2,400.0 1093.7,399.6 1093.5,402.4 1093.5,402.2 1094.0,402.1 1093.5,403.6 1093.5,404.9 1094.1,404.5 1093.9,405.1 1094.3,406.0 1094.5,406.2 1094.1,405.0 1094.6,405.6 1094.8,403.0 1095.1,403.3 1094.8,404.1 1095.1,401.8 1094.5,401.5 1094.8,399.9 1095.0,401.0 1094.6,399.8 1095.0,398.1 1095.4,397.2 1095.3,396.3 1095.5,396.2 1095.3,396.5 1095.3,396.1 1095.0,394.6 1095.3,394.6 1095.2,393.0 1095.5,391.6 1095.4,391.8 1095.6,390.9 1095.0,391.2 1095.5,390.0 1095.4,389.6 1095.2,392.5 1095.8,391.1 1095.5,392.8 1095.9,392.2 1096.1,394.0 1096.3,393.6 1095.8,395.7 1095.9,396.0 1096.4,397.6 1096.6,396.4 1096.3,398.8 1096.5,398.9 1096.8,398.8 1097.0,400.0 1097.0,400.9 1097.1,400.8 1097.2,402.8 1098.0,403.2 1097.9,402.8 1098.0,404.2 1098.4,403.7 1097.5,405.0 1098.3,405.2 1098.2,406.2 1098.8,404.8 1098.6,405.8 1099.0,404.0 1098.8,402.7 1098.7,402.0 1099.1,402.4 1098.4,402.9 1098.9,401.9 1099.5,400.5 1099.1,400.1 1099.2,398.1 1098.8,399.0 1099.8,398.2 1099.5,397.9 1099.4,395.8 1099.9,396.7 1099.8,395.0 1099.9,394.4 1100.1,393.4 1100.0,391.9 1100.3,393.1 1100.1,392.2 1100.6,391.5 1100.2,390.2 1100.7,390.7 1100.2,388.0 1100.5,389.1 1100.6,387.8 1100.9,387.5 1101.1,385.7 1101.3,386.7 1101.4,385.0 1101.8,385.8 1101.7,387.4 1101.8,387.3 1101.9,386.6 1101.8,387.7 1101.8,387.9 1101.7,389.7 1102.3,391.5 1102.5,391.3 1102.4,391.3 1101.8,391.8 1102.4,393.1 1101.9,392.9 1102.6,395.4 1102.4,395.0 1102.9,396.2 1102.6,396.2 1102.9,395.7 1103.2,394.5 1102.6,395.0 1103.4,392.5 1103.8,392.8 1103.4,391.1 1103.3,392.3 1104.0,391.0 1104.0,389.8 1104.4,390.8 1103.8,388.2 1104.6,388.7 1104.5,387.5 1104.9,385.9 1104.7,386.1 1104.5,385.7 1104.7,384.8 1105.5,383.1 1105.8,384.1 1105.4,381.7 1105.8,381.9 1106.3,381.4 1106.1,380.3 1105.7,379.9 1106.0,379.4 1106.4,378.8 1106.4,378.7 1107.2,378.0 1106.9,375.7 1107.6,376.0 1108.0,374.6 1107.9,375.9 1107.8,374.1 1108.2,373.8 1108.2,373.1 1109.1,374.7 1109.1,374.3 1109.4,376.2 1109.5,376.4 1109.1,377.4 1109.5,377.7 1109.4,377.5 1109.5,378.5 1110.1,380.0 1109.9,381.5 1110.5,381.5 1110.0,381.5 1111.0,383.7 1111.1,382.9 1110.9,383.3 1111.0,384.7 1111.1,384.1 1110.8,385.4 1111.2,386.1 1111.2,387.3 1111.5,387.6 1111.4,388.8 1111.8,389.9 1111.9,388.9 1111.7,391.0 1112.0,391.2 1112.5,391.7 1112.9,390.3 1113.0,388.8 1113.2,388.8 1113.4,389.1 1113.3,389.4 1114.0,392.0 1113.4,391.5 1113.3,393.0 1113.6,393.7 1113.7,393.5 1114.2,394.4 1114.5,395.4 1114.2,395.2 1114.2,396.0 1114.7,395.6 1114.5,397.5 1114.3,398.7 1114.2,399.6 1114.4,400.5 1114.4,400.9 1115.0,400.5 1114.7,402.3 1115.1,402.5 1115.1,404.0 1115.2,402.9 1114.7,404.6 1114.9,404.0 1114.9,406.8 1114.9,405.5 1114.7,408.1 1114.8,406.6 1114.7,408.6 1114.6,409.1 1115.0,410.2 1114.8,409.6 1115.0,410.3 1115.2,411.5 1115.1,412.5 1115.5,412.4 1115.2,413.3 1114.9,413.6 1115.3,415.3 1115.4,416.4 1114.9,417.9 1115.8,416.7 1115.1,418.8 1115.0,419.1 1115.3,420.7 1115.2,420.1 1115.2,419.9 1115.8,422.3 1115.3,423.5 1115.3,422.4 1115.5,423.0 1115.9,423.0 1116.1,425.8 1116.3,426.1 1115.5,425.8 1115.5,428.2 1116.0,428.3 1116.2,429.1 1116.5,428.3 1115.9,429.8 1116.2,430.6 1116.1,431.2 1115.9,431.5 1116.3,431.5 1116.5,432.2 1116.1,435.0 1115.8,434.7 1115.9,434.4 1116.3,437.1 1116.1,437.8 1116.0,437.9 1116.6,437.3 1116.4,438.2 1116.1,438.5 1116.6,439.6 1116.1,441.7 1116.1,441.7 1116.3,443.0 1116.2,443.9 1116.0,444.9 1115.7,445.1 1116.3,445.9 1115.9,444.6 1116.5,446.1 1116.0,447.9 1116.4,446.9 1116.4,448.6 1115.8,449.1 1116.4,448.9 1116.7,450.1 1116.4,450.6 1116.2,453.0 1116.2,452.4 1116.1,452.9 1116.1,455.0 1116.8,453.6 1116.6,456.2 1116.5,457.0 1116.1,457.7 1116.6,457.7 1116.3,458.5 1116.8,457.8 1115.9,459.7 1116.4,460.0 1115.9,461.7 1116.7,462.7 1116.0,461.9 1115.9,463.3 1116.0,462.4 1116.1,463.2 1116.7,465.9 1116.5,466.0 1116.3,465.4 1116.0,465.7 1115.9,466.9 1116.4,467.1 1116.4,468.9 1116.1,468.4 1116.2,471.1 1116.6,471.5 1116.1,470.7 1116.6,471.2 1116.3,472.6 1116.0,472.5 1116.1,474.5 1116.3,475.8 1116.4,476.9 1116.0,475.9 1116.1,476.1 1116.1,477.7 1116.2,477.9 1116.5,479.7 1116.7,479.9 1116.3,480.7 1116.7,480.7 1116.6,481.8 1116.2,482.5 1116.5,483.9 1116.1,484.1 1116.2,483.7 1116.2,486.5 1116.1,485.0 1116.5,486.6 1116.4,486.4 1116.3,487.9 1116.4,488.7 1116.4,490.7 1116.0,489.0 1116.2,489.8 1115.9,492.2 1116.7,490.9 1116.1,492.2 1116.3,494.9 1116.0,494.0 1116.4,494.2 1116.3,496.2 1116.6,497.2 1116.6,496.7 1116.1,496.5 1116.6,499.2 1116.7,499.4 1116.4,498.7 1116.4,499.5 1116.5,501.2 1116.3,502.6 1116.7,503.6 1117.0,503.9 1117.1,503.1 1116.9,505.0 1116.8,504.4 1116.8,507.1 1117.0,507.9 1117.1,506.3 1116.8,509.0 1117.2,508.8 1116.9,509.2 1116.9,509.8 1117.0,511.1 1116.8,510.7 1117.3,512.4 1117.2,513.0 1117.1,514.9 1117.1,514.4 1117.1,515.2 1117.2,515.4 1116.9,515.9 1117.4,517.3 1117.7,516.5 1117.3,517.7 1117.5,520.1 1118.0,520.3 1118.1,520.4 1117.8,520.2 1117.9,521.2 1117.8,522.5 1117.9,522.4 1118.0,523.5 1118.5,524.4 1118.5,524.4 1118.4,525.7 1118.3,526.0 1118.6,526.9 1118.1,525.3 1118.4,526.0 1118.7,525.4 1118.2,523.4 1119.0,522.5 1118.3,522.9 1118.5,523.0 1118.9,521.6 1118.5,520.5 1119.0,518.9 1118.5,519.9 1118.7,517.5 1118.8,519.0 1118.8,516.3 1118.9,515.6 1118.0,516.3 1118.7,515.8 1118.5,513.3 1118.0,514.1 1118.8,512.6 1118.7,512.0 1118.4,512.1 1118.7,511.3 1118.1,510.7 1118.7,510.2 1118.6,509.1 1118.2,509.5 1118.9,506.9 1118.6,507.4 1118.4,505.6 1118.3,504.5 1118.7,504.8 1118.9,503.3 1118.9,503.7 1118.4,501.6 1117.9,501.9 1118.4,501.2 1118.0,500.9 1118.1,500.9 1118.5,498.0 1118.7,498.9 1118.0,497.4 1118.5,498.1 1118.2,497.2 1118.7,496.8 1118.4,495.8 1117.8,494.8 1118.6,493.2 1118.6,492.5 1118.6,491.7 1118.3,491.8 1117.8,489.7 1118.0,489.9 1118.3,490.6 1118.6,487.7 1118.4,487.0 1117.7,486.2 1118.5,487.1 1118.2,486.1 1118.2,484.2 1118.1,485.5 1117.6,484.3 1117.7,483.2 1117.8,481.3 1117.6,481.5 1118.5,480.1 1118.0,479.8 1117.9,478.9 1117.9,480.1 1117.7,479.1 1118.0,477.5 1118.3,476.7 1118.2,476.2 1118.5,474.2 1118.2,475.5 1118.1,475.2 1117.5,473.6 1118.2,471.5 1118.0,472.7 1118.1,470.9 1118.2,471.6 1117.6,469.2 1118.2,469.8 1117.8,469.7 1118.3,468.0 1117.7,466.0 1117.4,466.1 1117.8,464.6 1117.6,465.9 1118.1,463.9 1117.4,464.7 1118.2,463.5 1118.0,462.6 1117.5,461.6 1117.3,460.3 1117.4,459.1 1118.0,459.2 1117.6,459.4 1117.9,458.4 1118.1,456.5 1117.7,455.5 1117.9,456.5 1117.2,454.8 1117.3,455.3 1117.8,453.1 1117.9,454.2 1118.0,452.1 1117.2,451.4 1117.4,451.5 1117.5,451.2 1117.4,450.6 1118.0,449.0 1117.1,449.0 1117.9,446.6 1117.8,445.8 1117.4,445.6 1117.2,445.8 1118.0,444.7 1118.0,443.4 1117.2,442.8 1117.8,442.2 1117.4,442.9 1117.5,441.2 1117.6,441.7 1117.9,441.7 1117.2,443.7 1117.6,444.5 1117.9,445.2 1117.3,446.0 1117.3,445.1 1117.4,446.5 1117.6,446.5 1117.8,447.9 1118.2,448.9 1118.0,450.4 1117.8,450.8 1117.3,452.1 1118.2,452.8 1117.3,451.7 1117.6,452.3 1117.5,452.8 1117.9,455.5 1117.6,456.1 1118.2,456.1 1118.2,456.0 1117.9,457.7 1117.4,459.3 1117.6,458.8 1118.2,459.4 1117.5,461.4 1118.3,460.8 1117.8,460.2 1117.8,463.5 1118.2,462.0 1118.1,462.5 1118.0,465.5 1118.0,465.0 1117.6,465.7 1118.5,465.3 1118.0,467.9 1118.4,467.9 1118.2,468.6 1118.3,470.4 1118.3,469.1 1117.9,470.5 1118.4,472.0 1118.0,471.1 1117.9,473.3 1117.8,472.0 1118.3,474.8 1118.8,474.0 1118.2,474.3 1118.0,475.2 1118.7,477.3 1118.7,478.1 1118.2,479.3 1118.5,478.2 1118.8,478.8 1118.1,480.8 1118.2,482.1 1119.0,481.1 1119.1,482.5 1118.7,482.4 1119.1,483.9 1118.5,483.8 1118.5,484.6 1119.2,485.9 1118.9,487.0 1118.4,487.3 1119.1,486.7 1119.3,488.4 1118.4,490.4 1118.8,490.7 1119.4,489.3 1118.8,491.2 1118.8,492.4 1118.9,492.5 1119.0,494.0 1119.1,493.7 1119.5,494.5 1119.6,494.4 1118.8,496.5 1119.6,495.6 1119.1,498.0 1119.5,498.2 1119.5,499.8 1119.4,499.2 1119.0,499.7 1119.7,501.8 1119.2,500.9 1119.9,501.1 1119.3,502.7 1119.6,502.4 1119.7,503.1 1119.5,505.0 1119.2,504.2 1119.8,502.8 1119.7,501.7 1119.2,501.8 1119.2,502.4 1119.7,501.8 1119.6,500.4 1119.1,500.7 1119.5,499.2 1120.0,497.9 1119.5,498.2 1120.0,497.9 1119.6,495.7 1119.7,495.7 1119.9,495.6 1119.9,493.4 1120.0,494.1 1120.1,491.7 1119.7,493.0 1119.7,490.5 1119.4,491.2 1119.4,489.6 1119.8,488.5 1119.8,489.2 1119.5,487.5 1120.1,487.6 1120.0,486.0 1119.8,487.0 1119.9,484.7 1119.9,483.5 1120.0,485.0 1120.1,481.9 1120.0,482.5 1120.3,481.0 1119.5,480.5 1120.0,479.1 1120.5,479.5 1119.5,479.5 1120.4,477.1 1119.6,476.7 1119.8,476.7 1119.5,477.5 1120.2,475.0 1120.1,474.8 1120.2,473.5 1120.4,474.1 1120.1,473.0 1120.1,470.9 1120.3,471.4 1119.6,470.4 1120.1,470.8 1119.6,469.1 1120.4,467.5 1119.8,469.2 1120.1,467.3 1119.8,465.5 1120.1,465.5 1119.4,466.4 1119.4,464.4 1120.1,463.9 1119.7,463.8 1119.6,463.0 1119.8,463.0 1120.2,460.3 1120.2,460.2 1119.7,458.8 1119.5,457.8 1119.5,458.0 1120.0,458.7 1120.0,458.1 1120.2,457.2 1119.6,454.3 1119.9,454.5 1120.3,452.9 1120.2,452.9 1120.0,453.4 1119.7,452.8 1120.1,450.4 1120.1,452.0 1119.8,450.0 1120.1,449.6 1119.9,447.6 1119.9,447.4 1119.5,448.4 1119.6,445.8 1120.2,446.0 1120.2,444.4 1120.3,444.4 1120.3,444.2 1119.7,442.9 1119.5,442.7 1119.5,442.9 1119.7,440.7 1119.9,440.5 1120.4,438.7 1119.9,439.3 1120.0,439.5 1120.1,438.2 1120.2,436.8 1120.0,435.7 1119.7,437.0 1120.3,434.1 1120.5,434.2 1120.1,433.8 1120.1,435.2 1120.1,435.6 1120.6,436.3 1120.1,435.5 1120.7,437.5 1120.4,439.1 1120.7,439.9 1120.4,440.2 1121.2,439.1 1120.5,440.6 1120.7,441.6 1120.6,440.9 1120.6,441.8 1120.9,444.2 1121.2,443.3 1121.3,446.1 1121.8,444.6 1121.4,446.2 1121.7,445.8 1121.9,447.1 1121.8,449.3 1121.7,448.4 1121.3,450.0 1122.0,450.7 1121.5,450.5 1121.8,450.7 1121.7,451.5 1122.6,453.9 1122.4,453.1 1122.2,455.3 1122.1,453.9 1123.0,455.0 1122.6,456.2 1123.2,455.0 1122.4,454.4 1123.3,455.2 1123.1,453.6 1123.0,452.5 1123.6,451.9 1122.9,451.8 1123.3,450.4 1123.9,450.6 1123.6,450.6 1123.4,448.0 1124.3,447.2 1123.9,447.5 1124.3,446.3 1123.9,447.4 1124.7,445.2 1124.4,445.6 1125.2,443.8 1125.1,443.8 1124.8,442.7 1125.5,441.9 1125.8,441.7 1125.4,441.2 1125.5,440.9 1126.5,439.0 1125.8,439.2 1126.0,437.4 1126.4,436.9 1126.7,437.0 1126.4,437.4 1126.9,436.4 1127.0,435.0 1127.4,433.7 1126.9,433.1 1127.3,433.6 1127.0,431.7 1127.0,432.4 1128.0,431.2 1127.8,430.1 1127.6,429.3 1127.4,428.2 1127.9,427.8 1128.2,426.7 1128.0,428.0 1128.2,426.2 1128.1,426.8 1128.0,426.1 1129.1,425.3 1129.2,424.8 1128.8,423.7 1128.6,423.0 1128.7,422.4 1129.4,421.3 1129.5,419.7 1129.7,420.5 1129.5,418.8 1129.8,418.6 1129.5,417.1 1130.1,417.0 1130.1,415.1 1129.7,415.3 1130.7,416.0 1130.2,415.3 1130.4,414.6 1130.7,413.5 1131.0,412.4 1130.7,410.4 1131.6,409.5 1131.4,410.0 1131.6,410.5 1131.7,408.8 1131.9,408.7 1131.6,406.3 1131.8,406.9 1131.8,405.5 1132.1,404.8 1132.4,405.7 1132.4,404.6 1132.2,404.2 1132.6,402.5 1133.1,400.8 1132.3,401.0 1132.7,399.2 1132.7,400.7 1133.1,399.6 1133.2,397.5 1133.8,399.0 1133.4,398.4 1133.7,396.4 1133.2,397.2 1133.2,395.1 1133.6,395.2 1133.8,392.8 1133.9,392.1 1134.2,393.8 1134.4,393.2 1134.4,391.5 1134.5,389.4 1134.5,390.0 1134.4,389.3 1134.7,389.7 1135.0,387.6 1135.4,387.7 1134.6,386.8 1134.9,385.8 1135.3,386.3 1135.5,385.9 1135.5,383.1 1135.6,384.4 1135.4,384.0 1135.3,382.4 1135.5,381.7 1135.6,380.9 1135.7,381.2 1136.5,379.5 1135.8,378.9 1136.0,379.3 1136.4,377.5 1136.8,377.2 1136.2,379.2 1136.4,378.5 1136.4,378.9 1137.2,379.8 1136.5,380.9 1136.6,382.8 1137.4,382.8 1137.7,384.5 1137.4,383.2 1137.7,383.5 1138.0,386.1 1137.8,385.1 1138.1,387.5 1138.3,387.2 1137.8,389.0 1138.0,389.1 1138.4,388.6 1138.2,390.0 1138.5,391.5 1139.0,390.7 1138.5,391.9 1138.5,391.4 1139.1,394.0 1139.0,393.1 1139.2,393.7 1139.5,394.3 1139.3,394.9 1139.7,397.8 1140.0,396.4 1139.6,398.5 1140.1,398.8 1139.8,398.3 1139.8,396.4 1140.7,396.5 1140.2,394.9 1140.7,395.6 1140.8,393.7 1140.5,393.6 1140.2,393.3 1140.8,392.8 1141.1,392.0 1140.9,390.6 1140.9,390.1 1141.0,390.5 1141.1,388.8 1141.5,387.9 1141.6,389.2 1141.4,387.5 1141.2,386.0 1141.7,385.0 1141.8,385.5 1142.2,384.0 1142.3,383.0 1142.3,383.3 1142.3,382.7 1142.4,382.6 1142.8,380.2 1142.7,380.2 1143.1,381.0 1143.4,380.5 1143.2,378.8 1143.7,379.6 1142.9,380.7 1143.8,381.9 1143.5,380.5 1143.6,381.3 1143.5,382.1 1144.1,384.8 1144.1,384.5 1144.3,386.1 1143.9,385.4 1143.8,385.6 1144.4,386.6 1144.1,388.7 1144.3,387.3 1144.4,388.1 1144.4,389.2 1144.7,390.7 1144.5,391.2 1144.6,391.3 1145.1,389.7 1145.0,388.4 1145.4,387.5 1145.2,387.6 1144.8,386.3 1145.2,385.7 1145.4,387.2 1145.8,386.3 1145.6,383.8 1145.3,384.1 1145.7,383.8 1145.7,382.1 1146.2,383.0 1146.1,382.0 1145.8,380.7 1146.4,380.0 1146.9,378.1 1146.9,378.5 1146.3,378.3 1147.3,376.9 1146.6,376.7 1146.6,377.1 1147.3,375.2 1146.9,374.2 1146.9,372.9 1147.5,372.7 1147.6,372.5 1147.7,372.3 1147.3,372.3 1148.0,370.6 1147.5,371.0 1147.9,368.5 1148.3,368.4 1147.9,366.8 1148.7,368.0 1148.8,367.0 1148.4,366.9 1148.1,365.0 1149.0,364.6 1149.0,364.6 1148.6,364.4 1148.9,362.5 1148.5,362.5 1148.6,360.2 1148.7,359.7 1149.4,359.6 1149.5,360.2 1149.4,357.4 1150.0,359.1 1150.2,358.3 1149.9,355.5 1150.4,357.1 1149.9,354.4 1149.8,354.3 1150.0,353.5 1150.3,354.0 1150.4,351.7 1150.7,351.9 1150.8,351.2 1150.4,350.5 1150.7,349.2 1151.4,350.5 1151.0,349.5 1151.0,348.7 1151.2,346.6 1151.1,347.4 1151.7,346.8 1151.8,344.3 1151.0,344.8 1151.6,343.2 1151.3,343.5 1151.9,341.3 1151.5,341.1 1151.6,341.5 1151.4,339.7 1152.2,338.3 1152.0,338.8 1152.3,339.5 1153.2,338.3 1153.4,337.6 1153.4,335.5 1153.9,336.2 1154.0,334.3 1153.7,335.0 1154.6,334.0 1154.4,332.6 1154.6,334.0 1155.1,331.1 1154.5,331.5 1154.8,332.0 1155.2,330.5 1154.8,330.0 1155.2,329.4 1154.9,327.9 1155.3,327.3 1155.6,327.7 1155.8,326.2 1156.1,326.1 1156.4,327.7 1156.2,328.3 1157.1,329.1 1157.5,330.0 1157.6,330.0 1157.3,328.8 1157.6,329.0 1158.3,327.6 1158.3,326.0 1157.8,326.7 1158.6,326.5 1158.7,326.4 1158.1,325.6 1158.1,324.0 1158.3,322.1 1158.5,323.0 1158.9,320.9 1158.7,322.3 1159.0,321.2 1159.5,318.7 1158.7,319.8 1159.5,317.8 1159.6,318.1 1159.2,317.4 1159.5,316.2 1160.0,315.7 1159.9,314.2 1159.6,313.2 1160.5,315.0 1160.7,314.1 1160.6,311.5 1161.2,312.0 1161.1,311.8 1160.9,311.8 1161.4,310.0 1161.8,310.8 1162.0,311.2 1163.0,310.6 1162.6,312.5 1163.2,312.5 1163.6,311.9 1163.9,311.3 1163.5,310.1 1163.8,309.7 1163.8,310.4 1164.2,308.0 1164.2,308.1 1164.3,307.4 1164.6,306.8 1165.1,306.2 1164.8,304.9 1165.7,303.7 1165.3,305.0 1165.7,302.5 1165.3,302.9 1165.8,303.2 1165.6,300.4 1165.2,300.9 1165.8,300.0 1166.2,298.7 1166.1,299.3 1165.5,297.2 1166.0,296.6 1165.7,297.1 1165.8,296.3 1166.8,294.2 1166.1,293.7 1166.4,294.8 1166.7,292.9 1166.4,292.8 1166.7,291.0 1167.1,292.2 1167.0,289.7 1166.9,289.1 1167.4,288.6 1167.0,288.8 1166.7,289.5 1167.3,289.9 1167.7,290.9 1167.5,292.4 1167.4,292.2 1167.4,293.5 1167.7,293.6 1168.4,293.0 1167.9,294.8 1168.5,294.7 1168.4,297.3 1168.9,296.0 1168.9,297.5 1169.1,297.6 1168.6,297.6 1169.5,300.7 1169.0,300.8 1169.6,300.0 1169.9,302.5 1169.1,301.5 1169.9,302.6 1169.4,302.3 1170.2,305.4 1169.9,305.5 1170.2,306.9 1170.1,306.2 1170.0,306.9 1170.4,308.8 1170.8,309.1 1170.4,308.6 1171.0,310.4 1171.0,309.9 1170.6,311.0 1170.6,312.8 1170.8,312.5 1170.8,313.7 1171.0,314.8 1171.4,313.9 1171.6,315.9 1171.5,316.1 1171.3,315.3 1171.1,316.5 1171.7,318.5 1171.5,318.7 1171.8,318.8 1172.0,320.4 1172.4,318.7 1172.3,320.1 1172.6,320.1 1172.2,320.7 1172.5,321.3 1172.1,323.3 1172.6,323.8 1172.3,321.8 1173.1,323.3 1172.8,322.6 1172.9,322.0 1172.5,319.2 1173.1,319.2 1173.0,319.7 1173.0,317.8 1173.5,317.4 1173.1,317.1 1172.7,316.5 1173.3,314.8 1173.2,315.0 1173.8,315.5 1173.9,316.2 1174.4,316.6 1173.7,318.6 1174.0,319.3 1174.5,318.4 1174.4,320.2 1174.5,320.0 1174.9,318.4 1174.4,317.6 1174.7,317.4 1174.5,317.7 1175.2,315.9 1174.8,315.8 1174.9,314.8 1174.6,314.1 1175.3,313.9 1175.4,312.0 1174.7,313.7 1174.7,312.1 1175.1,311.2 1174.9,309.7 1175.3,311.0 1175.5,308.1 1175.3,310.0 1175.9,308.2 1175.8,307.5 1175.7,306.4 1175.5,305.5 1176.4,305.3 1176.5,306.2 1176.5,303.8 1176.4,303.8 1176.4,303.4 1176.3,304.7 1176.2,306.7 1176.7,306.1 1176.9,307.0 1176.7,307.5 1176.9,308.0 1176.9,309.1 1177.5,310.7 1177.5,310.5 1177.2,311.2 1178.0,309.7 1178.3,310.9 1178.2,310.0 1177.9,310.3 1178.2,309.0 1178.0,308.5 1178.7,307.1 1178.5,307.6 1179.1,305.0 1178.6,305.7 1178.9,305.0 1178.7,305.2 1179.0,307.3 1179.3,306.8 1179.4,309.0 1178.7,307.6 1179.6,308.1 1178.9,311.2 1179.5,309.8 1179.1,312.5 1179.0,312.7 1179.0,312.4 1179.7,313.7 1179.3,315.2 1179.8,315.9 1179.4,314.4 1179.2,315.3 1179.2,315.9 1179.5,317.5 1179.8,317.6 1179.3,317.1 1180.2,315.6 1180.5,314.0 1179.7,313.4 1179.9,314.4 1180.5,312.1 1180.5,312.5 1180.9,312.4 1180.7,310.6 1180.6,311.9 1181.0,308.8 1180.9,309.5 1181.2,308.8 1180.8,308.6 1181.2,307.9 1181.8,307.9 1181.4,306.2 1181.3,307.6 1181.2,307.2 1181.1,309.0 1181.4,309.8 1181.8,310.5 1182.0,309.5 1182.1,311.8 1181.8,312.4 1181.8,311.3 1182.1,311.9 1182.0,314.8 1182.5,315.0 1182.2,315.0 1182.5,313.7 1182.9,313.1 1183.2,313.8 1183.6,313.9 1183.0,312.0 1183.5,311.5 1183.7,309.9 1183.8,310.9 1183.3,308.7 1183.3,308.2 1183.7,307.6 1183.3,307.5 1183.4,305.9 1184.2,306.7 1183.7,305.3 1183.9,305.0 1184.2,303.6 1184.2,304.2 1184.6,304.0 1184.2,302.5 1184.6,302.1 1183.9,302.2 1184.6,300.8 1184.3,298.8 1184.1,300.2 1184.5,298.3 1185.0,297.8 1184.5,296.9 1184.7,296.8 1185.0,294.7 1185.1,295.8 1185.3,294.2 1184.5,295.1 1184.8,294.1 1185.4,293.2 1184.9,291.9 1185.1,291.2 1185.2,290.0 1185.3,291.2 1185.3,289.5 1185.2,288.0 1185.7,286.9 1185.3,287.6 1185.9,285.8 1185.9,286.3 1185.0,284.8 1185.1,285.6 1185.7,285.0 1185.1,283.1 1186.0,281.7 1185.5,282.3 1186.0,280.6 1185.4,279.5 1185.8,280.0 1185.9,279.7 1185.4,277.7 1185.9,278.3 1185.5,278.3 1186.1,276.9 1186.2,275.6 1186.2,274.9 1186.4,274.6 1185.8,273.5 1185.9,274.2 1186.4,272.5 1186.0,273.0 1186.7,273.6 1186.1,273.8 1186.5,274.6 1187.0,275.2 1187.2,277.1 1186.5,277.1 1186.9,277.1 1187.3,277.7 1187.1,279.3 1187.0,280.0 1187.4,278.3 1186.8,278.9 1187.0,277.5 1187.1,278.2 1187.4,276.0 1187.6,275.4 1187.0,275.0 1187.6,275.0 1187.6,274.3 1187.5,272.7 1188.1,271.9 1187.9,273.1 1187.8,272.0 1187.7,271.3 1187.6,271.4 1188.5,270.7 1188.3,268.8 1188.3,269.0 1188.2,267.5 1188.7,266.9 1188.2,265.4 1188.3,266.2 1188.1,265.3 1188.2,265.1 1188.4,263.6 1189.2,263.8 1188.9,262.5 1188.5,263.6 1188.8,265.1 1188.7,264.8 1189.0,265.2 1189.2,265.6 1189.4,266.8 1188.9,266.4 1189.4,268.0 1188.9,268.3 1189.7,269.0 1189.1,270.1 1188.9,270.1 1189.8,270.0 1189.1,271.4 1189.5,272.5 1189.3,272.0 1189.7,274.2 1189.2,275.2 1189.8,275.6 1189.6,276.3 1190.4,277.7 1189.9,276.1 1189.9,278.7 1190.1,278.8 1190.1,279.7 1190.5,279.8 1190.1,281.3 1190.4,281.3 1190.4,282.0 1190.7,283.4 1190.9,283.3 1190.8,283.8 1191.2,285.1 1191.2,284.1 1191.4,285.7 1190.8,287.2 1190.8,287.5 1190.7,288.4 1191.5,289.2 1191.3,290.0 1191.4,290.0 1191.2,290.6 1191.7,290.7 1192.1,293.0 1191.9,291.2 1191.7,293.7 1192.1,294.3 1192.2,295.1 1192.2,295.0 1192.7,296.9 1192.4,297.0 1192.7,296.4 1192.9,296.7 1192.5,297.4 1193.0,299.8 1192.2,299.4 1192.9,299.8 1192.4,300.8 1192.7,302.0 1192.6,302.1 1193.3,302.2 1192.7,303.3 1193.0,305.1 1193.1,306.6 1193.1,305.1 1192.8,307.1 1193.2,307.5 1192.9,307.5 1193.6,305.5 1193.9,306.6 1193.3,303.8 1193.5,303.5 1193.9,302.4 1193.6,302.4 1194.0,301.7 1193.3,300.0 1193.7,300.2 1193.7,300.5 1193.7,299.2 1193.5,297.2 1193.8,298.3 1193.8,298.2 1193.6,295.4 1193.8,294.9 1194.1,295.0 1193.8,293.5 1194.7,293.1 1194.7,294.0 1194.3,292.9 1194.7,291.9 1194.5,291.1 1194.1,290.5 1194.7,290.4 1194.9,288.7 1194.8,287.5 1194.5,286.5 1194.9,286.1 1194.6,286.6 1195.3,284.3 1195.4,284.2 1194.9,284.4 1195.5,284.1 1195.1,282.5 1195.5,283.5 1195.4,282.6 1195.4,283.4 1195.8,284.7 1195.7,284.8 1195.9,285.8 1195.2,286.8 1195.9,288.2 1195.6,288.4 1195.4,288.5 1196.0,290.0 1195.7,291.9 1195.9,291.8 1196.4,291.0 1196.6,293.5 1196.7,292.4 1196.1,294.5 1197.1,295.4 1196.2,295.9 1196.4,295.4 1196.8,297.3 1197.0,297.5 1196.8,297.6 1197.2,298.5 1196.9,298.5 1196.8,300.9 1196.5,301.0 1196.8,302.0 1196.7,302.3 1197.2,304.1 1196.6,303.7 1197.1,303.1 1196.6,304.3 1196.9,304.5 1196.7,306.3 1197.3,308.3 1197.4,306.8 1196.6,308.7 1197.0,308.2 1197.0,311.0 1197.0,310.4 1197.0,311.2 1196.9,310.9 1197.6,310.1 1197.1,309.7 1197.3,308.8 1197.3,306.8 1197.7,306.7 1197.1,306.2 1197.3,306.4 1197.2,306.1 1197.9,303.5 1198.1,303.6 1198.0,302.6 1198.0,302.5 1197.9,302.5 1198.7,304.6 1198.9,303.8 1199.1,303.1 1199.3,303.2 1199.1,300.7 1199.7,300.3 1199.1,300.1 1199.5,300.0 1199.7,299.1 1199.5,297.7 1199.9,298.5 1199.8,298.3 1199.2,297.4 1200.0,295.8 1199.6,296.4 1200.1,295.6 1199.4,294.4 1199.6,291.8 1200.2,293.4 1200.2,291.8 1200.0,289.9 1200.2,289.7 1200.3,288.5 1199.7,288.3 1200.1,287.7 1200.1,287.5 1200.0,286.8 1199.9,286.2 1199.8,285.3 1200.4,284.8 1199.8,284.1 1200.8,283.1 1200.2,283.6 1200.8,282.8 1200.4,280.6 1200.1,281.0 1200.2,280.4 1200.2,279.2 1200.8,279.0 1200.5,278.2 1201.1,278.0 1200.7,275.4 1200.4,275.1 1200.4,275.7 1201.0,273.4 1201.4,273.8 1201.4,272.4 1201.0,272.5 1201.2,274.3 1201.3,273.3 1201.6,274.1 1201.1,275.3 1201.1,277.0 1201.3,275.6 1201.2,278.0 1201.8,276.9 1201.5,278.8 1201.8,279.0 1201.0,277.5 1202.0,277.0 1202.0,276.5 1201.4,276.2 1201.6,273.6 1201.5,272.6 1202.1,271.9 1202.1,271.6 1201.3,272.2 1201.8,271.1 1201.6,270.1 1201.7,270.7 1201.9,269.9 1201.9,267.8 1201.5,267.6 1202.0,265.6 1201.8,266.6 1201.7,266.7 1202.0,265.4 1201.7,265.0 1201.8,262.4 1202.0,261.9 1202.0,263.1 1201.9,260.5 1202.3,260.2 1202.2,260.7 1201.9,258.5 1201.8,258.9 1201.7,258.9 1201.7,258.0 1202.5,257.1 1202.7,255.4 1202.2,255.0 1202.5,255.9 1201.9,256.5 1202.6,256.5 1202.3,256.7 1202.1,257.6 1202.1,257.9 1202.5,259.8 1202.9,259.5 1203.2,262.0 1202.8,260.8 1202.9,262.5 1203.0,260.6 1202.5,261.4 1202.8,261.5 1203.1,260.2 1203.3,259.1 1202.9,258.8 1202.6,256.9 1202.6,257.7 1203.1,255.5 1203.4,254.7 1202.8,254.5 1203.3,254.6 1203.6,254.2 1203.4,253.5 1203.4,252.3 1203.6,252.2 1203.2,251.1 1203.2,249.8 1203.3,250.3 1203.4,247.6 1203.1,247.9 1203.7,246.9 1203.0,245.6 1202.8,245.7 1203.2,245.5 1202.8,245.8 1203.6,243.1 1203.3,243.9 1202.9,241.9 1203.1,242.0 1203.4,241.2 1203.7,242.7 1203.3,241.4 1203.1,243.0 1203.2,243.5 1203.9,244.7 1203.5,245.2 1204.1,247.4 1204.0,245.7 1204.1,248.5 1203.8,247.3 1204.1,249.7 1204.4,250.4 1203.7,249.4 1204.5,251.9 1204.3,250.5 1203.8,252.6 1204.7,253.7 1204.2,253.8 1204.4,254.6 1204.4,255.9 1204.5,256.6 1204.5,256.2 1205.2,257.3 1204.7,256.2 1204.8,257.4 1204.9,257.6 1204.9,259.0 1205.1,260.0 1205.5,258.9 1205.4,258.9 1205.4,258.8 1205.7,256.4 1205.1,255.5 1205.5,254.8 1205.2,256.4 1205.4,254.4 1205.3,254.7 1205.6,253.3 1205.9,251.8 1205.1,253.0 1206.0,252.0 1206.0,250.7 1205.8,250.0 1205.5,248.6 1206.3,247.8 1206.3,247.9 1206.4,247.5 1206.8,248.9 1206.3,247.9 1206.6,249.9 1206.1,250.1 1206.3,250.4 1206.9,252.6 1206.3,251.8 1206.8,254.0 1207.2,254.3 1206.5,254.9 1207.1,253.7 1206.9,255.6 1207.0,256.2 1206.7,254.7 1207.0,253.6 1206.9,254.3 1206.9,253.6 1207.5,252.8 1207.0,252.7 1207.6,250.5 1207.5,251.9 1207.6,249.3 1207.7,249.0 1207.1,248.2 1207.6,248.5 1207.0,246.9 1207.4,247.6 1207.5,246.5 1207.2,246.3 1207.6,245.0 1207.3,244.2 1207.3,243.1 1208.0,242.6 1207.2,241.8 1207.3,241.9 1207.3,241.2 1207.6,240.0 1207.6,239.1 1207.8,239.9 1207.8,237.2 1207.6,236.3 1207.9,237.6 1207.4,235.3 1207.5,235.3 1208.3,233.6 1208.3,233.6 1208.0,233.1 1208.1,234.1 1208.5,235.6 1208.6,235.3 1208.6,236.5 1208.3,236.7 1208.0,236.2 1208.2,237.2 1207.8,239.6 1208.0,240.4 1208.4,239.2 1208.3,239.4 1208.5,240.7 1208.0,241.1 1208.5,242.5" fill="none" stroke="#f8be1c" stroke-width="2.2" stroke-linejoin="round"/>
<path d="M905 161.3H932" stroke="#b40b0b" stroke-width="2"/>
<path d="M1065 161.3H1092" stroke="#f8be1c" stroke-width="2"/>
<text x="935" y="165" class="lg" textLength="127" lengthAdjust="spacing">现货价:原油:英国布伦特Dtd</text>
<text x="1096" y="165" class="lg" textLength="134" lengthAdjust="spacing">TIPS隐含10y盈亏平衡通胀率</text>
</svg>
<div class="ct" style="left:65px;top:136.5px;letter-spacing:0"><span style="font-size:18.4px">2018-2022</span> <span style="letter-spacing:1.8px;margin-left:1px">美国通胀情况（%）</span></div>
<div class="ct" style="left:667px;top:136px;letter-spacing:1.5px">通胀预期与布伦特原油价格</div>
<div class="src" style="left:60px;top:639.5px">数据来源：<span>Wind</span></div>
<div class="src" style="left:660px;top:639.5px">数据来源：<span>Wind</span></div>
</body></html>
